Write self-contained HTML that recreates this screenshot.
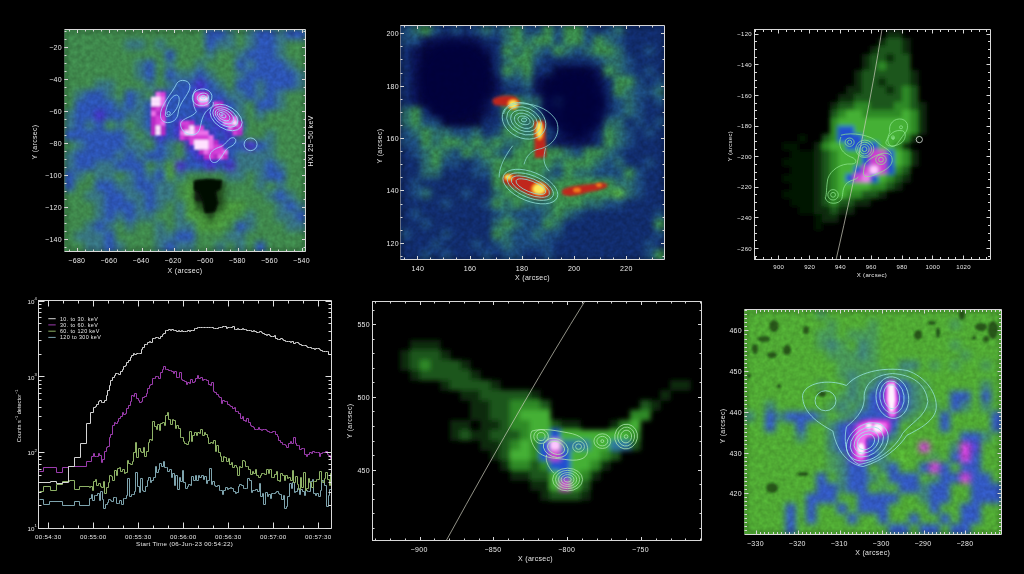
<!DOCTYPE html>
<html><head><meta charset="utf-8"><title>Solar flare observations</title>
<style>html,body{margin:0;padding:0;background:#000;width:1024px;height:574px;overflow:hidden}svg{display:block}</style>
</head><body>
<svg width="1024" height="574" viewBox="0 0 1024 574" font-family="Liberation Sans, sans-serif">
<rect width="1024" height="574" fill="#000"/>
<defs>
<filter id="b1" x="-10%" y="-10%" width="120%" height="120%" color-interpolation-filters="sRGB"><feGaussianBlur in="SourceGraphic" stdDeviation="3.0" result="bl"/><feTurbulence type="fractalNoise" baseFrequency="0.22" numOctaves="2" seed="51" result="tn"/><feColorMatrix in="tn" type="matrix" values="1 0 0 0 0  1 0 0 0 0  1 0 0 0 0  0 0 0 0 1" result="gn"/><feComposite in="bl" in2="gn" operator="arithmetic" k1="0.32" k2="0.84" k3="0" k4="0"/></filter>
<filter id="b2" x="-10%" y="-10%" width="120%" height="120%" color-interpolation-filters="sRGB"><feGaussianBlur in="SourceGraphic" stdDeviation="3.0" result="bl"/><feTurbulence type="fractalNoise" baseFrequency="0.22" numOctaves="2" seed="52" result="tn"/><feColorMatrix in="tn" type="matrix" values="1 0 0 0 0  1 0 0 0 0  1 0 0 0 0  0 0 0 0 1" result="gn"/><feComposite in="bl" in2="gn" operator="arithmetic" k1="0.44" k2="0.78" k3="0" k4="0"/></filter>
<filter id="b3" x="-10%" y="-10%" width="120%" height="120%"><feGaussianBlur stdDeviation="2.2"/></filter>
<filter id="b5" x="-10%" y="-10%" width="120%" height="120%"><feGaussianBlur stdDeviation="2.5"/></filter>
<filter id="b6" x="-10%" y="-10%" width="120%" height="120%" color-interpolation-filters="sRGB"><feGaussianBlur in="SourceGraphic" stdDeviation="3.0" result="bl"/><feTurbulence type="fractalNoise" baseFrequency="0.22" numOctaves="2" seed="56" result="tn"/><feColorMatrix in="tn" type="matrix" values="1 0 0 0 0  1 0 0 0 0  1 0 0 0 0  0 0 0 0 1" result="gn"/><feComposite in="bl" in2="gn" operator="arithmetic" k1="0.28" k2="0.86" k3="0" k4="0"/></filter>
<clipPath id="c1"><rect x="64.5" y="29.5" width="241" height="222"/></clipPath>
<clipPath id="c2"><rect x="400.5" y="25.3" width="264" height="234.4"/></clipPath>
<clipPath id="c3"><rect x="754.4" y="29.5" width="236.2" height="229.7"/></clipPath>
<clipPath id="c5"><rect x="372.4" y="301.4" width="329.4" height="238.8"/></clipPath>
<clipPath id="c6"><rect x="744.3" y="309.3" width="257.1" height="224.7"/></clipPath>
</defs>
<defs><filter id="hb" x="-20%" y="-20%" width="140%" height="140%"><feGaussianBlur stdDeviation="1.3"/></filter></defs>
<g clip-path="url(#c1)"><rect x="59.5" y="24.5" width="251" height="232" fill="#3f884c"/>
<g filter="url(#b1)">
<rect x="64.50" y="29.50" width="10.64" height="10.69" fill="#3f884c"/>
<rect x="74.54" y="29.50" width="10.64" height="10.69" fill="#3f884c"/>
<rect x="84.58" y="29.50" width="10.64" height="10.69" fill="#3f884c"/>
<rect x="94.62" y="29.50" width="10.64" height="10.69" fill="#3f884c"/>
<rect x="104.67" y="29.50" width="10.64" height="10.69" fill="#3f884c"/>
<rect x="114.71" y="29.50" width="10.64" height="10.69" fill="#3f884c"/>
<rect x="124.75" y="29.50" width="10.64" height="10.69" fill="#3f884c"/>
<rect x="134.79" y="29.50" width="10.64" height="10.69" fill="#3f884c"/>
<rect x="144.83" y="29.50" width="10.64" height="10.69" fill="#3f884c"/>
<rect x="154.88" y="29.50" width="10.64" height="10.69" fill="#3f884c"/>
<rect x="164.92" y="29.50" width="10.64" height="10.69" fill="#3f884c"/>
<rect x="174.96" y="29.50" width="10.64" height="10.69" fill="#3f884c"/>
<rect x="185.00" y="29.50" width="10.64" height="10.69" fill="#3f884c"/>
<rect x="195.04" y="29.50" width="10.64" height="10.69" fill="#3f884c"/>
<rect x="205.08" y="29.50" width="10.64" height="10.69" fill="#2c54b4"/>
<rect x="215.12" y="29.50" width="10.64" height="10.69" fill="#2c54b4"/>
<rect x="225.17" y="29.50" width="10.64" height="10.69" fill="#377482"/>
<rect x="235.21" y="29.50" width="10.64" height="10.69" fill="#3f884c"/>
<rect x="245.25" y="29.50" width="10.64" height="10.69" fill="#377482"/>
<rect x="255.29" y="29.50" width="10.64" height="10.69" fill="#2c54b4"/>
<rect x="265.33" y="29.50" width="10.64" height="10.69" fill="#2c54b4"/>
<rect x="275.38" y="29.50" width="10.64" height="10.69" fill="#377482"/>
<rect x="285.42" y="29.50" width="10.64" height="10.69" fill="#2c54b4"/>
<rect x="295.46" y="29.50" width="10.64" height="10.69" fill="#2c54b4"/>
<rect x="64.50" y="39.59" width="10.64" height="10.69" fill="#3f884c"/>
<rect x="74.54" y="39.59" width="10.64" height="10.69" fill="#3f884c"/>
<rect x="84.58" y="39.59" width="10.64" height="10.69" fill="#3f884c"/>
<rect x="94.62" y="39.59" width="10.64" height="10.69" fill="#3f884c"/>
<rect x="104.67" y="39.59" width="10.64" height="10.69" fill="#3f884c"/>
<rect x="114.71" y="39.59" width="10.64" height="10.69" fill="#3f884c"/>
<rect x="124.75" y="39.59" width="10.64" height="10.69" fill="#377482"/>
<rect x="134.79" y="39.59" width="10.64" height="10.69" fill="#377482"/>
<rect x="144.83" y="39.59" width="10.64" height="10.69" fill="#3f884c"/>
<rect x="154.88" y="39.59" width="10.64" height="10.69" fill="#377482"/>
<rect x="164.92" y="39.59" width="10.64" height="10.69" fill="#3f884c"/>
<rect x="174.96" y="39.59" width="10.64" height="10.69" fill="#3f884c"/>
<rect x="185.00" y="39.59" width="10.64" height="10.69" fill="#3f884c"/>
<rect x="195.04" y="39.59" width="10.64" height="10.69" fill="#3f884c"/>
<rect x="205.08" y="39.59" width="10.64" height="10.69" fill="#2c54b4"/>
<rect x="215.12" y="39.59" width="10.64" height="10.69" fill="#377482"/>
<rect x="225.17" y="39.59" width="10.64" height="10.69" fill="#377482"/>
<rect x="235.21" y="39.59" width="10.64" height="10.69" fill="#3f884c"/>
<rect x="245.25" y="39.59" width="10.64" height="10.69" fill="#377482"/>
<rect x="255.29" y="39.59" width="10.64" height="10.69" fill="#2c54b4"/>
<rect x="265.33" y="39.59" width="10.64" height="10.69" fill="#2c54b4"/>
<rect x="275.38" y="39.59" width="10.64" height="10.69" fill="#377482"/>
<rect x="285.42" y="39.59" width="10.64" height="10.69" fill="#3f884c"/>
<rect x="295.46" y="39.59" width="10.64" height="10.69" fill="#3f884c"/>
<rect x="64.50" y="49.68" width="10.64" height="10.69" fill="#3f884c"/>
<rect x="74.54" y="49.68" width="10.64" height="10.69" fill="#3f884c"/>
<rect x="84.58" y="49.68" width="10.64" height="10.69" fill="#3f884c"/>
<rect x="94.62" y="49.68" width="10.64" height="10.69" fill="#3f884c"/>
<rect x="104.67" y="49.68" width="10.64" height="10.69" fill="#3f884c"/>
<rect x="114.71" y="49.68" width="10.64" height="10.69" fill="#3f884c"/>
<rect x="124.75" y="49.68" width="10.64" height="10.69" fill="#3f884c"/>
<rect x="134.79" y="49.68" width="10.64" height="10.69" fill="#3f884c"/>
<rect x="144.83" y="49.68" width="10.64" height="10.69" fill="#3f884c"/>
<rect x="154.88" y="49.68" width="10.64" height="10.69" fill="#3f884c"/>
<rect x="164.92" y="49.68" width="10.64" height="10.69" fill="#2c54b4"/>
<rect x="174.96" y="49.68" width="10.64" height="10.69" fill="#3f884c"/>
<rect x="185.00" y="49.68" width="10.64" height="10.69" fill="#3f884c"/>
<rect x="195.04" y="49.68" width="10.64" height="10.69" fill="#3f884c"/>
<rect x="205.08" y="49.68" width="10.64" height="10.69" fill="#377482"/>
<rect x="215.12" y="49.68" width="10.64" height="10.69" fill="#3f884c"/>
<rect x="225.17" y="49.68" width="10.64" height="10.69" fill="#3f884c"/>
<rect x="235.21" y="49.68" width="10.64" height="10.69" fill="#377482"/>
<rect x="245.25" y="49.68" width="10.64" height="10.69" fill="#2c54b4"/>
<rect x="255.29" y="49.68" width="10.64" height="10.69" fill="#2c54b4"/>
<rect x="265.33" y="49.68" width="10.64" height="10.69" fill="#2c54b4"/>
<rect x="275.38" y="49.68" width="10.64" height="10.69" fill="#377482"/>
<rect x="285.42" y="49.68" width="10.64" height="10.69" fill="#3f884c"/>
<rect x="295.46" y="49.68" width="10.64" height="10.69" fill="#3f884c"/>
<rect x="64.50" y="59.77" width="10.64" height="10.69" fill="#3f884c"/>
<rect x="74.54" y="59.77" width="10.64" height="10.69" fill="#3f884c"/>
<rect x="84.58" y="59.77" width="10.64" height="10.69" fill="#3f884c"/>
<rect x="94.62" y="59.77" width="10.64" height="10.69" fill="#3f884c"/>
<rect x="104.67" y="59.77" width="10.64" height="10.69" fill="#3f884c"/>
<rect x="114.71" y="59.77" width="10.64" height="10.69" fill="#3f884c"/>
<rect x="124.75" y="59.77" width="10.64" height="10.69" fill="#3f884c"/>
<rect x="134.79" y="59.77" width="10.64" height="10.69" fill="#377482"/>
<rect x="144.83" y="59.77" width="10.64" height="10.69" fill="#2c54b4"/>
<rect x="154.88" y="59.77" width="10.64" height="10.69" fill="#3f884c"/>
<rect x="164.92" y="59.77" width="10.64" height="10.69" fill="#377482"/>
<rect x="174.96" y="59.77" width="10.64" height="10.69" fill="#3f884c"/>
<rect x="185.00" y="59.77" width="10.64" height="10.69" fill="#3f884c"/>
<rect x="195.04" y="59.77" width="10.64" height="10.69" fill="#377482"/>
<rect x="205.08" y="59.77" width="10.64" height="10.69" fill="#3f884c"/>
<rect x="215.12" y="59.77" width="10.64" height="10.69" fill="#3f884c"/>
<rect x="225.17" y="59.77" width="10.64" height="10.69" fill="#3f884c"/>
<rect x="235.21" y="59.77" width="10.64" height="10.69" fill="#2c54b4"/>
<rect x="245.25" y="59.77" width="10.64" height="10.69" fill="#377482"/>
<rect x="255.29" y="59.77" width="10.64" height="10.69" fill="#2c54b4"/>
<rect x="265.33" y="59.77" width="10.64" height="10.69" fill="#2c54b4"/>
<rect x="275.38" y="59.77" width="10.64" height="10.69" fill="#2c54b4"/>
<rect x="285.42" y="59.77" width="10.64" height="10.69" fill="#377482"/>
<rect x="295.46" y="59.77" width="10.64" height="10.69" fill="#3f884c"/>
<rect x="64.50" y="69.86" width="10.64" height="10.69" fill="#3f884c"/>
<rect x="74.54" y="69.86" width="10.64" height="10.69" fill="#3f884c"/>
<rect x="84.58" y="69.86" width="10.64" height="10.69" fill="#3f884c"/>
<rect x="94.62" y="69.86" width="10.64" height="10.69" fill="#3f884c"/>
<rect x="104.67" y="69.86" width="10.64" height="10.69" fill="#3f884c"/>
<rect x="114.71" y="69.86" width="10.64" height="10.69" fill="#3f884c"/>
<rect x="124.75" y="69.86" width="10.64" height="10.69" fill="#3f884c"/>
<rect x="134.79" y="69.86" width="10.64" height="10.69" fill="#377482"/>
<rect x="144.83" y="69.86" width="10.64" height="10.69" fill="#2c54b4"/>
<rect x="154.88" y="69.86" width="10.64" height="10.69" fill="#3f884c"/>
<rect x="164.92" y="69.86" width="10.64" height="10.69" fill="#2c54b4"/>
<rect x="174.96" y="69.86" width="10.64" height="10.69" fill="#377482"/>
<rect x="185.00" y="69.86" width="10.64" height="10.69" fill="#377482"/>
<rect x="195.04" y="69.86" width="10.64" height="10.69" fill="#2c54b4"/>
<rect x="205.08" y="69.86" width="10.64" height="10.69" fill="#377482"/>
<rect x="215.12" y="69.86" width="10.64" height="10.69" fill="#3f884c"/>
<rect x="225.17" y="69.86" width="10.64" height="10.69" fill="#3f884c"/>
<rect x="235.21" y="69.86" width="10.64" height="10.69" fill="#377482"/>
<rect x="245.25" y="69.86" width="10.64" height="10.69" fill="#2c54b4"/>
<rect x="255.29" y="69.86" width="10.64" height="10.69" fill="#2c54b4"/>
<rect x="265.33" y="69.86" width="10.64" height="10.69" fill="#2c54b4"/>
<rect x="275.38" y="69.86" width="10.64" height="10.69" fill="#2c54b4"/>
<rect x="285.42" y="69.86" width="10.64" height="10.69" fill="#2c54b4"/>
<rect x="295.46" y="69.86" width="10.64" height="10.69" fill="#377482"/>
<rect x="64.50" y="79.95" width="10.64" height="10.69" fill="#3f884c"/>
<rect x="74.54" y="79.95" width="10.64" height="10.69" fill="#3f884c"/>
<rect x="84.58" y="79.95" width="10.64" height="10.69" fill="#3f884c"/>
<rect x="94.62" y="79.95" width="10.64" height="10.69" fill="#377482"/>
<rect x="104.67" y="79.95" width="10.64" height="10.69" fill="#377482"/>
<rect x="114.71" y="79.95" width="10.64" height="10.69" fill="#3f884c"/>
<rect x="124.75" y="79.95" width="10.64" height="10.69" fill="#3f884c"/>
<rect x="134.79" y="79.95" width="10.64" height="10.69" fill="#3f884c"/>
<rect x="144.83" y="79.95" width="10.64" height="10.69" fill="#377482"/>
<rect x="154.88" y="79.95" width="10.64" height="10.69" fill="#3f884c"/>
<rect x="164.92" y="79.95" width="10.64" height="10.69" fill="#377482"/>
<rect x="174.96" y="79.95" width="10.64" height="10.69" fill="#2c54b4"/>
<rect x="185.00" y="79.95" width="10.64" height="10.69" fill="#2c54b4"/>
<rect x="195.04" y="79.95" width="10.64" height="10.69" fill="#4630c8"/>
<rect x="205.08" y="79.95" width="10.64" height="10.69" fill="#2c54b4"/>
<rect x="215.12" y="79.95" width="10.64" height="10.69" fill="#377482"/>
<rect x="225.17" y="79.95" width="10.64" height="10.69" fill="#3f884c"/>
<rect x="235.21" y="79.95" width="10.64" height="10.69" fill="#2c54b4"/>
<rect x="245.25" y="79.95" width="10.64" height="10.69" fill="#2c54b4"/>
<rect x="255.29" y="79.95" width="10.64" height="10.69" fill="#377482"/>
<rect x="265.33" y="79.95" width="10.64" height="10.69" fill="#2c54b4"/>
<rect x="275.38" y="79.95" width="10.64" height="10.69" fill="#2c54b4"/>
<rect x="285.42" y="79.95" width="10.64" height="10.69" fill="#2c54b4"/>
<rect x="295.46" y="79.95" width="10.64" height="10.69" fill="#377482"/>
<rect x="64.50" y="90.05" width="10.64" height="10.69" fill="#3f884c"/>
<rect x="74.54" y="90.05" width="10.64" height="10.69" fill="#377482"/>
<rect x="84.58" y="90.05" width="10.64" height="10.69" fill="#2c54b4"/>
<rect x="94.62" y="90.05" width="10.64" height="10.69" fill="#2c54b4"/>
<rect x="104.67" y="90.05" width="10.64" height="10.69" fill="#377482"/>
<rect x="114.71" y="90.05" width="10.64" height="10.69" fill="#3f884c"/>
<rect x="124.75" y="90.05" width="10.64" height="10.69" fill="#2c54b4"/>
<rect x="134.79" y="90.05" width="10.64" height="10.69" fill="#377482"/>
<rect x="144.83" y="90.05" width="10.64" height="10.69" fill="#3f884c"/>
<rect x="154.88" y="90.05" width="10.64" height="10.69" fill="#4630c8"/>
<rect x="164.92" y="90.05" width="10.64" height="10.69" fill="#2c54b4"/>
<rect x="174.96" y="90.05" width="10.64" height="10.69" fill="#2c54b4"/>
<rect x="185.00" y="90.05" width="10.64" height="10.69" fill="#2c54b4"/>
<rect x="195.04" y="90.05" width="10.64" height="10.69" fill="#4630c8"/>
<rect x="205.08" y="90.05" width="10.64" height="10.69" fill="#2c54b4"/>
<rect x="215.12" y="90.05" width="10.64" height="10.69" fill="#2c54b4"/>
<rect x="225.17" y="90.05" width="10.64" height="10.69" fill="#377482"/>
<rect x="235.21" y="90.05" width="10.64" height="10.69" fill="#377482"/>
<rect x="245.25" y="90.05" width="10.64" height="10.69" fill="#2c54b4"/>
<rect x="255.29" y="90.05" width="10.64" height="10.69" fill="#377482"/>
<rect x="265.33" y="90.05" width="10.64" height="10.69" fill="#2c54b4"/>
<rect x="275.38" y="90.05" width="10.64" height="10.69" fill="#377482"/>
<rect x="285.42" y="90.05" width="10.64" height="10.69" fill="#3f884c"/>
<rect x="295.46" y="90.05" width="10.64" height="10.69" fill="#3f884c"/>
<rect x="64.50" y="100.14" width="10.64" height="10.69" fill="#3f884c"/>
<rect x="74.54" y="100.14" width="10.64" height="10.69" fill="#2c54b4"/>
<rect x="84.58" y="100.14" width="10.64" height="10.69" fill="#2c54b4"/>
<rect x="94.62" y="100.14" width="10.64" height="10.69" fill="#2c54b4"/>
<rect x="104.67" y="100.14" width="10.64" height="10.69" fill="#2c54b4"/>
<rect x="114.71" y="100.14" width="10.64" height="10.69" fill="#377482"/>
<rect x="124.75" y="100.14" width="10.64" height="10.69" fill="#2c54b4"/>
<rect x="134.79" y="100.14" width="10.64" height="10.69" fill="#377482"/>
<rect x="144.83" y="100.14" width="10.64" height="10.69" fill="#2c54b4"/>
<rect x="154.88" y="100.14" width="10.64" height="10.69" fill="#4630c8"/>
<rect x="164.92" y="100.14" width="10.64" height="10.69" fill="#2c54b4"/>
<rect x="174.96" y="100.14" width="10.64" height="10.69" fill="#2c54b4"/>
<rect x="185.00" y="100.14" width="10.64" height="10.69" fill="#2c54b4"/>
<rect x="195.04" y="100.14" width="10.64" height="10.69" fill="#4630c8"/>
<rect x="205.08" y="100.14" width="10.64" height="10.69" fill="#2c54b4"/>
<rect x="215.12" y="100.14" width="10.64" height="10.69" fill="#4630c8"/>
<rect x="225.17" y="100.14" width="10.64" height="10.69" fill="#2c54b4"/>
<rect x="235.21" y="100.14" width="10.64" height="10.69" fill="#377482"/>
<rect x="245.25" y="100.14" width="10.64" height="10.69" fill="#3f884c"/>
<rect x="255.29" y="100.14" width="10.64" height="10.69" fill="#2c54b4"/>
<rect x="265.33" y="100.14" width="10.64" height="10.69" fill="#2c54b4"/>
<rect x="275.38" y="100.14" width="10.64" height="10.69" fill="#377482"/>
<rect x="285.42" y="100.14" width="10.64" height="10.69" fill="#3f884c"/>
<rect x="295.46" y="100.14" width="10.64" height="10.69" fill="#3f884c"/>
<rect x="64.50" y="110.23" width="10.64" height="10.69" fill="#377482"/>
<rect x="74.54" y="110.23" width="10.64" height="10.69" fill="#2c54b4"/>
<rect x="84.58" y="110.23" width="10.64" height="10.69" fill="#2c54b4"/>
<rect x="94.62" y="110.23" width="10.64" height="10.69" fill="#4630c8"/>
<rect x="104.67" y="110.23" width="10.64" height="10.69" fill="#2c54b4"/>
<rect x="114.71" y="110.23" width="10.64" height="10.69" fill="#2c54b4"/>
<rect x="124.75" y="110.23" width="10.64" height="10.69" fill="#377482"/>
<rect x="134.79" y="110.23" width="10.64" height="10.69" fill="#377482"/>
<rect x="144.83" y="110.23" width="10.64" height="10.69" fill="#2c54b4"/>
<rect x="154.88" y="110.23" width="10.64" height="10.69" fill="#4630c8"/>
<rect x="164.92" y="110.23" width="10.64" height="10.69" fill="#2c54b4"/>
<rect x="174.96" y="110.23" width="10.64" height="10.69" fill="#2c54b4"/>
<rect x="185.00" y="110.23" width="10.64" height="10.69" fill="#2c54b4"/>
<rect x="195.04" y="110.23" width="10.64" height="10.69" fill="#2c54b4"/>
<rect x="205.08" y="110.23" width="10.64" height="10.69" fill="#4630c8"/>
<rect x="215.12" y="110.23" width="10.64" height="10.69" fill="#4630c8"/>
<rect x="225.17" y="110.23" width="10.64" height="10.69" fill="#2c54b4"/>
<rect x="235.21" y="110.23" width="10.64" height="10.69" fill="#377482"/>
<rect x="245.25" y="110.23" width="10.64" height="10.69" fill="#3f884c"/>
<rect x="255.29" y="110.23" width="10.64" height="10.69" fill="#377482"/>
<rect x="265.33" y="110.23" width="10.64" height="10.69" fill="#3f884c"/>
<rect x="275.38" y="110.23" width="10.64" height="10.69" fill="#3f884c"/>
<rect x="285.42" y="110.23" width="10.64" height="10.69" fill="#3f884c"/>
<rect x="295.46" y="110.23" width="10.64" height="10.69" fill="#3f884c"/>
<rect x="64.50" y="120.32" width="10.64" height="10.69" fill="#377482"/>
<rect x="74.54" y="120.32" width="10.64" height="10.69" fill="#2c54b4"/>
<rect x="84.58" y="120.32" width="10.64" height="10.69" fill="#377482"/>
<rect x="94.62" y="120.32" width="10.64" height="10.69" fill="#2c54b4"/>
<rect x="104.67" y="120.32" width="10.64" height="10.69" fill="#3f884c"/>
<rect x="114.71" y="120.32" width="10.64" height="10.69" fill="#377482"/>
<rect x="124.75" y="120.32" width="10.64" height="10.69" fill="#3f884c"/>
<rect x="134.79" y="120.32" width="10.64" height="10.69" fill="#377482"/>
<rect x="144.83" y="120.32" width="10.64" height="10.69" fill="#2c54b4"/>
<rect x="154.88" y="120.32" width="10.64" height="10.69" fill="#4630c8"/>
<rect x="164.92" y="120.32" width="10.64" height="10.69" fill="#2c54b4"/>
<rect x="174.96" y="120.32" width="10.64" height="10.69" fill="#4630c8"/>
<rect x="185.00" y="120.32" width="10.64" height="10.69" fill="#4630c8"/>
<rect x="195.04" y="120.32" width="10.64" height="10.69" fill="#2c54b4"/>
<rect x="205.08" y="120.32" width="10.64" height="10.69" fill="#2c54b4"/>
<rect x="215.12" y="120.32" width="10.64" height="10.69" fill="#4630c8"/>
<rect x="225.17" y="120.32" width="10.64" height="10.69" fill="#4630c8"/>
<rect x="235.21" y="120.32" width="10.64" height="10.69" fill="#2c54b4"/>
<rect x="245.25" y="120.32" width="10.64" height="10.69" fill="#3f884c"/>
<rect x="255.29" y="120.32" width="10.64" height="10.69" fill="#3f884c"/>
<rect x="265.33" y="120.32" width="10.64" height="10.69" fill="#3f884c"/>
<rect x="275.38" y="120.32" width="10.64" height="10.69" fill="#3f884c"/>
<rect x="285.42" y="120.32" width="10.64" height="10.69" fill="#3f884c"/>
<rect x="295.46" y="120.32" width="10.64" height="10.69" fill="#3f884c"/>
<rect x="64.50" y="130.41" width="10.64" height="10.69" fill="#2c54b4"/>
<rect x="74.54" y="130.41" width="10.64" height="10.69" fill="#2c54b4"/>
<rect x="84.58" y="130.41" width="10.64" height="10.69" fill="#2c54b4"/>
<rect x="94.62" y="130.41" width="10.64" height="10.69" fill="#2c54b4"/>
<rect x="104.67" y="130.41" width="10.64" height="10.69" fill="#2c54b4"/>
<rect x="114.71" y="130.41" width="10.64" height="10.69" fill="#2c54b4"/>
<rect x="124.75" y="130.41" width="10.64" height="10.69" fill="#377482"/>
<rect x="134.79" y="130.41" width="10.64" height="10.69" fill="#3f884c"/>
<rect x="144.83" y="130.41" width="10.64" height="10.69" fill="#377482"/>
<rect x="154.88" y="130.41" width="10.64" height="10.69" fill="#4630c8"/>
<rect x="164.92" y="130.41" width="10.64" height="10.69" fill="#2c54b4"/>
<rect x="174.96" y="130.41" width="10.64" height="10.69" fill="#4630c8"/>
<rect x="185.00" y="130.41" width="10.64" height="10.69" fill="#4630c8"/>
<rect x="195.04" y="130.41" width="10.64" height="10.69" fill="#4630c8"/>
<rect x="205.08" y="130.41" width="10.64" height="10.69" fill="#4630c8"/>
<rect x="215.12" y="130.41" width="10.64" height="10.69" fill="#2c54b4"/>
<rect x="225.17" y="130.41" width="10.64" height="10.69" fill="#4630c8"/>
<rect x="235.21" y="130.41" width="10.64" height="10.69" fill="#377482"/>
<rect x="245.25" y="130.41" width="10.64" height="10.69" fill="#3f884c"/>
<rect x="255.29" y="130.41" width="10.64" height="10.69" fill="#3f884c"/>
<rect x="265.33" y="130.41" width="10.64" height="10.69" fill="#377482"/>
<rect x="275.38" y="130.41" width="10.64" height="10.69" fill="#3f884c"/>
<rect x="285.42" y="130.41" width="10.64" height="10.69" fill="#3f884c"/>
<rect x="295.46" y="130.41" width="10.64" height="10.69" fill="#3f884c"/>
<rect x="64.50" y="140.50" width="10.64" height="10.69" fill="#3f884c"/>
<rect x="74.54" y="140.50" width="10.64" height="10.69" fill="#377482"/>
<rect x="84.58" y="140.50" width="10.64" height="10.69" fill="#2c54b4"/>
<rect x="94.62" y="140.50" width="10.64" height="10.69" fill="#2c54b4"/>
<rect x="104.67" y="140.50" width="10.64" height="10.69" fill="#2c54b4"/>
<rect x="114.71" y="140.50" width="10.64" height="10.69" fill="#2c54b4"/>
<rect x="124.75" y="140.50" width="10.64" height="10.69" fill="#377482"/>
<rect x="134.79" y="140.50" width="10.64" height="10.69" fill="#377482"/>
<rect x="144.83" y="140.50" width="10.64" height="10.69" fill="#3f884c"/>
<rect x="154.88" y="140.50" width="10.64" height="10.69" fill="#2c54b4"/>
<rect x="164.92" y="140.50" width="10.64" height="10.69" fill="#377482"/>
<rect x="174.96" y="140.50" width="10.64" height="10.69" fill="#3f884c"/>
<rect x="185.00" y="140.50" width="10.64" height="10.69" fill="#4630c8"/>
<rect x="195.04" y="140.50" width="10.64" height="10.69" fill="#4630c8"/>
<rect x="205.08" y="140.50" width="10.64" height="10.69" fill="#4630c8"/>
<rect x="215.12" y="140.50" width="10.64" height="10.69" fill="#4630c8"/>
<rect x="225.17" y="140.50" width="10.64" height="10.69" fill="#2c54b4"/>
<rect x="235.21" y="140.50" width="10.64" height="10.69" fill="#2c54b4"/>
<rect x="245.25" y="140.50" width="10.64" height="10.69" fill="#4630c8"/>
<rect x="255.29" y="140.50" width="10.64" height="10.69" fill="#2c54b4"/>
<rect x="265.33" y="140.50" width="10.64" height="10.69" fill="#377482"/>
<rect x="275.38" y="140.50" width="10.64" height="10.69" fill="#3f884c"/>
<rect x="285.42" y="140.50" width="10.64" height="10.69" fill="#3f884c"/>
<rect x="295.46" y="140.50" width="10.64" height="10.69" fill="#3f884c"/>
<rect x="64.50" y="150.59" width="10.64" height="10.69" fill="#377482"/>
<rect x="74.54" y="150.59" width="10.64" height="10.69" fill="#2c54b4"/>
<rect x="84.58" y="150.59" width="10.64" height="10.69" fill="#2c54b4"/>
<rect x="94.62" y="150.59" width="10.64" height="10.69" fill="#2c54b4"/>
<rect x="104.67" y="150.59" width="10.64" height="10.69" fill="#2c54b4"/>
<rect x="114.71" y="150.59" width="10.64" height="10.69" fill="#377482"/>
<rect x="124.75" y="150.59" width="10.64" height="10.69" fill="#2c54b4"/>
<rect x="134.79" y="150.59" width="10.64" height="10.69" fill="#377482"/>
<rect x="144.83" y="150.59" width="10.64" height="10.69" fill="#2c54b4"/>
<rect x="154.88" y="150.59" width="10.64" height="10.69" fill="#2c54b4"/>
<rect x="164.92" y="150.59" width="10.64" height="10.69" fill="#377482"/>
<rect x="174.96" y="150.59" width="10.64" height="10.69" fill="#3f884c"/>
<rect x="185.00" y="150.59" width="10.64" height="10.69" fill="#2c54b4"/>
<rect x="195.04" y="150.59" width="10.64" height="10.69" fill="#4630c8"/>
<rect x="205.08" y="150.59" width="10.64" height="10.69" fill="#4630c8"/>
<rect x="215.12" y="150.59" width="10.64" height="10.69" fill="#4630c8"/>
<rect x="225.17" y="150.59" width="10.64" height="10.69" fill="#2c54b4"/>
<rect x="235.21" y="150.59" width="10.64" height="10.69" fill="#377482"/>
<rect x="245.25" y="150.59" width="10.64" height="10.69" fill="#377482"/>
<rect x="255.29" y="150.59" width="10.64" height="10.69" fill="#377482"/>
<rect x="265.33" y="150.59" width="10.64" height="10.69" fill="#377482"/>
<rect x="275.38" y="150.59" width="10.64" height="10.69" fill="#3f884c"/>
<rect x="285.42" y="150.59" width="10.64" height="10.69" fill="#3f884c"/>
<rect x="295.46" y="150.59" width="10.64" height="10.69" fill="#3f884c"/>
<rect x="64.50" y="160.68" width="10.64" height="10.69" fill="#377482"/>
<rect x="74.54" y="160.68" width="10.64" height="10.69" fill="#2c54b4"/>
<rect x="84.58" y="160.68" width="10.64" height="10.69" fill="#2c54b4"/>
<rect x="94.62" y="160.68" width="10.64" height="10.69" fill="#377482"/>
<rect x="104.67" y="160.68" width="10.64" height="10.69" fill="#377482"/>
<rect x="114.71" y="160.68" width="10.64" height="10.69" fill="#2c54b4"/>
<rect x="124.75" y="160.68" width="10.64" height="10.69" fill="#2c54b4"/>
<rect x="134.79" y="160.68" width="10.64" height="10.69" fill="#2c54b4"/>
<rect x="144.83" y="160.68" width="10.64" height="10.69" fill="#3f884c"/>
<rect x="154.88" y="160.68" width="10.64" height="10.69" fill="#377482"/>
<rect x="164.92" y="160.68" width="10.64" height="10.69" fill="#4a9a3e"/>
<rect x="174.96" y="160.68" width="10.64" height="10.69" fill="#4630c8"/>
<rect x="185.00" y="160.68" width="10.64" height="10.69" fill="#2c54b4"/>
<rect x="195.04" y="160.68" width="10.64" height="10.69" fill="#2c54b4"/>
<rect x="205.08" y="160.68" width="10.64" height="10.69" fill="#4630c8"/>
<rect x="215.12" y="160.68" width="10.64" height="10.69" fill="#2c54b4"/>
<rect x="225.17" y="160.68" width="10.64" height="10.69" fill="#4630c8"/>
<rect x="235.21" y="160.68" width="10.64" height="10.69" fill="#377482"/>
<rect x="245.25" y="160.68" width="10.64" height="10.69" fill="#377482"/>
<rect x="255.29" y="160.68" width="10.64" height="10.69" fill="#377482"/>
<rect x="265.33" y="160.68" width="10.64" height="10.69" fill="#2c54b4"/>
<rect x="275.38" y="160.68" width="10.64" height="10.69" fill="#377482"/>
<rect x="285.42" y="160.68" width="10.64" height="10.69" fill="#3f884c"/>
<rect x="295.46" y="160.68" width="10.64" height="10.69" fill="#3f884c"/>
<rect x="64.50" y="170.77" width="10.64" height="10.69" fill="#2c54b4"/>
<rect x="74.54" y="170.77" width="10.64" height="10.69" fill="#377482"/>
<rect x="84.58" y="170.77" width="10.64" height="10.69" fill="#3f884c"/>
<rect x="94.62" y="170.77" width="10.64" height="10.69" fill="#377482"/>
<rect x="104.67" y="170.77" width="10.64" height="10.69" fill="#377482"/>
<rect x="114.71" y="170.77" width="10.64" height="10.69" fill="#3f884c"/>
<rect x="124.75" y="170.77" width="10.64" height="10.69" fill="#377482"/>
<rect x="134.79" y="170.77" width="10.64" height="10.69" fill="#2c54b4"/>
<rect x="144.83" y="170.77" width="10.64" height="10.69" fill="#377482"/>
<rect x="154.88" y="170.77" width="10.64" height="10.69" fill="#2c54b4"/>
<rect x="164.92" y="170.77" width="10.64" height="10.69" fill="#4a9a3e"/>
<rect x="174.96" y="170.77" width="10.64" height="10.69" fill="#377482"/>
<rect x="185.00" y="170.77" width="10.64" height="10.69" fill="#3f884c"/>
<rect x="195.04" y="170.77" width="10.64" height="10.69" fill="#3f884c"/>
<rect x="205.08" y="170.77" width="10.64" height="10.69" fill="#3f884c"/>
<rect x="215.12" y="170.77" width="10.64" height="10.69" fill="#3f884c"/>
<rect x="225.17" y="170.77" width="10.64" height="10.69" fill="#377482"/>
<rect x="235.21" y="170.77" width="10.64" height="10.69" fill="#377482"/>
<rect x="245.25" y="170.77" width="10.64" height="10.69" fill="#3f884c"/>
<rect x="255.29" y="170.77" width="10.64" height="10.69" fill="#377482"/>
<rect x="265.33" y="170.77" width="10.64" height="10.69" fill="#2c54b4"/>
<rect x="275.38" y="170.77" width="10.64" height="10.69" fill="#2c54b4"/>
<rect x="285.42" y="170.77" width="10.64" height="10.69" fill="#3f884c"/>
<rect x="295.46" y="170.77" width="10.64" height="10.69" fill="#3f884c"/>
<rect x="64.50" y="180.86" width="10.64" height="10.69" fill="#2c54b4"/>
<rect x="74.54" y="180.86" width="10.64" height="10.69" fill="#3f884c"/>
<rect x="84.58" y="180.86" width="10.64" height="10.69" fill="#3f884c"/>
<rect x="94.62" y="180.86" width="10.64" height="10.69" fill="#2c54b4"/>
<rect x="104.67" y="180.86" width="10.64" height="10.69" fill="#2c54b4"/>
<rect x="114.71" y="180.86" width="10.64" height="10.69" fill="#377482"/>
<rect x="124.75" y="180.86" width="10.64" height="10.69" fill="#377482"/>
<rect x="134.79" y="180.86" width="10.64" height="10.69" fill="#2c54b4"/>
<rect x="144.83" y="180.86" width="10.64" height="10.69" fill="#2c54b4"/>
<rect x="154.88" y="180.86" width="10.64" height="10.69" fill="#377482"/>
<rect x="164.92" y="180.86" width="10.64" height="10.69" fill="#377482"/>
<rect x="174.96" y="180.86" width="10.64" height="10.69" fill="#3f884c"/>
<rect x="185.00" y="180.86" width="10.64" height="10.69" fill="#4a9a3e"/>
<rect x="195.04" y="180.86" width="10.64" height="10.69" fill="#0a140a"/>
<rect x="205.08" y="180.86" width="10.64" height="10.69" fill="#0a140a"/>
<rect x="215.12" y="180.86" width="10.64" height="10.69" fill="#23501f"/>
<rect x="225.17" y="180.86" width="10.64" height="10.69" fill="#3f884c"/>
<rect x="235.21" y="180.86" width="10.64" height="10.69" fill="#3f884c"/>
<rect x="245.25" y="180.86" width="10.64" height="10.69" fill="#3f884c"/>
<rect x="255.29" y="180.86" width="10.64" height="10.69" fill="#377482"/>
<rect x="265.33" y="180.86" width="10.64" height="10.69" fill="#3f884c"/>
<rect x="275.38" y="180.86" width="10.64" height="10.69" fill="#377482"/>
<rect x="285.42" y="180.86" width="10.64" height="10.69" fill="#3f884c"/>
<rect x="295.46" y="180.86" width="10.64" height="10.69" fill="#3f884c"/>
<rect x="64.50" y="190.95" width="10.64" height="10.69" fill="#3f884c"/>
<rect x="74.54" y="190.95" width="10.64" height="10.69" fill="#3f884c"/>
<rect x="84.58" y="190.95" width="10.64" height="10.69" fill="#377482"/>
<rect x="94.62" y="190.95" width="10.64" height="10.69" fill="#377482"/>
<rect x="104.67" y="190.95" width="10.64" height="10.69" fill="#2c54b4"/>
<rect x="114.71" y="190.95" width="10.64" height="10.69" fill="#2c54b4"/>
<rect x="124.75" y="190.95" width="10.64" height="10.69" fill="#377482"/>
<rect x="134.79" y="190.95" width="10.64" height="10.69" fill="#377482"/>
<rect x="144.83" y="190.95" width="10.64" height="10.69" fill="#2c54b4"/>
<rect x="154.88" y="190.95" width="10.64" height="10.69" fill="#377482"/>
<rect x="164.92" y="190.95" width="10.64" height="10.69" fill="#377482"/>
<rect x="174.96" y="190.95" width="10.64" height="10.69" fill="#3f884c"/>
<rect x="185.00" y="190.95" width="10.64" height="10.69" fill="#4a9a3e"/>
<rect x="195.04" y="190.95" width="10.64" height="10.69" fill="#0a140a"/>
<rect x="205.08" y="190.95" width="10.64" height="10.69" fill="#0a140a"/>
<rect x="215.12" y="190.95" width="10.64" height="10.69" fill="#23501f"/>
<rect x="225.17" y="190.95" width="10.64" height="10.69" fill="#3f884c"/>
<rect x="235.21" y="190.95" width="10.64" height="10.69" fill="#3f884c"/>
<rect x="245.25" y="190.95" width="10.64" height="10.69" fill="#3f884c"/>
<rect x="255.29" y="190.95" width="10.64" height="10.69" fill="#3f884c"/>
<rect x="265.33" y="190.95" width="10.64" height="10.69" fill="#377482"/>
<rect x="275.38" y="190.95" width="10.64" height="10.69" fill="#2c54b4"/>
<rect x="285.42" y="190.95" width="10.64" height="10.69" fill="#377482"/>
<rect x="295.46" y="190.95" width="10.64" height="10.69" fill="#3f884c"/>
<rect x="64.50" y="201.05" width="10.64" height="10.69" fill="#3f884c"/>
<rect x="74.54" y="201.05" width="10.64" height="10.69" fill="#3f884c"/>
<rect x="84.58" y="201.05" width="10.64" height="10.69" fill="#3f884c"/>
<rect x="94.62" y="201.05" width="10.64" height="10.69" fill="#377482"/>
<rect x="104.67" y="201.05" width="10.64" height="10.69" fill="#2c54b4"/>
<rect x="114.71" y="201.05" width="10.64" height="10.69" fill="#2c54b4"/>
<rect x="124.75" y="201.05" width="10.64" height="10.69" fill="#2c54b4"/>
<rect x="134.79" y="201.05" width="10.64" height="10.69" fill="#377482"/>
<rect x="144.83" y="201.05" width="10.64" height="10.69" fill="#2c54b4"/>
<rect x="154.88" y="201.05" width="10.64" height="10.69" fill="#377482"/>
<rect x="164.92" y="201.05" width="10.64" height="10.69" fill="#3f884c"/>
<rect x="174.96" y="201.05" width="10.64" height="10.69" fill="#377482"/>
<rect x="185.00" y="201.05" width="10.64" height="10.69" fill="#4a9a3e"/>
<rect x="195.04" y="201.05" width="10.64" height="10.69" fill="#23501f"/>
<rect x="205.08" y="201.05" width="10.64" height="10.69" fill="#0a140a"/>
<rect x="215.12" y="201.05" width="10.64" height="10.69" fill="#23501f"/>
<rect x="225.17" y="201.05" width="10.64" height="10.69" fill="#4a9a3e"/>
<rect x="235.21" y="201.05" width="10.64" height="10.69" fill="#4a9a3e"/>
<rect x="245.25" y="201.05" width="10.64" height="10.69" fill="#3f884c"/>
<rect x="255.29" y="201.05" width="10.64" height="10.69" fill="#3f884c"/>
<rect x="265.33" y="201.05" width="10.64" height="10.69" fill="#3f884c"/>
<rect x="275.38" y="201.05" width="10.64" height="10.69" fill="#377482"/>
<rect x="285.42" y="201.05" width="10.64" height="10.69" fill="#2c54b4"/>
<rect x="295.46" y="201.05" width="10.64" height="10.69" fill="#377482"/>
<rect x="64.50" y="211.14" width="10.64" height="10.69" fill="#3f884c"/>
<rect x="74.54" y="211.14" width="10.64" height="10.69" fill="#3f884c"/>
<rect x="84.58" y="211.14" width="10.64" height="10.69" fill="#3f884c"/>
<rect x="94.62" y="211.14" width="10.64" height="10.69" fill="#377482"/>
<rect x="104.67" y="211.14" width="10.64" height="10.69" fill="#2c54b4"/>
<rect x="114.71" y="211.14" width="10.64" height="10.69" fill="#377482"/>
<rect x="124.75" y="211.14" width="10.64" height="10.69" fill="#2c54b4"/>
<rect x="134.79" y="211.14" width="10.64" height="10.69" fill="#377482"/>
<rect x="144.83" y="211.14" width="10.64" height="10.69" fill="#377482"/>
<rect x="154.88" y="211.14" width="10.64" height="10.69" fill="#3f884c"/>
<rect x="164.92" y="211.14" width="10.64" height="10.69" fill="#3f884c"/>
<rect x="174.96" y="211.14" width="10.64" height="10.69" fill="#377482"/>
<rect x="185.00" y="211.14" width="10.64" height="10.69" fill="#4a9a3e"/>
<rect x="195.04" y="211.14" width="10.64" height="10.69" fill="#4a9a3e"/>
<rect x="205.08" y="211.14" width="10.64" height="10.69" fill="#23501f"/>
<rect x="215.12" y="211.14" width="10.64" height="10.69" fill="#4a9a3e"/>
<rect x="225.17" y="211.14" width="10.64" height="10.69" fill="#4a9a3e"/>
<rect x="235.21" y="211.14" width="10.64" height="10.69" fill="#3f884c"/>
<rect x="245.25" y="211.14" width="10.64" height="10.69" fill="#377482"/>
<rect x="255.29" y="211.14" width="10.64" height="10.69" fill="#3f884c"/>
<rect x="265.33" y="211.14" width="10.64" height="10.69" fill="#3f884c"/>
<rect x="275.38" y="211.14" width="10.64" height="10.69" fill="#377482"/>
<rect x="285.42" y="211.14" width="10.64" height="10.69" fill="#377482"/>
<rect x="295.46" y="211.14" width="10.64" height="10.69" fill="#2c54b4"/>
<rect x="64.50" y="221.23" width="10.64" height="10.69" fill="#3f884c"/>
<rect x="74.54" y="221.23" width="10.64" height="10.69" fill="#3f884c"/>
<rect x="84.58" y="221.23" width="10.64" height="10.69" fill="#377482"/>
<rect x="94.62" y="221.23" width="10.64" height="10.69" fill="#2c54b4"/>
<rect x="104.67" y="221.23" width="10.64" height="10.69" fill="#377482"/>
<rect x="114.71" y="221.23" width="10.64" height="10.69" fill="#3f884c"/>
<rect x="124.75" y="221.23" width="10.64" height="10.69" fill="#377482"/>
<rect x="134.79" y="221.23" width="10.64" height="10.69" fill="#3f884c"/>
<rect x="144.83" y="221.23" width="10.64" height="10.69" fill="#3f884c"/>
<rect x="154.88" y="221.23" width="10.64" height="10.69" fill="#377482"/>
<rect x="164.92" y="221.23" width="10.64" height="10.69" fill="#3f884c"/>
<rect x="174.96" y="221.23" width="10.64" height="10.69" fill="#377482"/>
<rect x="185.00" y="221.23" width="10.64" height="10.69" fill="#377482"/>
<rect x="195.04" y="221.23" width="10.64" height="10.69" fill="#4a9a3e"/>
<rect x="205.08" y="221.23" width="10.64" height="10.69" fill="#4a9a3e"/>
<rect x="215.12" y="221.23" width="10.64" height="10.69" fill="#4a9a3e"/>
<rect x="225.17" y="221.23" width="10.64" height="10.69" fill="#3f884c"/>
<rect x="235.21" y="221.23" width="10.64" height="10.69" fill="#2c54b4"/>
<rect x="245.25" y="221.23" width="10.64" height="10.69" fill="#377482"/>
<rect x="255.29" y="221.23" width="10.64" height="10.69" fill="#3f884c"/>
<rect x="265.33" y="221.23" width="10.64" height="10.69" fill="#3f884c"/>
<rect x="275.38" y="221.23" width="10.64" height="10.69" fill="#3f884c"/>
<rect x="285.42" y="221.23" width="10.64" height="10.69" fill="#377482"/>
<rect x="295.46" y="221.23" width="10.64" height="10.69" fill="#377482"/>
<rect x="64.50" y="231.32" width="10.64" height="10.69" fill="#3f884c"/>
<rect x="74.54" y="231.32" width="10.64" height="10.69" fill="#377482"/>
<rect x="84.58" y="231.32" width="10.64" height="10.69" fill="#377482"/>
<rect x="94.62" y="231.32" width="10.64" height="10.69" fill="#377482"/>
<rect x="104.67" y="231.32" width="10.64" height="10.69" fill="#2c54b4"/>
<rect x="114.71" y="231.32" width="10.64" height="10.69" fill="#3f884c"/>
<rect x="124.75" y="231.32" width="10.64" height="10.69" fill="#3f884c"/>
<rect x="134.79" y="231.32" width="10.64" height="10.69" fill="#3f884c"/>
<rect x="144.83" y="231.32" width="10.64" height="10.69" fill="#3f884c"/>
<rect x="154.88" y="231.32" width="10.64" height="10.69" fill="#377482"/>
<rect x="164.92" y="231.32" width="10.64" height="10.69" fill="#377482"/>
<rect x="174.96" y="231.32" width="10.64" height="10.69" fill="#2c54b4"/>
<rect x="185.00" y="231.32" width="10.64" height="10.69" fill="#2c54b4"/>
<rect x="195.04" y="231.32" width="10.64" height="10.69" fill="#3f884c"/>
<rect x="205.08" y="231.32" width="10.64" height="10.69" fill="#3f884c"/>
<rect x="215.12" y="231.32" width="10.64" height="10.69" fill="#3f884c"/>
<rect x="225.17" y="231.32" width="10.64" height="10.69" fill="#377482"/>
<rect x="235.21" y="231.32" width="10.64" height="10.69" fill="#377482"/>
<rect x="245.25" y="231.32" width="10.64" height="10.69" fill="#3f884c"/>
<rect x="255.29" y="231.32" width="10.64" height="10.69" fill="#3f884c"/>
<rect x="265.33" y="231.32" width="10.64" height="10.69" fill="#3f884c"/>
<rect x="275.38" y="231.32" width="10.64" height="10.69" fill="#3f884c"/>
<rect x="285.42" y="231.32" width="10.64" height="10.69" fill="#3f884c"/>
<rect x="295.46" y="231.32" width="10.64" height="10.69" fill="#3f884c"/>
<rect x="64.50" y="241.41" width="10.64" height="10.69" fill="#3f884c"/>
<rect x="74.54" y="241.41" width="10.64" height="10.69" fill="#3f884c"/>
<rect x="84.58" y="241.41" width="10.64" height="10.69" fill="#377482"/>
<rect x="94.62" y="241.41" width="10.64" height="10.69" fill="#377482"/>
<rect x="104.67" y="241.41" width="10.64" height="10.69" fill="#2c54b4"/>
<rect x="114.71" y="241.41" width="10.64" height="10.69" fill="#377482"/>
<rect x="124.75" y="241.41" width="10.64" height="10.69" fill="#3f884c"/>
<rect x="134.79" y="241.41" width="10.64" height="10.69" fill="#3f884c"/>
<rect x="144.83" y="241.41" width="10.64" height="10.69" fill="#3f884c"/>
<rect x="154.88" y="241.41" width="10.64" height="10.69" fill="#377482"/>
<rect x="164.92" y="241.41" width="10.64" height="10.69" fill="#2c54b4"/>
<rect x="174.96" y="241.41" width="10.64" height="10.69" fill="#377482"/>
<rect x="185.00" y="241.41" width="10.64" height="10.69" fill="#377482"/>
<rect x="195.04" y="241.41" width="10.64" height="10.69" fill="#3f884c"/>
<rect x="205.08" y="241.41" width="10.64" height="10.69" fill="#3f884c"/>
<rect x="215.12" y="241.41" width="10.64" height="10.69" fill="#377482"/>
<rect x="225.17" y="241.41" width="10.64" height="10.69" fill="#3f884c"/>
<rect x="235.21" y="241.41" width="10.64" height="10.69" fill="#377482"/>
<rect x="245.25" y="241.41" width="10.64" height="10.69" fill="#3f884c"/>
<rect x="255.29" y="241.41" width="10.64" height="10.69" fill="#2c54b4"/>
<rect x="265.33" y="241.41" width="10.64" height="10.69" fill="#3f884c"/>
<rect x="275.38" y="241.41" width="10.64" height="10.69" fill="#3f884c"/>
<rect x="285.42" y="241.41" width="10.64" height="10.69" fill="#3f884c"/>
<rect x="295.46" y="241.41" width="10.64" height="10.69" fill="#3f884c"/>
</g>
<g filter="url(#hb)" opacity="0.85">
</g>
<g filter="url(#hb)" opacity="0.8">
<rect x="195.04" y="180.86" width="10.04" height="10.09" fill="#0a140a"/>
<rect x="205.08" y="180.86" width="10.04" height="10.09" fill="#0a140a"/>
<rect x="195.04" y="190.95" width="10.04" height="10.09" fill="#0a140a"/>
<rect x="205.08" y="190.95" width="10.04" height="10.09" fill="#0a140a"/>
<rect x="205.08" y="201.05" width="10.04" height="10.09" fill="#0a140a"/>
</g>
</g>
<g clip-path="url(#c2)"><rect x="395.5" y="20.3" width="274" height="244.4" fill="#112c6c"/>
<g filter="url(#b2)">
<rect x="400.50" y="25.30" width="10.75" height="10.79" fill="#1c4a7c"/>
<rect x="410.65" y="25.30" width="10.75" height="10.79" fill="#2a6a6c"/>
<rect x="420.81" y="25.30" width="10.75" height="10.79" fill="#3a8c4c"/>
<rect x="430.96" y="25.30" width="10.75" height="10.79" fill="#1c4a7c"/>
<rect x="441.12" y="25.30" width="10.75" height="10.79" fill="#112c6c"/>
<rect x="451.27" y="25.30" width="10.75" height="10.79" fill="#1c4a7c"/>
<rect x="461.42" y="25.30" width="10.75" height="10.79" fill="#112c6c"/>
<rect x="471.58" y="25.30" width="10.75" height="10.79" fill="#1c4a7c"/>
<rect x="481.73" y="25.30" width="10.75" height="10.79" fill="#2a6a6c"/>
<rect x="491.88" y="25.30" width="10.75" height="10.79" fill="#1c4a7c"/>
<rect x="502.04" y="25.30" width="10.75" height="10.79" fill="#2a6a6c"/>
<rect x="512.19" y="25.30" width="10.75" height="10.79" fill="#3a8c4c"/>
<rect x="522.35" y="25.30" width="10.75" height="10.79" fill="#1c4a7c"/>
<rect x="532.50" y="25.30" width="10.75" height="10.79" fill="#1c4a7c"/>
<rect x="542.65" y="25.30" width="10.75" height="10.79" fill="#3a8c4c"/>
<rect x="552.81" y="25.30" width="10.75" height="10.79" fill="#1c4a7c"/>
<rect x="562.96" y="25.30" width="10.75" height="10.79" fill="#3a8c4c"/>
<rect x="573.12" y="25.30" width="10.75" height="10.79" fill="#3a8c4c"/>
<rect x="583.27" y="25.30" width="10.75" height="10.79" fill="#1c4a7c"/>
<rect x="593.42" y="25.30" width="10.75" height="10.79" fill="#112c6c"/>
<rect x="603.58" y="25.30" width="10.75" height="10.79" fill="#1c4a7c"/>
<rect x="613.73" y="25.30" width="10.75" height="10.79" fill="#2a6a6c"/>
<rect x="623.88" y="25.30" width="10.75" height="10.79" fill="#112c6c"/>
<rect x="634.04" y="25.30" width="10.75" height="10.79" fill="#112c6c"/>
<rect x="644.19" y="25.30" width="10.75" height="10.79" fill="#112c6c"/>
<rect x="654.35" y="25.30" width="10.75" height="10.79" fill="#112c6c"/>
<rect x="400.50" y="35.49" width="10.75" height="10.79" fill="#1c4a7c"/>
<rect x="410.65" y="35.49" width="10.75" height="10.79" fill="#1c4a7c"/>
<rect x="420.81" y="35.49" width="10.75" height="10.79" fill="#0a1252"/>
<rect x="430.96" y="35.49" width="10.75" height="10.79" fill="#0a1252"/>
<rect x="441.12" y="35.49" width="10.75" height="10.79" fill="#0a1252"/>
<rect x="451.27" y="35.49" width="10.75" height="10.79" fill="#0a1252"/>
<rect x="461.42" y="35.49" width="10.75" height="10.79" fill="#0a1252"/>
<rect x="471.58" y="35.49" width="10.75" height="10.79" fill="#0a1252"/>
<rect x="481.73" y="35.49" width="10.75" height="10.79" fill="#112c6c"/>
<rect x="491.88" y="35.49" width="10.75" height="10.79" fill="#112c6c"/>
<rect x="502.04" y="35.49" width="10.75" height="10.79" fill="#2a6a6c"/>
<rect x="512.19" y="35.49" width="10.75" height="10.79" fill="#3a8c4c"/>
<rect x="522.35" y="35.49" width="10.75" height="10.79" fill="#2a6a6c"/>
<rect x="532.50" y="35.49" width="10.75" height="10.79" fill="#3a8c4c"/>
<rect x="542.65" y="35.49" width="10.75" height="10.79" fill="#3a8c4c"/>
<rect x="552.81" y="35.49" width="10.75" height="10.79" fill="#1c4a7c"/>
<rect x="562.96" y="35.49" width="10.75" height="10.79" fill="#3a8c4c"/>
<rect x="573.12" y="35.49" width="10.75" height="10.79" fill="#3a8c4c"/>
<rect x="583.27" y="35.49" width="10.75" height="10.79" fill="#1c4a7c"/>
<rect x="593.42" y="35.49" width="10.75" height="10.79" fill="#3a8c4c"/>
<rect x="603.58" y="35.49" width="10.75" height="10.79" fill="#2a6a6c"/>
<rect x="613.73" y="35.49" width="10.75" height="10.79" fill="#1c4a7c"/>
<rect x="623.88" y="35.49" width="10.75" height="10.79" fill="#112c6c"/>
<rect x="634.04" y="35.49" width="10.75" height="10.79" fill="#112c6c"/>
<rect x="644.19" y="35.49" width="10.75" height="10.79" fill="#112c6c"/>
<rect x="654.35" y="35.49" width="10.75" height="10.79" fill="#112c6c"/>
<rect x="400.50" y="45.68" width="10.75" height="10.79" fill="#112c6c"/>
<rect x="410.65" y="45.68" width="10.75" height="10.79" fill="#0a1252"/>
<rect x="420.81" y="45.68" width="10.75" height="10.79" fill="#05063c"/>
<rect x="430.96" y="45.68" width="10.75" height="10.79" fill="#05063c"/>
<rect x="441.12" y="45.68" width="10.75" height="10.79" fill="#05063c"/>
<rect x="451.27" y="45.68" width="10.75" height="10.79" fill="#05063c"/>
<rect x="461.42" y="45.68" width="10.75" height="10.79" fill="#05063c"/>
<rect x="471.58" y="45.68" width="10.75" height="10.79" fill="#05063c"/>
<rect x="481.73" y="45.68" width="10.75" height="10.79" fill="#0a1252"/>
<rect x="491.88" y="45.68" width="10.75" height="10.79" fill="#112c6c"/>
<rect x="502.04" y="45.68" width="10.75" height="10.79" fill="#3a8c4c"/>
<rect x="512.19" y="45.68" width="10.75" height="10.79" fill="#2a6a6c"/>
<rect x="522.35" y="45.68" width="10.75" height="10.79" fill="#3a8c4c"/>
<rect x="532.50" y="45.68" width="10.75" height="10.79" fill="#2a6a6c"/>
<rect x="542.65" y="45.68" width="10.75" height="10.79" fill="#1c4a7c"/>
<rect x="552.81" y="45.68" width="10.75" height="10.79" fill="#3a8c4c"/>
<rect x="562.96" y="45.68" width="10.75" height="10.79" fill="#2a6a6c"/>
<rect x="573.12" y="45.68" width="10.75" height="10.79" fill="#1c4a7c"/>
<rect x="583.27" y="45.68" width="10.75" height="10.79" fill="#2a6a6c"/>
<rect x="593.42" y="45.68" width="10.75" height="10.79" fill="#3a8c4c"/>
<rect x="603.58" y="45.68" width="10.75" height="10.79" fill="#3a8c4c"/>
<rect x="613.73" y="45.68" width="10.75" height="10.79" fill="#2a6a6c"/>
<rect x="623.88" y="45.68" width="10.75" height="10.79" fill="#112c6c"/>
<rect x="634.04" y="45.68" width="10.75" height="10.79" fill="#112c6c"/>
<rect x="644.19" y="45.68" width="10.75" height="10.79" fill="#1c4a7c"/>
<rect x="654.35" y="45.68" width="10.75" height="10.79" fill="#112c6c"/>
<rect x="400.50" y="55.87" width="10.75" height="10.79" fill="#112c6c"/>
<rect x="410.65" y="55.87" width="10.75" height="10.79" fill="#0a1252"/>
<rect x="420.81" y="55.87" width="10.75" height="10.79" fill="#05063c"/>
<rect x="430.96" y="55.87" width="10.75" height="10.79" fill="#05063c"/>
<rect x="441.12" y="55.87" width="10.75" height="10.79" fill="#05063c"/>
<rect x="451.27" y="55.87" width="10.75" height="10.79" fill="#05063c"/>
<rect x="461.42" y="55.87" width="10.75" height="10.79" fill="#05063c"/>
<rect x="471.58" y="55.87" width="10.75" height="10.79" fill="#05063c"/>
<rect x="481.73" y="55.87" width="10.75" height="10.79" fill="#05063c"/>
<rect x="491.88" y="55.87" width="10.75" height="10.79" fill="#112c6c"/>
<rect x="502.04" y="55.87" width="10.75" height="10.79" fill="#2a6a6c"/>
<rect x="512.19" y="55.87" width="10.75" height="10.79" fill="#3a8c4c"/>
<rect x="522.35" y="55.87" width="10.75" height="10.79" fill="#3a8c4c"/>
<rect x="532.50" y="55.87" width="10.75" height="10.79" fill="#1c4a7c"/>
<rect x="542.65" y="55.87" width="10.75" height="10.79" fill="#112c6c"/>
<rect x="552.81" y="55.87" width="10.75" height="10.79" fill="#112c6c"/>
<rect x="562.96" y="55.87" width="10.75" height="10.79" fill="#112c6c"/>
<rect x="573.12" y="55.87" width="10.75" height="10.79" fill="#112c6c"/>
<rect x="583.27" y="55.87" width="10.75" height="10.79" fill="#112c6c"/>
<rect x="593.42" y="55.87" width="10.75" height="10.79" fill="#1c4a7c"/>
<rect x="603.58" y="55.87" width="10.75" height="10.79" fill="#2a6a6c"/>
<rect x="613.73" y="55.87" width="10.75" height="10.79" fill="#2a6a6c"/>
<rect x="623.88" y="55.87" width="10.75" height="10.79" fill="#1c4a7c"/>
<rect x="634.04" y="55.87" width="10.75" height="10.79" fill="#112c6c"/>
<rect x="644.19" y="55.87" width="10.75" height="10.79" fill="#112c6c"/>
<rect x="654.35" y="55.87" width="10.75" height="10.79" fill="#112c6c"/>
<rect x="400.50" y="66.07" width="10.75" height="10.79" fill="#112c6c"/>
<rect x="410.65" y="66.07" width="10.75" height="10.79" fill="#0a1252"/>
<rect x="420.81" y="66.07" width="10.75" height="10.79" fill="#05063c"/>
<rect x="430.96" y="66.07" width="10.75" height="10.79" fill="#05063c"/>
<rect x="441.12" y="66.07" width="10.75" height="10.79" fill="#05063c"/>
<rect x="451.27" y="66.07" width="10.75" height="10.79" fill="#05063c"/>
<rect x="461.42" y="66.07" width="10.75" height="10.79" fill="#05063c"/>
<rect x="471.58" y="66.07" width="10.75" height="10.79" fill="#05063c"/>
<rect x="481.73" y="66.07" width="10.75" height="10.79" fill="#05063c"/>
<rect x="491.88" y="66.07" width="10.75" height="10.79" fill="#112c6c"/>
<rect x="502.04" y="66.07" width="10.75" height="10.79" fill="#3a8c4c"/>
<rect x="512.19" y="66.07" width="10.75" height="10.79" fill="#2a6a6c"/>
<rect x="522.35" y="66.07" width="10.75" height="10.79" fill="#3a8c4c"/>
<rect x="532.50" y="66.07" width="10.75" height="10.79" fill="#112c6c"/>
<rect x="542.65" y="66.07" width="10.75" height="10.79" fill="#112c6c"/>
<rect x="552.81" y="66.07" width="10.75" height="10.79" fill="#05063c"/>
<rect x="562.96" y="66.07" width="10.75" height="10.79" fill="#05063c"/>
<rect x="573.12" y="66.07" width="10.75" height="10.79" fill="#05063c"/>
<rect x="583.27" y="66.07" width="10.75" height="10.79" fill="#05063c"/>
<rect x="593.42" y="66.07" width="10.75" height="10.79" fill="#0a1252"/>
<rect x="603.58" y="66.07" width="10.75" height="10.79" fill="#3a8c4c"/>
<rect x="613.73" y="66.07" width="10.75" height="10.79" fill="#2a6a6c"/>
<rect x="623.88" y="66.07" width="10.75" height="10.79" fill="#1c4a7c"/>
<rect x="634.04" y="66.07" width="10.75" height="10.79" fill="#112c6c"/>
<rect x="644.19" y="66.07" width="10.75" height="10.79" fill="#1c4a7c"/>
<rect x="654.35" y="66.07" width="10.75" height="10.79" fill="#112c6c"/>
<rect x="400.50" y="76.26" width="10.75" height="10.79" fill="#112c6c"/>
<rect x="410.65" y="76.26" width="10.75" height="10.79" fill="#0a1252"/>
<rect x="420.81" y="76.26" width="10.75" height="10.79" fill="#05063c"/>
<rect x="430.96" y="76.26" width="10.75" height="10.79" fill="#05063c"/>
<rect x="441.12" y="76.26" width="10.75" height="10.79" fill="#05063c"/>
<rect x="451.27" y="76.26" width="10.75" height="10.79" fill="#05063c"/>
<rect x="461.42" y="76.26" width="10.75" height="10.79" fill="#05063c"/>
<rect x="471.58" y="76.26" width="10.75" height="10.79" fill="#05063c"/>
<rect x="481.73" y="76.26" width="10.75" height="10.79" fill="#05063c"/>
<rect x="491.88" y="76.26" width="10.75" height="10.79" fill="#0a1252"/>
<rect x="502.04" y="76.26" width="10.75" height="10.79" fill="#1c4a7c"/>
<rect x="512.19" y="76.26" width="10.75" height="10.79" fill="#1c4a7c"/>
<rect x="522.35" y="76.26" width="10.75" height="10.79" fill="#2a6a6c"/>
<rect x="532.50" y="76.26" width="10.75" height="10.79" fill="#0a1252"/>
<rect x="542.65" y="76.26" width="10.75" height="10.79" fill="#05063c"/>
<rect x="552.81" y="76.26" width="10.75" height="10.79" fill="#05063c"/>
<rect x="562.96" y="76.26" width="10.75" height="10.79" fill="#05063c"/>
<rect x="573.12" y="76.26" width="10.75" height="10.79" fill="#05063c"/>
<rect x="583.27" y="76.26" width="10.75" height="10.79" fill="#05063c"/>
<rect x="593.42" y="76.26" width="10.75" height="10.79" fill="#0a1252"/>
<rect x="603.58" y="76.26" width="10.75" height="10.79" fill="#112c6c"/>
<rect x="613.73" y="76.26" width="10.75" height="10.79" fill="#3a8c4c"/>
<rect x="623.88" y="76.26" width="10.75" height="10.79" fill="#3a8c4c"/>
<rect x="634.04" y="76.26" width="10.75" height="10.79" fill="#1c4a7c"/>
<rect x="644.19" y="76.26" width="10.75" height="10.79" fill="#112c6c"/>
<rect x="654.35" y="76.26" width="10.75" height="10.79" fill="#1c4a7c"/>
<rect x="400.50" y="86.45" width="10.75" height="10.79" fill="#112c6c"/>
<rect x="410.65" y="86.45" width="10.75" height="10.79" fill="#0a1252"/>
<rect x="420.81" y="86.45" width="10.75" height="10.79" fill="#05063c"/>
<rect x="430.96" y="86.45" width="10.75" height="10.79" fill="#05063c"/>
<rect x="441.12" y="86.45" width="10.75" height="10.79" fill="#05063c"/>
<rect x="451.27" y="86.45" width="10.75" height="10.79" fill="#05063c"/>
<rect x="461.42" y="86.45" width="10.75" height="10.79" fill="#05063c"/>
<rect x="471.58" y="86.45" width="10.75" height="10.79" fill="#05063c"/>
<rect x="481.73" y="86.45" width="10.75" height="10.79" fill="#05063c"/>
<rect x="491.88" y="86.45" width="10.75" height="10.79" fill="#0a1252"/>
<rect x="502.04" y="86.45" width="10.75" height="10.79" fill="#112c6c"/>
<rect x="512.19" y="86.45" width="10.75" height="10.79" fill="#112c6c"/>
<rect x="522.35" y="86.45" width="10.75" height="10.79" fill="#1c4a7c"/>
<rect x="532.50" y="86.45" width="10.75" height="10.79" fill="#0a1252"/>
<rect x="542.65" y="86.45" width="10.75" height="10.79" fill="#05063c"/>
<rect x="552.81" y="86.45" width="10.75" height="10.79" fill="#05063c"/>
<rect x="562.96" y="86.45" width="10.75" height="10.79" fill="#05063c"/>
<rect x="573.12" y="86.45" width="10.75" height="10.79" fill="#05063c"/>
<rect x="583.27" y="86.45" width="10.75" height="10.79" fill="#05063c"/>
<rect x="593.42" y="86.45" width="10.75" height="10.79" fill="#0a1252"/>
<rect x="603.58" y="86.45" width="10.75" height="10.79" fill="#112c6c"/>
<rect x="613.73" y="86.45" width="10.75" height="10.79" fill="#3a8c4c"/>
<rect x="623.88" y="86.45" width="10.75" height="10.79" fill="#2a6a6c"/>
<rect x="634.04" y="86.45" width="10.75" height="10.79" fill="#1c4a7c"/>
<rect x="644.19" y="86.45" width="10.75" height="10.79" fill="#1c4a7c"/>
<rect x="654.35" y="86.45" width="10.75" height="10.79" fill="#2a6a6c"/>
<rect x="400.50" y="96.64" width="10.75" height="10.79" fill="#112c6c"/>
<rect x="410.65" y="96.64" width="10.75" height="10.79" fill="#0a1252"/>
<rect x="420.81" y="96.64" width="10.75" height="10.79" fill="#05063c"/>
<rect x="430.96" y="96.64" width="10.75" height="10.79" fill="#05063c"/>
<rect x="441.12" y="96.64" width="10.75" height="10.79" fill="#05063c"/>
<rect x="451.27" y="96.64" width="10.75" height="10.79" fill="#05063c"/>
<rect x="461.42" y="96.64" width="10.75" height="10.79" fill="#05063c"/>
<rect x="471.58" y="96.64" width="10.75" height="10.79" fill="#05063c"/>
<rect x="481.73" y="96.64" width="10.75" height="10.79" fill="#0a1252"/>
<rect x="491.88" y="96.64" width="10.75" height="10.79" fill="#112c6c"/>
<rect x="502.04" y="96.64" width="10.75" height="10.79" fill="#3a8c4c"/>
<rect x="512.19" y="96.64" width="10.75" height="10.79" fill="#3a8c4c"/>
<rect x="522.35" y="96.64" width="10.75" height="10.79" fill="#2a6a6c"/>
<rect x="532.50" y="96.64" width="10.75" height="10.79" fill="#2a6a6c"/>
<rect x="542.65" y="96.64" width="10.75" height="10.79" fill="#0a1252"/>
<rect x="552.81" y="96.64" width="10.75" height="10.79" fill="#1c4a7c"/>
<rect x="562.96" y="96.64" width="10.75" height="10.79" fill="#05063c"/>
<rect x="573.12" y="96.64" width="10.75" height="10.79" fill="#05063c"/>
<rect x="583.27" y="96.64" width="10.75" height="10.79" fill="#05063c"/>
<rect x="593.42" y="96.64" width="10.75" height="10.79" fill="#05063c"/>
<rect x="603.58" y="96.64" width="10.75" height="10.79" fill="#112c6c"/>
<rect x="613.73" y="96.64" width="10.75" height="10.79" fill="#1c4a7c"/>
<rect x="623.88" y="96.64" width="10.75" height="10.79" fill="#2a6a6c"/>
<rect x="634.04" y="96.64" width="10.75" height="10.79" fill="#1c4a7c"/>
<rect x="644.19" y="96.64" width="10.75" height="10.79" fill="#112c6c"/>
<rect x="654.35" y="96.64" width="10.75" height="10.79" fill="#1c4a7c"/>
<rect x="400.50" y="106.83" width="10.75" height="10.79" fill="#2a6a6c"/>
<rect x="410.65" y="106.83" width="10.75" height="10.79" fill="#3a8c4c"/>
<rect x="420.81" y="106.83" width="10.75" height="10.79" fill="#112c6c"/>
<rect x="430.96" y="106.83" width="10.75" height="10.79" fill="#05063c"/>
<rect x="441.12" y="106.83" width="10.75" height="10.79" fill="#05063c"/>
<rect x="451.27" y="106.83" width="10.75" height="10.79" fill="#05063c"/>
<rect x="461.42" y="106.83" width="10.75" height="10.79" fill="#05063c"/>
<rect x="471.58" y="106.83" width="10.75" height="10.79" fill="#05063c"/>
<rect x="481.73" y="106.83" width="10.75" height="10.79" fill="#0a1252"/>
<rect x="491.88" y="106.83" width="10.75" height="10.79" fill="#112c6c"/>
<rect x="502.04" y="106.83" width="10.75" height="10.79" fill="#3a8c4c"/>
<rect x="512.19" y="106.83" width="10.75" height="10.79" fill="#3a8c4c"/>
<rect x="522.35" y="106.83" width="10.75" height="10.79" fill="#3a8c4c"/>
<rect x="532.50" y="106.83" width="10.75" height="10.79" fill="#1c4a7c"/>
<rect x="542.65" y="106.83" width="10.75" height="10.79" fill="#0a1252"/>
<rect x="552.81" y="106.83" width="10.75" height="10.79" fill="#0a1252"/>
<rect x="562.96" y="106.83" width="10.75" height="10.79" fill="#05063c"/>
<rect x="573.12" y="106.83" width="10.75" height="10.79" fill="#05063c"/>
<rect x="583.27" y="106.83" width="10.75" height="10.79" fill="#05063c"/>
<rect x="593.42" y="106.83" width="10.75" height="10.79" fill="#0a1252"/>
<rect x="603.58" y="106.83" width="10.75" height="10.79" fill="#112c6c"/>
<rect x="613.73" y="106.83" width="10.75" height="10.79" fill="#1c4a7c"/>
<rect x="623.88" y="106.83" width="10.75" height="10.79" fill="#2a6a6c"/>
<rect x="634.04" y="106.83" width="10.75" height="10.79" fill="#1c4a7c"/>
<rect x="644.19" y="106.83" width="10.75" height="10.79" fill="#112c6c"/>
<rect x="654.35" y="106.83" width="10.75" height="10.79" fill="#112c6c"/>
<rect x="400.50" y="117.02" width="10.75" height="10.79" fill="#2a6a6c"/>
<rect x="410.65" y="117.02" width="10.75" height="10.79" fill="#3a8c4c"/>
<rect x="420.81" y="117.02" width="10.75" height="10.79" fill="#1c4a7c"/>
<rect x="430.96" y="117.02" width="10.75" height="10.79" fill="#1c4a7c"/>
<rect x="441.12" y="117.02" width="10.75" height="10.79" fill="#05063c"/>
<rect x="451.27" y="117.02" width="10.75" height="10.79" fill="#05063c"/>
<rect x="461.42" y="117.02" width="10.75" height="10.79" fill="#05063c"/>
<rect x="471.58" y="117.02" width="10.75" height="10.79" fill="#05063c"/>
<rect x="481.73" y="117.02" width="10.75" height="10.79" fill="#112c6c"/>
<rect x="491.88" y="117.02" width="10.75" height="10.79" fill="#112c6c"/>
<rect x="502.04" y="117.02" width="10.75" height="10.79" fill="#2a6a6c"/>
<rect x="512.19" y="117.02" width="10.75" height="10.79" fill="#3a8c4c"/>
<rect x="522.35" y="117.02" width="10.75" height="10.79" fill="#2a6a6c"/>
<rect x="532.50" y="117.02" width="10.75" height="10.79" fill="#3a8c4c"/>
<rect x="542.65" y="117.02" width="10.75" height="10.79" fill="#112c6c"/>
<rect x="552.81" y="117.02" width="10.75" height="10.79" fill="#0a1252"/>
<rect x="562.96" y="117.02" width="10.75" height="10.79" fill="#05063c"/>
<rect x="573.12" y="117.02" width="10.75" height="10.79" fill="#05063c"/>
<rect x="583.27" y="117.02" width="10.75" height="10.79" fill="#05063c"/>
<rect x="593.42" y="117.02" width="10.75" height="10.79" fill="#0a1252"/>
<rect x="603.58" y="117.02" width="10.75" height="10.79" fill="#2a6a6c"/>
<rect x="613.73" y="117.02" width="10.75" height="10.79" fill="#2a6a6c"/>
<rect x="623.88" y="117.02" width="10.75" height="10.79" fill="#112c6c"/>
<rect x="634.04" y="117.02" width="10.75" height="10.79" fill="#1c4a7c"/>
<rect x="644.19" y="117.02" width="10.75" height="10.79" fill="#112c6c"/>
<rect x="654.35" y="117.02" width="10.75" height="10.79" fill="#1c4a7c"/>
<rect x="400.50" y="127.21" width="10.75" height="10.79" fill="#1c4a7c"/>
<rect x="410.65" y="127.21" width="10.75" height="10.79" fill="#2a6a6c"/>
<rect x="420.81" y="127.21" width="10.75" height="10.79" fill="#3a8c4c"/>
<rect x="430.96" y="127.21" width="10.75" height="10.79" fill="#2a6a6c"/>
<rect x="441.12" y="127.21" width="10.75" height="10.79" fill="#2a6a6c"/>
<rect x="451.27" y="127.21" width="10.75" height="10.79" fill="#1c4a7c"/>
<rect x="461.42" y="127.21" width="10.75" height="10.79" fill="#1c4a7c"/>
<rect x="471.58" y="127.21" width="10.75" height="10.79" fill="#2a6a6c"/>
<rect x="481.73" y="127.21" width="10.75" height="10.79" fill="#112c6c"/>
<rect x="491.88" y="127.21" width="10.75" height="10.79" fill="#1c4a7c"/>
<rect x="502.04" y="127.21" width="10.75" height="10.79" fill="#3a8c4c"/>
<rect x="512.19" y="127.21" width="10.75" height="10.79" fill="#3a8c4c"/>
<rect x="522.35" y="127.21" width="10.75" height="10.79" fill="#2a6a6c"/>
<rect x="532.50" y="127.21" width="10.75" height="10.79" fill="#3a8c4c"/>
<rect x="542.65" y="127.21" width="10.75" height="10.79" fill="#1c4a7c"/>
<rect x="552.81" y="127.21" width="10.75" height="10.79" fill="#112c6c"/>
<rect x="562.96" y="127.21" width="10.75" height="10.79" fill="#0a1252"/>
<rect x="573.12" y="127.21" width="10.75" height="10.79" fill="#05063c"/>
<rect x="583.27" y="127.21" width="10.75" height="10.79" fill="#0a1252"/>
<rect x="593.42" y="127.21" width="10.75" height="10.79" fill="#112c6c"/>
<rect x="603.58" y="127.21" width="10.75" height="10.79" fill="#3a8c4c"/>
<rect x="613.73" y="127.21" width="10.75" height="10.79" fill="#2a6a6c"/>
<rect x="623.88" y="127.21" width="10.75" height="10.79" fill="#1c4a7c"/>
<rect x="634.04" y="127.21" width="10.75" height="10.79" fill="#112c6c"/>
<rect x="644.19" y="127.21" width="10.75" height="10.79" fill="#1c4a7c"/>
<rect x="654.35" y="127.21" width="10.75" height="10.79" fill="#112c6c"/>
<rect x="400.50" y="137.40" width="10.75" height="10.79" fill="#1c4a7c"/>
<rect x="410.65" y="137.40" width="10.75" height="10.79" fill="#1c4a7c"/>
<rect x="420.81" y="137.40" width="10.75" height="10.79" fill="#3a8c4c"/>
<rect x="430.96" y="137.40" width="10.75" height="10.79" fill="#2a6a6c"/>
<rect x="441.12" y="137.40" width="10.75" height="10.79" fill="#3a8c4c"/>
<rect x="451.27" y="137.40" width="10.75" height="10.79" fill="#3a8c4c"/>
<rect x="461.42" y="137.40" width="10.75" height="10.79" fill="#2a6a6c"/>
<rect x="471.58" y="137.40" width="10.75" height="10.79" fill="#3a8c4c"/>
<rect x="481.73" y="137.40" width="10.75" height="10.79" fill="#2a6a6c"/>
<rect x="491.88" y="137.40" width="10.75" height="10.79" fill="#3a8c4c"/>
<rect x="502.04" y="137.40" width="10.75" height="10.79" fill="#2a6a6c"/>
<rect x="512.19" y="137.40" width="10.75" height="10.79" fill="#2a6a6c"/>
<rect x="522.35" y="137.40" width="10.75" height="10.79" fill="#3a8c4c"/>
<rect x="532.50" y="137.40" width="10.75" height="10.79" fill="#3a8c4c"/>
<rect x="542.65" y="137.40" width="10.75" height="10.79" fill="#112c6c"/>
<rect x="552.81" y="137.40" width="10.75" height="10.79" fill="#0a1252"/>
<rect x="562.96" y="137.40" width="10.75" height="10.79" fill="#0a1252"/>
<rect x="573.12" y="137.40" width="10.75" height="10.79" fill="#0a1252"/>
<rect x="583.27" y="137.40" width="10.75" height="10.79" fill="#0a1252"/>
<rect x="593.42" y="137.40" width="10.75" height="10.79" fill="#112c6c"/>
<rect x="603.58" y="137.40" width="10.75" height="10.79" fill="#3a8c4c"/>
<rect x="613.73" y="137.40" width="10.75" height="10.79" fill="#2a6a6c"/>
<rect x="623.88" y="137.40" width="10.75" height="10.79" fill="#1c4a7c"/>
<rect x="634.04" y="137.40" width="10.75" height="10.79" fill="#112c6c"/>
<rect x="644.19" y="137.40" width="10.75" height="10.79" fill="#112c6c"/>
<rect x="654.35" y="137.40" width="10.75" height="10.79" fill="#112c6c"/>
<rect x="400.50" y="147.60" width="10.75" height="10.79" fill="#112c6c"/>
<rect x="410.65" y="147.60" width="10.75" height="10.79" fill="#1c4a7c"/>
<rect x="420.81" y="147.60" width="10.75" height="10.79" fill="#2a6a6c"/>
<rect x="430.96" y="147.60" width="10.75" height="10.79" fill="#3a8c4c"/>
<rect x="441.12" y="147.60" width="10.75" height="10.79" fill="#2a6a6c"/>
<rect x="451.27" y="147.60" width="10.75" height="10.79" fill="#1c4a7c"/>
<rect x="461.42" y="147.60" width="10.75" height="10.79" fill="#3a8c4c"/>
<rect x="471.58" y="147.60" width="10.75" height="10.79" fill="#2a6a6c"/>
<rect x="481.73" y="147.60" width="10.75" height="10.79" fill="#3a8c4c"/>
<rect x="491.88" y="147.60" width="10.75" height="10.79" fill="#2a6a6c"/>
<rect x="502.04" y="147.60" width="10.75" height="10.79" fill="#1c4a7c"/>
<rect x="512.19" y="147.60" width="10.75" height="10.79" fill="#3a8c4c"/>
<rect x="522.35" y="147.60" width="10.75" height="10.79" fill="#3a8c4c"/>
<rect x="532.50" y="147.60" width="10.75" height="10.79" fill="#3a8c4c"/>
<rect x="542.65" y="147.60" width="10.75" height="10.79" fill="#3a8c4c"/>
<rect x="552.81" y="147.60" width="10.75" height="10.79" fill="#3a8c4c"/>
<rect x="562.96" y="147.60" width="10.75" height="10.79" fill="#2a6a6c"/>
<rect x="573.12" y="147.60" width="10.75" height="10.79" fill="#1c4a7c"/>
<rect x="583.27" y="147.60" width="10.75" height="10.79" fill="#3a8c4c"/>
<rect x="593.42" y="147.60" width="10.75" height="10.79" fill="#3a8c4c"/>
<rect x="603.58" y="147.60" width="10.75" height="10.79" fill="#2a6a6c"/>
<rect x="613.73" y="147.60" width="10.75" height="10.79" fill="#1c4a7c"/>
<rect x="623.88" y="147.60" width="10.75" height="10.79" fill="#112c6c"/>
<rect x="634.04" y="147.60" width="10.75" height="10.79" fill="#112c6c"/>
<rect x="644.19" y="147.60" width="10.75" height="10.79" fill="#112c6c"/>
<rect x="654.35" y="147.60" width="10.75" height="10.79" fill="#112c6c"/>
<rect x="400.50" y="157.79" width="10.75" height="10.79" fill="#112c6c"/>
<rect x="410.65" y="157.79" width="10.75" height="10.79" fill="#112c6c"/>
<rect x="420.81" y="157.79" width="10.75" height="10.79" fill="#2a6a6c"/>
<rect x="430.96" y="157.79" width="10.75" height="10.79" fill="#3a8c4c"/>
<rect x="441.12" y="157.79" width="10.75" height="10.79" fill="#1c4a7c"/>
<rect x="451.27" y="157.79" width="10.75" height="10.79" fill="#1c4a7c"/>
<rect x="461.42" y="157.79" width="10.75" height="10.79" fill="#112c6c"/>
<rect x="471.58" y="157.79" width="10.75" height="10.79" fill="#1c4a7c"/>
<rect x="481.73" y="157.79" width="10.75" height="10.79" fill="#2a6a6c"/>
<rect x="491.88" y="157.79" width="10.75" height="10.79" fill="#3a8c4c"/>
<rect x="502.04" y="157.79" width="10.75" height="10.79" fill="#3a8c4c"/>
<rect x="512.19" y="157.79" width="10.75" height="10.79" fill="#3a8c4c"/>
<rect x="522.35" y="157.79" width="10.75" height="10.79" fill="#3a8c4c"/>
<rect x="532.50" y="157.79" width="10.75" height="10.79" fill="#3a8c4c"/>
<rect x="542.65" y="157.79" width="10.75" height="10.79" fill="#3a8c4c"/>
<rect x="552.81" y="157.79" width="10.75" height="10.79" fill="#2a6a6c"/>
<rect x="562.96" y="157.79" width="10.75" height="10.79" fill="#3a8c4c"/>
<rect x="573.12" y="157.79" width="10.75" height="10.79" fill="#3a8c4c"/>
<rect x="583.27" y="157.79" width="10.75" height="10.79" fill="#3a8c4c"/>
<rect x="593.42" y="157.79" width="10.75" height="10.79" fill="#2a6a6c"/>
<rect x="603.58" y="157.79" width="10.75" height="10.79" fill="#1c4a7c"/>
<rect x="613.73" y="157.79" width="10.75" height="10.79" fill="#2a6a6c"/>
<rect x="623.88" y="157.79" width="10.75" height="10.79" fill="#112c6c"/>
<rect x="634.04" y="157.79" width="10.75" height="10.79" fill="#112c6c"/>
<rect x="644.19" y="157.79" width="10.75" height="10.79" fill="#1c4a7c"/>
<rect x="654.35" y="157.79" width="10.75" height="10.79" fill="#112c6c"/>
<rect x="400.50" y="167.98" width="10.75" height="10.79" fill="#112c6c"/>
<rect x="410.65" y="167.98" width="10.75" height="10.79" fill="#112c6c"/>
<rect x="420.81" y="167.98" width="10.75" height="10.79" fill="#2a6a6c"/>
<rect x="430.96" y="167.98" width="10.75" height="10.79" fill="#2a6a6c"/>
<rect x="441.12" y="167.98" width="10.75" height="10.79" fill="#112c6c"/>
<rect x="451.27" y="167.98" width="10.75" height="10.79" fill="#112c6c"/>
<rect x="461.42" y="167.98" width="10.75" height="10.79" fill="#112c6c"/>
<rect x="471.58" y="167.98" width="10.75" height="10.79" fill="#1c4a7c"/>
<rect x="481.73" y="167.98" width="10.75" height="10.79" fill="#1c4a7c"/>
<rect x="491.88" y="167.98" width="10.75" height="10.79" fill="#3a8c4c"/>
<rect x="502.04" y="167.98" width="10.75" height="10.79" fill="#3a8c4c"/>
<rect x="512.19" y="167.98" width="10.75" height="10.79" fill="#3a8c4c"/>
<rect x="522.35" y="167.98" width="10.75" height="10.79" fill="#3a8c4c"/>
<rect x="532.50" y="167.98" width="10.75" height="10.79" fill="#3a8c4c"/>
<rect x="542.65" y="167.98" width="10.75" height="10.79" fill="#2a6a6c"/>
<rect x="552.81" y="167.98" width="10.75" height="10.79" fill="#1c4a7c"/>
<rect x="562.96" y="167.98" width="10.75" height="10.79" fill="#3a8c4c"/>
<rect x="573.12" y="167.98" width="10.75" height="10.79" fill="#2a6a6c"/>
<rect x="583.27" y="167.98" width="10.75" height="10.79" fill="#2a6a6c"/>
<rect x="593.42" y="167.98" width="10.75" height="10.79" fill="#1c4a7c"/>
<rect x="603.58" y="167.98" width="10.75" height="10.79" fill="#1c4a7c"/>
<rect x="613.73" y="167.98" width="10.75" height="10.79" fill="#1c4a7c"/>
<rect x="623.88" y="167.98" width="10.75" height="10.79" fill="#3a8c4c"/>
<rect x="634.04" y="167.98" width="10.75" height="10.79" fill="#1c4a7c"/>
<rect x="644.19" y="167.98" width="10.75" height="10.79" fill="#112c6c"/>
<rect x="654.35" y="167.98" width="10.75" height="10.79" fill="#112c6c"/>
<rect x="400.50" y="178.17" width="10.75" height="10.79" fill="#112c6c"/>
<rect x="410.65" y="178.17" width="10.75" height="10.79" fill="#1c4a7c"/>
<rect x="420.81" y="178.17" width="10.75" height="10.79" fill="#112c6c"/>
<rect x="430.96" y="178.17" width="10.75" height="10.79" fill="#112c6c"/>
<rect x="441.12" y="178.17" width="10.75" height="10.79" fill="#112c6c"/>
<rect x="451.27" y="178.17" width="10.75" height="10.79" fill="#112c6c"/>
<rect x="461.42" y="178.17" width="10.75" height="10.79" fill="#112c6c"/>
<rect x="471.58" y="178.17" width="10.75" height="10.79" fill="#112c6c"/>
<rect x="481.73" y="178.17" width="10.75" height="10.79" fill="#112c6c"/>
<rect x="491.88" y="178.17" width="10.75" height="10.79" fill="#3a8c4c"/>
<rect x="502.04" y="178.17" width="10.75" height="10.79" fill="#3a8c4c"/>
<rect x="512.19" y="178.17" width="10.75" height="10.79" fill="#3a8c4c"/>
<rect x="522.35" y="178.17" width="10.75" height="10.79" fill="#3a8c4c"/>
<rect x="532.50" y="178.17" width="10.75" height="10.79" fill="#3a8c4c"/>
<rect x="542.65" y="178.17" width="10.75" height="10.79" fill="#2a6a6c"/>
<rect x="552.81" y="178.17" width="10.75" height="10.79" fill="#3a8c4c"/>
<rect x="562.96" y="178.17" width="10.75" height="10.79" fill="#3a8c4c"/>
<rect x="573.12" y="178.17" width="10.75" height="10.79" fill="#3a8c4c"/>
<rect x="583.27" y="178.17" width="10.75" height="10.79" fill="#3a8c4c"/>
<rect x="593.42" y="178.17" width="10.75" height="10.79" fill="#3a8c4c"/>
<rect x="603.58" y="178.17" width="10.75" height="10.79" fill="#3a8c4c"/>
<rect x="613.73" y="178.17" width="10.75" height="10.79" fill="#2a6a6c"/>
<rect x="623.88" y="178.17" width="10.75" height="10.79" fill="#2a6a6c"/>
<rect x="634.04" y="178.17" width="10.75" height="10.79" fill="#1c4a7c"/>
<rect x="644.19" y="178.17" width="10.75" height="10.79" fill="#112c6c"/>
<rect x="654.35" y="178.17" width="10.75" height="10.79" fill="#112c6c"/>
<rect x="400.50" y="188.36" width="10.75" height="10.79" fill="#112c6c"/>
<rect x="410.65" y="188.36" width="10.75" height="10.79" fill="#1c4a7c"/>
<rect x="420.81" y="188.36" width="10.75" height="10.79" fill="#2a6a6c"/>
<rect x="430.96" y="188.36" width="10.75" height="10.79" fill="#112c6c"/>
<rect x="441.12" y="188.36" width="10.75" height="10.79" fill="#112c6c"/>
<rect x="451.27" y="188.36" width="10.75" height="10.79" fill="#112c6c"/>
<rect x="461.42" y="188.36" width="10.75" height="10.79" fill="#1c4a7c"/>
<rect x="471.58" y="188.36" width="10.75" height="10.79" fill="#112c6c"/>
<rect x="481.73" y="188.36" width="10.75" height="10.79" fill="#112c6c"/>
<rect x="491.88" y="188.36" width="10.75" height="10.79" fill="#2a6a6c"/>
<rect x="502.04" y="188.36" width="10.75" height="10.79" fill="#3a8c4c"/>
<rect x="512.19" y="188.36" width="10.75" height="10.79" fill="#3a8c4c"/>
<rect x="522.35" y="188.36" width="10.75" height="10.79" fill="#3a8c4c"/>
<rect x="532.50" y="188.36" width="10.75" height="10.79" fill="#3a8c4c"/>
<rect x="542.65" y="188.36" width="10.75" height="10.79" fill="#3a8c4c"/>
<rect x="552.81" y="188.36" width="10.75" height="10.79" fill="#3a8c4c"/>
<rect x="562.96" y="188.36" width="10.75" height="10.79" fill="#3a8c4c"/>
<rect x="573.12" y="188.36" width="10.75" height="10.79" fill="#3a8c4c"/>
<rect x="583.27" y="188.36" width="10.75" height="10.79" fill="#3a8c4c"/>
<rect x="593.42" y="188.36" width="10.75" height="10.79" fill="#3a8c4c"/>
<rect x="603.58" y="188.36" width="10.75" height="10.79" fill="#3a8c4c"/>
<rect x="613.73" y="188.36" width="10.75" height="10.79" fill="#55b040"/>
<rect x="623.88" y="188.36" width="10.75" height="10.79" fill="#2a6a6c"/>
<rect x="634.04" y="188.36" width="10.75" height="10.79" fill="#1c4a7c"/>
<rect x="644.19" y="188.36" width="10.75" height="10.79" fill="#112c6c"/>
<rect x="654.35" y="188.36" width="10.75" height="10.79" fill="#112c6c"/>
<rect x="400.50" y="198.55" width="10.75" height="10.79" fill="#112c6c"/>
<rect x="410.65" y="198.55" width="10.75" height="10.79" fill="#112c6c"/>
<rect x="420.81" y="198.55" width="10.75" height="10.79" fill="#112c6c"/>
<rect x="430.96" y="198.55" width="10.75" height="10.79" fill="#112c6c"/>
<rect x="441.12" y="198.55" width="10.75" height="10.79" fill="#1c4a7c"/>
<rect x="451.27" y="198.55" width="10.75" height="10.79" fill="#112c6c"/>
<rect x="461.42" y="198.55" width="10.75" height="10.79" fill="#112c6c"/>
<rect x="471.58" y="198.55" width="10.75" height="10.79" fill="#112c6c"/>
<rect x="481.73" y="198.55" width="10.75" height="10.79" fill="#1c4a7c"/>
<rect x="491.88" y="198.55" width="10.75" height="10.79" fill="#3a8c4c"/>
<rect x="502.04" y="198.55" width="10.75" height="10.79" fill="#2a6a6c"/>
<rect x="512.19" y="198.55" width="10.75" height="10.79" fill="#3a8c4c"/>
<rect x="522.35" y="198.55" width="10.75" height="10.79" fill="#2a6a6c"/>
<rect x="532.50" y="198.55" width="10.75" height="10.79" fill="#2a6a6c"/>
<rect x="542.65" y="198.55" width="10.75" height="10.79" fill="#2a6a6c"/>
<rect x="552.81" y="198.55" width="10.75" height="10.79" fill="#3a8c4c"/>
<rect x="562.96" y="198.55" width="10.75" height="10.79" fill="#3a8c4c"/>
<rect x="573.12" y="198.55" width="10.75" height="10.79" fill="#3a8c4c"/>
<rect x="583.27" y="198.55" width="10.75" height="10.79" fill="#2a6a6c"/>
<rect x="593.42" y="198.55" width="10.75" height="10.79" fill="#2a6a6c"/>
<rect x="603.58" y="198.55" width="10.75" height="10.79" fill="#1c4a7c"/>
<rect x="613.73" y="198.55" width="10.75" height="10.79" fill="#1c4a7c"/>
<rect x="623.88" y="198.55" width="10.75" height="10.79" fill="#112c6c"/>
<rect x="634.04" y="198.55" width="10.75" height="10.79" fill="#112c6c"/>
<rect x="644.19" y="198.55" width="10.75" height="10.79" fill="#112c6c"/>
<rect x="654.35" y="198.55" width="10.75" height="10.79" fill="#112c6c"/>
<rect x="400.50" y="208.74" width="10.75" height="10.79" fill="#112c6c"/>
<rect x="410.65" y="208.74" width="10.75" height="10.79" fill="#1c4a7c"/>
<rect x="420.81" y="208.74" width="10.75" height="10.79" fill="#112c6c"/>
<rect x="430.96" y="208.74" width="10.75" height="10.79" fill="#112c6c"/>
<rect x="441.12" y="208.74" width="10.75" height="10.79" fill="#112c6c"/>
<rect x="451.27" y="208.74" width="10.75" height="10.79" fill="#112c6c"/>
<rect x="461.42" y="208.74" width="10.75" height="10.79" fill="#112c6c"/>
<rect x="471.58" y="208.74" width="10.75" height="10.79" fill="#112c6c"/>
<rect x="481.73" y="208.74" width="10.75" height="10.79" fill="#112c6c"/>
<rect x="491.88" y="208.74" width="10.75" height="10.79" fill="#1c4a7c"/>
<rect x="502.04" y="208.74" width="10.75" height="10.79" fill="#2a6a6c"/>
<rect x="512.19" y="208.74" width="10.75" height="10.79" fill="#1c4a7c"/>
<rect x="522.35" y="208.74" width="10.75" height="10.79" fill="#1c4a7c"/>
<rect x="532.50" y="208.74" width="10.75" height="10.79" fill="#1c4a7c"/>
<rect x="542.65" y="208.74" width="10.75" height="10.79" fill="#2a6a6c"/>
<rect x="552.81" y="208.74" width="10.75" height="10.79" fill="#3a8c4c"/>
<rect x="562.96" y="208.74" width="10.75" height="10.79" fill="#2a6a6c"/>
<rect x="573.12" y="208.74" width="10.75" height="10.79" fill="#1c4a7c"/>
<rect x="583.27" y="208.74" width="10.75" height="10.79" fill="#112c6c"/>
<rect x="593.42" y="208.74" width="10.75" height="10.79" fill="#112c6c"/>
<rect x="603.58" y="208.74" width="10.75" height="10.79" fill="#112c6c"/>
<rect x="613.73" y="208.74" width="10.75" height="10.79" fill="#112c6c"/>
<rect x="623.88" y="208.74" width="10.75" height="10.79" fill="#112c6c"/>
<rect x="634.04" y="208.74" width="10.75" height="10.79" fill="#112c6c"/>
<rect x="644.19" y="208.74" width="10.75" height="10.79" fill="#112c6c"/>
<rect x="654.35" y="208.74" width="10.75" height="10.79" fill="#1c4a7c"/>
<rect x="400.50" y="218.93" width="10.75" height="10.79" fill="#112c6c"/>
<rect x="410.65" y="218.93" width="10.75" height="10.79" fill="#112c6c"/>
<rect x="420.81" y="218.93" width="10.75" height="10.79" fill="#1c4a7c"/>
<rect x="430.96" y="218.93" width="10.75" height="10.79" fill="#112c6c"/>
<rect x="441.12" y="218.93" width="10.75" height="10.79" fill="#112c6c"/>
<rect x="451.27" y="218.93" width="10.75" height="10.79" fill="#112c6c"/>
<rect x="461.42" y="218.93" width="10.75" height="10.79" fill="#112c6c"/>
<rect x="471.58" y="218.93" width="10.75" height="10.79" fill="#112c6c"/>
<rect x="481.73" y="218.93" width="10.75" height="10.79" fill="#112c6c"/>
<rect x="491.88" y="218.93" width="10.75" height="10.79" fill="#2a6a6c"/>
<rect x="502.04" y="218.93" width="10.75" height="10.79" fill="#3a8c4c"/>
<rect x="512.19" y="218.93" width="10.75" height="10.79" fill="#2a6a6c"/>
<rect x="522.35" y="218.93" width="10.75" height="10.79" fill="#1c4a7c"/>
<rect x="532.50" y="218.93" width="10.75" height="10.79" fill="#1c4a7c"/>
<rect x="542.65" y="218.93" width="10.75" height="10.79" fill="#3a8c4c"/>
<rect x="552.81" y="218.93" width="10.75" height="10.79" fill="#2a6a6c"/>
<rect x="562.96" y="218.93" width="10.75" height="10.79" fill="#112c6c"/>
<rect x="573.12" y="218.93" width="10.75" height="10.79" fill="#112c6c"/>
<rect x="583.27" y="218.93" width="10.75" height="10.79" fill="#112c6c"/>
<rect x="593.42" y="218.93" width="10.75" height="10.79" fill="#112c6c"/>
<rect x="603.58" y="218.93" width="10.75" height="10.79" fill="#112c6c"/>
<rect x="613.73" y="218.93" width="10.75" height="10.79" fill="#112c6c"/>
<rect x="623.88" y="218.93" width="10.75" height="10.79" fill="#112c6c"/>
<rect x="634.04" y="218.93" width="10.75" height="10.79" fill="#112c6c"/>
<rect x="644.19" y="218.93" width="10.75" height="10.79" fill="#112c6c"/>
<rect x="654.35" y="218.93" width="10.75" height="10.79" fill="#3a8c4c"/>
<rect x="400.50" y="229.13" width="10.75" height="10.79" fill="#1c4a7c"/>
<rect x="410.65" y="229.13" width="10.75" height="10.79" fill="#112c6c"/>
<rect x="420.81" y="229.13" width="10.75" height="10.79" fill="#112c6c"/>
<rect x="430.96" y="229.13" width="10.75" height="10.79" fill="#112c6c"/>
<rect x="441.12" y="229.13" width="10.75" height="10.79" fill="#1c4a7c"/>
<rect x="451.27" y="229.13" width="10.75" height="10.79" fill="#112c6c"/>
<rect x="461.42" y="229.13" width="10.75" height="10.79" fill="#112c6c"/>
<rect x="471.58" y="229.13" width="10.75" height="10.79" fill="#112c6c"/>
<rect x="481.73" y="229.13" width="10.75" height="10.79" fill="#112c6c"/>
<rect x="491.88" y="229.13" width="10.75" height="10.79" fill="#3a8c4c"/>
<rect x="502.04" y="229.13" width="10.75" height="10.79" fill="#2a6a6c"/>
<rect x="512.19" y="229.13" width="10.75" height="10.79" fill="#1c4a7c"/>
<rect x="522.35" y="229.13" width="10.75" height="10.79" fill="#1c4a7c"/>
<rect x="532.50" y="229.13" width="10.75" height="10.79" fill="#2a6a6c"/>
<rect x="542.65" y="229.13" width="10.75" height="10.79" fill="#1c4a7c"/>
<rect x="552.81" y="229.13" width="10.75" height="10.79" fill="#1c4a7c"/>
<rect x="562.96" y="229.13" width="10.75" height="10.79" fill="#112c6c"/>
<rect x="573.12" y="229.13" width="10.75" height="10.79" fill="#112c6c"/>
<rect x="583.27" y="229.13" width="10.75" height="10.79" fill="#112c6c"/>
<rect x="593.42" y="229.13" width="10.75" height="10.79" fill="#112c6c"/>
<rect x="603.58" y="229.13" width="10.75" height="10.79" fill="#112c6c"/>
<rect x="613.73" y="229.13" width="10.75" height="10.79" fill="#112c6c"/>
<rect x="623.88" y="229.13" width="10.75" height="10.79" fill="#112c6c"/>
<rect x="634.04" y="229.13" width="10.75" height="10.79" fill="#112c6c"/>
<rect x="644.19" y="229.13" width="10.75" height="10.79" fill="#112c6c"/>
<rect x="654.35" y="229.13" width="10.75" height="10.79" fill="#1c4a7c"/>
<rect x="400.50" y="239.32" width="10.75" height="10.79" fill="#112c6c"/>
<rect x="410.65" y="239.32" width="10.75" height="10.79" fill="#112c6c"/>
<rect x="420.81" y="239.32" width="10.75" height="10.79" fill="#112c6c"/>
<rect x="430.96" y="239.32" width="10.75" height="10.79" fill="#1c4a7c"/>
<rect x="441.12" y="239.32" width="10.75" height="10.79" fill="#112c6c"/>
<rect x="451.27" y="239.32" width="10.75" height="10.79" fill="#112c6c"/>
<rect x="461.42" y="239.32" width="10.75" height="10.79" fill="#112c6c"/>
<rect x="471.58" y="239.32" width="10.75" height="10.79" fill="#1c4a7c"/>
<rect x="481.73" y="239.32" width="10.75" height="10.79" fill="#112c6c"/>
<rect x="491.88" y="239.32" width="10.75" height="10.79" fill="#1c4a7c"/>
<rect x="502.04" y="239.32" width="10.75" height="10.79" fill="#2a6a6c"/>
<rect x="512.19" y="239.32" width="10.75" height="10.79" fill="#1c4a7c"/>
<rect x="522.35" y="239.32" width="10.75" height="10.79" fill="#1c4a7c"/>
<rect x="532.50" y="239.32" width="10.75" height="10.79" fill="#1c4a7c"/>
<rect x="542.65" y="239.32" width="10.75" height="10.79" fill="#1c4a7c"/>
<rect x="552.81" y="239.32" width="10.75" height="10.79" fill="#112c6c"/>
<rect x="562.96" y="239.32" width="10.75" height="10.79" fill="#112c6c"/>
<rect x="573.12" y="239.32" width="10.75" height="10.79" fill="#112c6c"/>
<rect x="583.27" y="239.32" width="10.75" height="10.79" fill="#112c6c"/>
<rect x="593.42" y="239.32" width="10.75" height="10.79" fill="#112c6c"/>
<rect x="603.58" y="239.32" width="10.75" height="10.79" fill="#112c6c"/>
<rect x="613.73" y="239.32" width="10.75" height="10.79" fill="#112c6c"/>
<rect x="623.88" y="239.32" width="10.75" height="10.79" fill="#112c6c"/>
<rect x="634.04" y="239.32" width="10.75" height="10.79" fill="#112c6c"/>
<rect x="644.19" y="239.32" width="10.75" height="10.79" fill="#1c4a7c"/>
<rect x="654.35" y="239.32" width="10.75" height="10.79" fill="#112c6c"/>
<rect x="400.50" y="249.51" width="10.75" height="10.79" fill="#112c6c"/>
<rect x="410.65" y="249.51" width="10.75" height="10.79" fill="#112c6c"/>
<rect x="420.81" y="249.51" width="10.75" height="10.79" fill="#1c4a7c"/>
<rect x="430.96" y="249.51" width="10.75" height="10.79" fill="#112c6c"/>
<rect x="441.12" y="249.51" width="10.75" height="10.79" fill="#1c4a7c"/>
<rect x="451.27" y="249.51" width="10.75" height="10.79" fill="#112c6c"/>
<rect x="461.42" y="249.51" width="10.75" height="10.79" fill="#112c6c"/>
<rect x="471.58" y="249.51" width="10.75" height="10.79" fill="#112c6c"/>
<rect x="481.73" y="249.51" width="10.75" height="10.79" fill="#1c4a7c"/>
<rect x="491.88" y="249.51" width="10.75" height="10.79" fill="#112c6c"/>
<rect x="502.04" y="249.51" width="10.75" height="10.79" fill="#1c4a7c"/>
<rect x="512.19" y="249.51" width="10.75" height="10.79" fill="#1c4a7c"/>
<rect x="522.35" y="249.51" width="10.75" height="10.79" fill="#112c6c"/>
<rect x="532.50" y="249.51" width="10.75" height="10.79" fill="#112c6c"/>
<rect x="542.65" y="249.51" width="10.75" height="10.79" fill="#1c4a7c"/>
<rect x="552.81" y="249.51" width="10.75" height="10.79" fill="#112c6c"/>
<rect x="562.96" y="249.51" width="10.75" height="10.79" fill="#112c6c"/>
<rect x="573.12" y="249.51" width="10.75" height="10.79" fill="#112c6c"/>
<rect x="583.27" y="249.51" width="10.75" height="10.79" fill="#112c6c"/>
<rect x="593.42" y="249.51" width="10.75" height="10.79" fill="#112c6c"/>
<rect x="603.58" y="249.51" width="10.75" height="10.79" fill="#112c6c"/>
<rect x="613.73" y="249.51" width="10.75" height="10.79" fill="#112c6c"/>
<rect x="623.88" y="249.51" width="10.75" height="10.79" fill="#112c6c"/>
<rect x="634.04" y="249.51" width="10.75" height="10.79" fill="#112c6c"/>
<rect x="644.19" y="249.51" width="10.75" height="10.79" fill="#1c4a7c"/>
<rect x="654.35" y="249.51" width="10.75" height="10.79" fill="#3a8c4c"/>
</g>
<g filter="url(#hb)" opacity="0.85">
</g>
</g>
<g clip-path="url(#c6)"><rect x="739.3" y="304.3" width="267.1" height="234.7" fill="#50aa34"/>
<g filter="url(#b6)">
<rect x="744.30" y="309.30" width="10.88" height="10.81" fill="#50aa34"/>
<rect x="754.58" y="309.30" width="10.88" height="10.81" fill="#50aa34"/>
<rect x="764.87" y="309.30" width="10.88" height="10.81" fill="#50aa34"/>
<rect x="775.15" y="309.30" width="10.88" height="10.81" fill="#50aa34"/>
<rect x="785.44" y="309.30" width="10.88" height="10.81" fill="#50aa34"/>
<rect x="795.72" y="309.30" width="10.88" height="10.81" fill="#50aa34"/>
<rect x="806.00" y="309.30" width="10.88" height="10.81" fill="#50aa34"/>
<rect x="816.29" y="309.30" width="10.88" height="10.81" fill="#489858"/>
<rect x="826.57" y="309.30" width="10.88" height="10.81" fill="#50aa34"/>
<rect x="836.86" y="309.30" width="10.88" height="10.81" fill="#50aa34"/>
<rect x="847.14" y="309.30" width="10.88" height="10.81" fill="#50aa34"/>
<rect x="857.42" y="309.30" width="10.88" height="10.81" fill="#50aa34"/>
<rect x="867.71" y="309.30" width="10.88" height="10.81" fill="#50aa34"/>
<rect x="877.99" y="309.30" width="10.88" height="10.81" fill="#50aa34"/>
<rect x="888.28" y="309.30" width="10.88" height="10.81" fill="#50aa34"/>
<rect x="898.56" y="309.30" width="10.88" height="10.81" fill="#50aa34"/>
<rect x="908.84" y="309.30" width="10.88" height="10.81" fill="#50aa34"/>
<rect x="919.13" y="309.30" width="10.88" height="10.81" fill="#50aa34"/>
<rect x="929.41" y="309.30" width="10.88" height="10.81" fill="#50aa34"/>
<rect x="939.70" y="309.30" width="10.88" height="10.81" fill="#50aa34"/>
<rect x="949.98" y="309.30" width="10.88" height="10.81" fill="#50aa34"/>
<rect x="960.26" y="309.30" width="10.88" height="10.81" fill="#50aa34"/>
<rect x="970.55" y="309.30" width="10.88" height="10.81" fill="#50aa34"/>
<rect x="980.83" y="309.30" width="10.88" height="10.81" fill="#50aa34"/>
<rect x="991.12" y="309.30" width="10.88" height="10.81" fill="#50aa34"/>
<rect x="744.30" y="319.51" width="10.88" height="10.81" fill="#50aa34"/>
<rect x="754.58" y="319.51" width="10.88" height="10.81" fill="#50aa34"/>
<rect x="764.87" y="319.51" width="10.88" height="10.81" fill="#50aa34"/>
<rect x="775.15" y="319.51" width="10.88" height="10.81" fill="#50aa34"/>
<rect x="785.44" y="319.51" width="10.88" height="10.81" fill="#50aa34"/>
<rect x="795.72" y="319.51" width="10.88" height="10.81" fill="#50aa34"/>
<rect x="806.00" y="319.51" width="10.88" height="10.81" fill="#50aa34"/>
<rect x="816.29" y="319.51" width="10.88" height="10.81" fill="#50aa34"/>
<rect x="826.57" y="319.51" width="10.88" height="10.81" fill="#489858"/>
<rect x="836.86" y="319.51" width="10.88" height="10.81" fill="#50aa34"/>
<rect x="847.14" y="319.51" width="10.88" height="10.81" fill="#50aa34"/>
<rect x="857.42" y="319.51" width="10.88" height="10.81" fill="#50aa34"/>
<rect x="867.71" y="319.51" width="10.88" height="10.81" fill="#489858"/>
<rect x="877.99" y="319.51" width="10.88" height="10.81" fill="#50aa34"/>
<rect x="888.28" y="319.51" width="10.88" height="10.81" fill="#50aa34"/>
<rect x="898.56" y="319.51" width="10.88" height="10.81" fill="#50aa34"/>
<rect x="908.84" y="319.51" width="10.88" height="10.81" fill="#50aa34"/>
<rect x="919.13" y="319.51" width="10.88" height="10.81" fill="#50aa34"/>
<rect x="929.41" y="319.51" width="10.88" height="10.81" fill="#50aa34"/>
<rect x="939.70" y="319.51" width="10.88" height="10.81" fill="#50aa34"/>
<rect x="949.98" y="319.51" width="10.88" height="10.81" fill="#489858"/>
<rect x="960.26" y="319.51" width="10.88" height="10.81" fill="#50aa34"/>
<rect x="970.55" y="319.51" width="10.88" height="10.81" fill="#50aa34"/>
<rect x="980.83" y="319.51" width="10.88" height="10.81" fill="#50aa34"/>
<rect x="991.12" y="319.51" width="10.88" height="10.81" fill="#50aa34"/>
<rect x="744.30" y="329.73" width="10.88" height="10.81" fill="#50aa34"/>
<rect x="754.58" y="329.73" width="10.88" height="10.81" fill="#50aa34"/>
<rect x="764.87" y="329.73" width="10.88" height="10.81" fill="#50aa34"/>
<rect x="775.15" y="329.73" width="10.88" height="10.81" fill="#50aa34"/>
<rect x="785.44" y="329.73" width="10.88" height="10.81" fill="#50aa34"/>
<rect x="795.72" y="329.73" width="10.88" height="10.81" fill="#50aa34"/>
<rect x="806.00" y="329.73" width="10.88" height="10.81" fill="#50aa34"/>
<rect x="816.29" y="329.73" width="10.88" height="10.81" fill="#489858"/>
<rect x="826.57" y="329.73" width="10.88" height="10.81" fill="#489858"/>
<rect x="836.86" y="329.73" width="10.88" height="10.81" fill="#50aa34"/>
<rect x="847.14" y="329.73" width="10.88" height="10.81" fill="#489858"/>
<rect x="857.42" y="329.73" width="10.88" height="10.81" fill="#489858"/>
<rect x="867.71" y="329.73" width="10.88" height="10.81" fill="#489858"/>
<rect x="877.99" y="329.73" width="10.88" height="10.81" fill="#50aa34"/>
<rect x="888.28" y="329.73" width="10.88" height="10.81" fill="#50aa34"/>
<rect x="898.56" y="329.73" width="10.88" height="10.81" fill="#50aa34"/>
<rect x="908.84" y="329.73" width="10.88" height="10.81" fill="#50aa34"/>
<rect x="919.13" y="329.73" width="10.88" height="10.81" fill="#50aa34"/>
<rect x="929.41" y="329.73" width="10.88" height="10.81" fill="#50aa34"/>
<rect x="939.70" y="329.73" width="10.88" height="10.81" fill="#50aa34"/>
<rect x="949.98" y="329.73" width="10.88" height="10.81" fill="#50aa34"/>
<rect x="960.26" y="329.73" width="10.88" height="10.81" fill="#50aa34"/>
<rect x="970.55" y="329.73" width="10.88" height="10.81" fill="#50aa34"/>
<rect x="980.83" y="329.73" width="10.88" height="10.81" fill="#50aa34"/>
<rect x="991.12" y="329.73" width="10.88" height="10.81" fill="#50aa34"/>
<rect x="744.30" y="339.94" width="10.88" height="10.81" fill="#50aa34"/>
<rect x="754.58" y="339.94" width="10.88" height="10.81" fill="#50aa34"/>
<rect x="764.87" y="339.94" width="10.88" height="10.81" fill="#50aa34"/>
<rect x="775.15" y="339.94" width="10.88" height="10.81" fill="#50aa34"/>
<rect x="785.44" y="339.94" width="10.88" height="10.81" fill="#50aa34"/>
<rect x="795.72" y="339.94" width="10.88" height="10.81" fill="#50aa34"/>
<rect x="806.00" y="339.94" width="10.88" height="10.81" fill="#50aa34"/>
<rect x="816.29" y="339.94" width="10.88" height="10.81" fill="#489858"/>
<rect x="826.57" y="339.94" width="10.88" height="10.81" fill="#3f8478"/>
<rect x="836.86" y="339.94" width="10.88" height="10.81" fill="#489858"/>
<rect x="847.14" y="339.94" width="10.88" height="10.81" fill="#50aa34"/>
<rect x="857.42" y="339.94" width="10.88" height="10.81" fill="#3f8478"/>
<rect x="867.71" y="339.94" width="10.88" height="10.81" fill="#489858"/>
<rect x="877.99" y="339.94" width="10.88" height="10.81" fill="#50aa34"/>
<rect x="888.28" y="339.94" width="10.88" height="10.81" fill="#50aa34"/>
<rect x="898.56" y="339.94" width="10.88" height="10.81" fill="#50aa34"/>
<rect x="908.84" y="339.94" width="10.88" height="10.81" fill="#50aa34"/>
<rect x="919.13" y="339.94" width="10.88" height="10.81" fill="#50aa34"/>
<rect x="929.41" y="339.94" width="10.88" height="10.81" fill="#50aa34"/>
<rect x="939.70" y="339.94" width="10.88" height="10.81" fill="#50aa34"/>
<rect x="949.98" y="339.94" width="10.88" height="10.81" fill="#489858"/>
<rect x="960.26" y="339.94" width="10.88" height="10.81" fill="#50aa34"/>
<rect x="970.55" y="339.94" width="10.88" height="10.81" fill="#50aa34"/>
<rect x="980.83" y="339.94" width="10.88" height="10.81" fill="#50aa34"/>
<rect x="991.12" y="339.94" width="10.88" height="10.81" fill="#50aa34"/>
<rect x="744.30" y="350.15" width="10.88" height="10.81" fill="#50aa34"/>
<rect x="754.58" y="350.15" width="10.88" height="10.81" fill="#50aa34"/>
<rect x="764.87" y="350.15" width="10.88" height="10.81" fill="#50aa34"/>
<rect x="775.15" y="350.15" width="10.88" height="10.81" fill="#50aa34"/>
<rect x="785.44" y="350.15" width="10.88" height="10.81" fill="#50aa34"/>
<rect x="795.72" y="350.15" width="10.88" height="10.81" fill="#50aa34"/>
<rect x="806.00" y="350.15" width="10.88" height="10.81" fill="#50aa34"/>
<rect x="816.29" y="350.15" width="10.88" height="10.81" fill="#50aa34"/>
<rect x="826.57" y="350.15" width="10.88" height="10.81" fill="#489858"/>
<rect x="836.86" y="350.15" width="10.88" height="10.81" fill="#489858"/>
<rect x="847.14" y="350.15" width="10.88" height="10.81" fill="#489858"/>
<rect x="857.42" y="350.15" width="10.88" height="10.81" fill="#3f8478"/>
<rect x="867.71" y="350.15" width="10.88" height="10.81" fill="#489858"/>
<rect x="877.99" y="350.15" width="10.88" height="10.81" fill="#50aa34"/>
<rect x="888.28" y="350.15" width="10.88" height="10.81" fill="#50aa34"/>
<rect x="898.56" y="350.15" width="10.88" height="10.81" fill="#50aa34"/>
<rect x="908.84" y="350.15" width="10.88" height="10.81" fill="#50aa34"/>
<rect x="919.13" y="350.15" width="10.88" height="10.81" fill="#50aa34"/>
<rect x="929.41" y="350.15" width="10.88" height="10.81" fill="#50aa34"/>
<rect x="939.70" y="350.15" width="10.88" height="10.81" fill="#50aa34"/>
<rect x="949.98" y="350.15" width="10.88" height="10.81" fill="#50aa34"/>
<rect x="960.26" y="350.15" width="10.88" height="10.81" fill="#489858"/>
<rect x="970.55" y="350.15" width="10.88" height="10.81" fill="#50aa34"/>
<rect x="980.83" y="350.15" width="10.88" height="10.81" fill="#50aa34"/>
<rect x="991.12" y="350.15" width="10.88" height="10.81" fill="#50aa34"/>
<rect x="744.30" y="360.37" width="10.88" height="10.81" fill="#50aa34"/>
<rect x="754.58" y="360.37" width="10.88" height="10.81" fill="#50aa34"/>
<rect x="764.87" y="360.37" width="10.88" height="10.81" fill="#50aa34"/>
<rect x="775.15" y="360.37" width="10.88" height="10.81" fill="#50aa34"/>
<rect x="785.44" y="360.37" width="10.88" height="10.81" fill="#50aa34"/>
<rect x="795.72" y="360.37" width="10.88" height="10.81" fill="#50aa34"/>
<rect x="806.00" y="360.37" width="10.88" height="10.81" fill="#50aa34"/>
<rect x="816.29" y="360.37" width="10.88" height="10.81" fill="#50aa34"/>
<rect x="826.57" y="360.37" width="10.88" height="10.81" fill="#50aa34"/>
<rect x="836.86" y="360.37" width="10.88" height="10.81" fill="#489858"/>
<rect x="847.14" y="360.37" width="10.88" height="10.81" fill="#489858"/>
<rect x="857.42" y="360.37" width="10.88" height="10.81" fill="#489858"/>
<rect x="867.71" y="360.37" width="10.88" height="10.81" fill="#489858"/>
<rect x="877.99" y="360.37" width="10.88" height="10.81" fill="#50aa34"/>
<rect x="888.28" y="360.37" width="10.88" height="10.81" fill="#50aa34"/>
<rect x="898.56" y="360.37" width="10.88" height="10.81" fill="#3f8478"/>
<rect x="908.84" y="360.37" width="10.88" height="10.81" fill="#3f8478"/>
<rect x="919.13" y="360.37" width="10.88" height="10.81" fill="#50aa34"/>
<rect x="929.41" y="360.37" width="10.88" height="10.81" fill="#489858"/>
<rect x="939.70" y="360.37" width="10.88" height="10.81" fill="#50aa34"/>
<rect x="949.98" y="360.37" width="10.88" height="10.81" fill="#489858"/>
<rect x="960.26" y="360.37" width="10.88" height="10.81" fill="#50aa34"/>
<rect x="970.55" y="360.37" width="10.88" height="10.81" fill="#50aa34"/>
<rect x="980.83" y="360.37" width="10.88" height="10.81" fill="#489858"/>
<rect x="991.12" y="360.37" width="10.88" height="10.81" fill="#50aa34"/>
<rect x="744.30" y="370.58" width="10.88" height="10.81" fill="#50aa34"/>
<rect x="754.58" y="370.58" width="10.88" height="10.81" fill="#50aa34"/>
<rect x="764.87" y="370.58" width="10.88" height="10.81" fill="#50aa34"/>
<rect x="775.15" y="370.58" width="10.88" height="10.81" fill="#50aa34"/>
<rect x="785.44" y="370.58" width="10.88" height="10.81" fill="#50aa34"/>
<rect x="795.72" y="370.58" width="10.88" height="10.81" fill="#50aa34"/>
<rect x="806.00" y="370.58" width="10.88" height="10.81" fill="#50aa34"/>
<rect x="816.29" y="370.58" width="10.88" height="10.81" fill="#50aa34"/>
<rect x="826.57" y="370.58" width="10.88" height="10.81" fill="#50aa34"/>
<rect x="836.86" y="370.58" width="10.88" height="10.81" fill="#489858"/>
<rect x="847.14" y="370.58" width="10.88" height="10.81" fill="#3f8478"/>
<rect x="857.42" y="370.58" width="10.88" height="10.81" fill="#489858"/>
<rect x="867.71" y="370.58" width="10.88" height="10.81" fill="#489858"/>
<rect x="877.99" y="370.58" width="10.88" height="10.81" fill="#3f8478"/>
<rect x="888.28" y="370.58" width="10.88" height="10.81" fill="#489858"/>
<rect x="898.56" y="370.58" width="10.88" height="10.81" fill="#489858"/>
<rect x="908.84" y="370.58" width="10.88" height="10.81" fill="#50aa34"/>
<rect x="919.13" y="370.58" width="10.88" height="10.81" fill="#50aa34"/>
<rect x="929.41" y="370.58" width="10.88" height="10.81" fill="#50aa34"/>
<rect x="939.70" y="370.58" width="10.88" height="10.81" fill="#50aa34"/>
<rect x="949.98" y="370.58" width="10.88" height="10.81" fill="#50aa34"/>
<rect x="960.26" y="370.58" width="10.88" height="10.81" fill="#50aa34"/>
<rect x="970.55" y="370.58" width="10.88" height="10.81" fill="#50aa34"/>
<rect x="980.83" y="370.58" width="10.88" height="10.81" fill="#50aa34"/>
<rect x="991.12" y="370.58" width="10.88" height="10.81" fill="#50aa34"/>
<rect x="744.30" y="380.80" width="10.88" height="10.81" fill="#50aa34"/>
<rect x="754.58" y="380.80" width="10.88" height="10.81" fill="#50aa34"/>
<rect x="764.87" y="380.80" width="10.88" height="10.81" fill="#50aa34"/>
<rect x="775.15" y="380.80" width="10.88" height="10.81" fill="#50aa34"/>
<rect x="785.44" y="380.80" width="10.88" height="10.81" fill="#50aa34"/>
<rect x="795.72" y="380.80" width="10.88" height="10.81" fill="#50aa34"/>
<rect x="806.00" y="380.80" width="10.88" height="10.81" fill="#50aa34"/>
<rect x="816.29" y="380.80" width="10.88" height="10.81" fill="#489858"/>
<rect x="826.57" y="380.80" width="10.88" height="10.81" fill="#50aa34"/>
<rect x="836.86" y="380.80" width="10.88" height="10.81" fill="#50aa34"/>
<rect x="847.14" y="380.80" width="10.88" height="10.81" fill="#3f8478"/>
<rect x="857.42" y="380.80" width="10.88" height="10.81" fill="#489858"/>
<rect x="867.71" y="380.80" width="10.88" height="10.81" fill="#3f8478"/>
<rect x="877.99" y="380.80" width="10.88" height="10.81" fill="#3258c0"/>
<rect x="888.28" y="380.80" width="10.88" height="10.81" fill="#4a40cc"/>
<rect x="898.56" y="380.80" width="10.88" height="10.81" fill="#3258c0"/>
<rect x="908.84" y="380.80" width="10.88" height="10.81" fill="#3f8478"/>
<rect x="919.13" y="380.80" width="10.88" height="10.81" fill="#489858"/>
<rect x="929.41" y="380.80" width="10.88" height="10.81" fill="#50aa34"/>
<rect x="939.70" y="380.80" width="10.88" height="10.81" fill="#50aa34"/>
<rect x="949.98" y="380.80" width="10.88" height="10.81" fill="#50aa34"/>
<rect x="960.26" y="380.80" width="10.88" height="10.81" fill="#50aa34"/>
<rect x="970.55" y="380.80" width="10.88" height="10.81" fill="#50aa34"/>
<rect x="980.83" y="380.80" width="10.88" height="10.81" fill="#3f8478"/>
<rect x="991.12" y="380.80" width="10.88" height="10.81" fill="#50aa34"/>
<rect x="744.30" y="391.01" width="10.88" height="10.81" fill="#50aa34"/>
<rect x="754.58" y="391.01" width="10.88" height="10.81" fill="#50aa34"/>
<rect x="764.87" y="391.01" width="10.88" height="10.81" fill="#50aa34"/>
<rect x="775.15" y="391.01" width="10.88" height="10.81" fill="#50aa34"/>
<rect x="785.44" y="391.01" width="10.88" height="10.81" fill="#50aa34"/>
<rect x="795.72" y="391.01" width="10.88" height="10.81" fill="#50aa34"/>
<rect x="806.00" y="391.01" width="10.88" height="10.81" fill="#50aa34"/>
<rect x="816.29" y="391.01" width="10.88" height="10.81" fill="#50aa34"/>
<rect x="826.57" y="391.01" width="10.88" height="10.81" fill="#50aa34"/>
<rect x="836.86" y="391.01" width="10.88" height="10.81" fill="#489858"/>
<rect x="847.14" y="391.01" width="10.88" height="10.81" fill="#3f8478"/>
<rect x="857.42" y="391.01" width="10.88" height="10.81" fill="#489858"/>
<rect x="867.71" y="391.01" width="10.88" height="10.81" fill="#3258c0"/>
<rect x="877.99" y="391.01" width="10.88" height="10.81" fill="#4a40cc"/>
<rect x="888.28" y="391.01" width="10.88" height="10.81" fill="#4a40cc"/>
<rect x="898.56" y="391.01" width="10.88" height="10.81" fill="#3258c0"/>
<rect x="908.84" y="391.01" width="10.88" height="10.81" fill="#3f8478"/>
<rect x="919.13" y="391.01" width="10.88" height="10.81" fill="#489858"/>
<rect x="929.41" y="391.01" width="10.88" height="10.81" fill="#50aa34"/>
<rect x="939.70" y="391.01" width="10.88" height="10.81" fill="#50aa34"/>
<rect x="949.98" y="391.01" width="10.88" height="10.81" fill="#3258c0"/>
<rect x="960.26" y="391.01" width="10.88" height="10.81" fill="#3258c0"/>
<rect x="970.55" y="391.01" width="10.88" height="10.81" fill="#50aa34"/>
<rect x="980.83" y="391.01" width="10.88" height="10.81" fill="#3258c0"/>
<rect x="991.12" y="391.01" width="10.88" height="10.81" fill="#50aa34"/>
<rect x="744.30" y="401.22" width="10.88" height="10.81" fill="#50aa34"/>
<rect x="754.58" y="401.22" width="10.88" height="10.81" fill="#50aa34"/>
<rect x="764.87" y="401.22" width="10.88" height="10.81" fill="#3f8478"/>
<rect x="775.15" y="401.22" width="10.88" height="10.81" fill="#50aa34"/>
<rect x="785.44" y="401.22" width="10.88" height="10.81" fill="#50aa34"/>
<rect x="795.72" y="401.22" width="10.88" height="10.81" fill="#50aa34"/>
<rect x="806.00" y="401.22" width="10.88" height="10.81" fill="#50aa34"/>
<rect x="816.29" y="401.22" width="10.88" height="10.81" fill="#50aa34"/>
<rect x="826.57" y="401.22" width="10.88" height="10.81" fill="#489858"/>
<rect x="836.86" y="401.22" width="10.88" height="10.81" fill="#3f8478"/>
<rect x="847.14" y="401.22" width="10.88" height="10.81" fill="#489858"/>
<rect x="857.42" y="401.22" width="10.88" height="10.81" fill="#3f8478"/>
<rect x="867.71" y="401.22" width="10.88" height="10.81" fill="#3258c0"/>
<rect x="877.99" y="401.22" width="10.88" height="10.81" fill="#4a40cc"/>
<rect x="888.28" y="401.22" width="10.88" height="10.81" fill="#4a40cc"/>
<rect x="898.56" y="401.22" width="10.88" height="10.81" fill="#3258c0"/>
<rect x="908.84" y="401.22" width="10.88" height="10.81" fill="#3f8478"/>
<rect x="919.13" y="401.22" width="10.88" height="10.81" fill="#489858"/>
<rect x="929.41" y="401.22" width="10.88" height="10.81" fill="#489858"/>
<rect x="939.70" y="401.22" width="10.88" height="10.81" fill="#50aa34"/>
<rect x="949.98" y="401.22" width="10.88" height="10.81" fill="#3258c0"/>
<rect x="960.26" y="401.22" width="10.88" height="10.81" fill="#3f8478"/>
<rect x="970.55" y="401.22" width="10.88" height="10.81" fill="#50aa34"/>
<rect x="980.83" y="401.22" width="10.88" height="10.81" fill="#3f8478"/>
<rect x="991.12" y="401.22" width="10.88" height="10.81" fill="#50aa34"/>
<rect x="744.30" y="411.44" width="10.88" height="10.81" fill="#3f8478"/>
<rect x="754.58" y="411.44" width="10.88" height="10.81" fill="#50aa34"/>
<rect x="764.87" y="411.44" width="10.88" height="10.81" fill="#3258c0"/>
<rect x="775.15" y="411.44" width="10.88" height="10.81" fill="#3f8478"/>
<rect x="785.44" y="411.44" width="10.88" height="10.81" fill="#3258c0"/>
<rect x="795.72" y="411.44" width="10.88" height="10.81" fill="#3258c0"/>
<rect x="806.00" y="411.44" width="10.88" height="10.81" fill="#3258c0"/>
<rect x="816.29" y="411.44" width="10.88" height="10.81" fill="#3f8478"/>
<rect x="826.57" y="411.44" width="10.88" height="10.81" fill="#50aa34"/>
<rect x="836.86" y="411.44" width="10.88" height="10.81" fill="#489858"/>
<rect x="847.14" y="411.44" width="10.88" height="10.81" fill="#3f8478"/>
<rect x="857.42" y="411.44" width="10.88" height="10.81" fill="#3258c0"/>
<rect x="867.71" y="411.44" width="10.88" height="10.81" fill="#3258c0"/>
<rect x="877.99" y="411.44" width="10.88" height="10.81" fill="#3258c0"/>
<rect x="888.28" y="411.44" width="10.88" height="10.81" fill="#4a40cc"/>
<rect x="898.56" y="411.44" width="10.88" height="10.81" fill="#3f8478"/>
<rect x="908.84" y="411.44" width="10.88" height="10.81" fill="#489858"/>
<rect x="919.13" y="411.44" width="10.88" height="10.81" fill="#50aa34"/>
<rect x="929.41" y="411.44" width="10.88" height="10.81" fill="#50aa34"/>
<rect x="939.70" y="411.44" width="10.88" height="10.81" fill="#3258c0"/>
<rect x="949.98" y="411.44" width="10.88" height="10.81" fill="#50aa34"/>
<rect x="960.26" y="411.44" width="10.88" height="10.81" fill="#50aa34"/>
<rect x="970.55" y="411.44" width="10.88" height="10.81" fill="#50aa34"/>
<rect x="980.83" y="411.44" width="10.88" height="10.81" fill="#50aa34"/>
<rect x="991.12" y="411.44" width="10.88" height="10.81" fill="#3258c0"/>
<rect x="744.30" y="421.65" width="10.88" height="10.81" fill="#50aa34"/>
<rect x="754.58" y="421.65" width="10.88" height="10.81" fill="#50aa34"/>
<rect x="764.87" y="421.65" width="10.88" height="10.81" fill="#3258c0"/>
<rect x="775.15" y="421.65" width="10.88" height="10.81" fill="#50aa34"/>
<rect x="785.44" y="421.65" width="10.88" height="10.81" fill="#50aa34"/>
<rect x="795.72" y="421.65" width="10.88" height="10.81" fill="#3258c0"/>
<rect x="806.00" y="421.65" width="10.88" height="10.81" fill="#50aa34"/>
<rect x="816.29" y="421.65" width="10.88" height="10.81" fill="#50aa34"/>
<rect x="826.57" y="421.65" width="10.88" height="10.81" fill="#3f8478"/>
<rect x="836.86" y="421.65" width="10.88" height="10.81" fill="#3258c0"/>
<rect x="847.14" y="421.65" width="10.88" height="10.81" fill="#4a40cc"/>
<rect x="857.42" y="421.65" width="10.88" height="10.81" fill="#4a40cc"/>
<rect x="867.71" y="421.65" width="10.88" height="10.81" fill="#4a40cc"/>
<rect x="877.99" y="421.65" width="10.88" height="10.81" fill="#4a40cc"/>
<rect x="888.28" y="421.65" width="10.88" height="10.81" fill="#3258c0"/>
<rect x="898.56" y="421.65" width="10.88" height="10.81" fill="#50aa34"/>
<rect x="908.84" y="421.65" width="10.88" height="10.81" fill="#50aa34"/>
<rect x="919.13" y="421.65" width="10.88" height="10.81" fill="#50aa34"/>
<rect x="929.41" y="421.65" width="10.88" height="10.81" fill="#50aa34"/>
<rect x="939.70" y="421.65" width="10.88" height="10.81" fill="#3258c0"/>
<rect x="949.98" y="421.65" width="10.88" height="10.81" fill="#50aa34"/>
<rect x="960.26" y="421.65" width="10.88" height="10.81" fill="#50aa34"/>
<rect x="970.55" y="421.65" width="10.88" height="10.81" fill="#50aa34"/>
<rect x="980.83" y="421.65" width="10.88" height="10.81" fill="#50aa34"/>
<rect x="991.12" y="421.65" width="10.88" height="10.81" fill="#3258c0"/>
<rect x="744.30" y="431.86" width="10.88" height="10.81" fill="#50aa34"/>
<rect x="754.58" y="431.86" width="10.88" height="10.81" fill="#50aa34"/>
<rect x="764.87" y="431.86" width="10.88" height="10.81" fill="#50aa34"/>
<rect x="775.15" y="431.86" width="10.88" height="10.81" fill="#50aa34"/>
<rect x="785.44" y="431.86" width="10.88" height="10.81" fill="#50aa34"/>
<rect x="795.72" y="431.86" width="10.88" height="10.81" fill="#3f8478"/>
<rect x="806.00" y="431.86" width="10.88" height="10.81" fill="#50aa34"/>
<rect x="816.29" y="431.86" width="10.88" height="10.81" fill="#50aa34"/>
<rect x="826.57" y="431.86" width="10.88" height="10.81" fill="#3f8478"/>
<rect x="836.86" y="431.86" width="10.88" height="10.81" fill="#3258c0"/>
<rect x="847.14" y="431.86" width="10.88" height="10.81" fill="#4a40cc"/>
<rect x="857.42" y="431.86" width="10.88" height="10.81" fill="#4a40cc"/>
<rect x="867.71" y="431.86" width="10.88" height="10.81" fill="#3258c0"/>
<rect x="877.99" y="431.86" width="10.88" height="10.81" fill="#3258c0"/>
<rect x="888.28" y="431.86" width="10.88" height="10.81" fill="#3f8478"/>
<rect x="898.56" y="431.86" width="10.88" height="10.81" fill="#50aa34"/>
<rect x="908.84" y="431.86" width="10.88" height="10.81" fill="#50aa34"/>
<rect x="919.13" y="431.86" width="10.88" height="10.81" fill="#50aa34"/>
<rect x="929.41" y="431.86" width="10.88" height="10.81" fill="#50aa34"/>
<rect x="939.70" y="431.86" width="10.88" height="10.81" fill="#50aa34"/>
<rect x="949.98" y="431.86" width="10.88" height="10.81" fill="#50aa34"/>
<rect x="960.26" y="431.86" width="10.88" height="10.81" fill="#3258c0"/>
<rect x="970.55" y="431.86" width="10.88" height="10.81" fill="#3258c0"/>
<rect x="980.83" y="431.86" width="10.88" height="10.81" fill="#3f8478"/>
<rect x="991.12" y="431.86" width="10.88" height="10.81" fill="#50aa34"/>
<rect x="744.30" y="442.08" width="10.88" height="10.81" fill="#50aa34"/>
<rect x="754.58" y="442.08" width="10.88" height="10.81" fill="#50aa34"/>
<rect x="764.87" y="442.08" width="10.88" height="10.81" fill="#50aa34"/>
<rect x="775.15" y="442.08" width="10.88" height="10.81" fill="#50aa34"/>
<rect x="785.44" y="442.08" width="10.88" height="10.81" fill="#50aa34"/>
<rect x="795.72" y="442.08" width="10.88" height="10.81" fill="#50aa34"/>
<rect x="806.00" y="442.08" width="10.88" height="10.81" fill="#50aa34"/>
<rect x="816.29" y="442.08" width="10.88" height="10.81" fill="#50aa34"/>
<rect x="826.57" y="442.08" width="10.88" height="10.81" fill="#3f8478"/>
<rect x="836.86" y="442.08" width="10.88" height="10.81" fill="#3258c0"/>
<rect x="847.14" y="442.08" width="10.88" height="10.81" fill="#4a40cc"/>
<rect x="857.42" y="442.08" width="10.88" height="10.81" fill="#4a40cc"/>
<rect x="867.71" y="442.08" width="10.88" height="10.81" fill="#3258c0"/>
<rect x="877.99" y="442.08" width="10.88" height="10.81" fill="#3f8478"/>
<rect x="888.28" y="442.08" width="10.88" height="10.81" fill="#50aa34"/>
<rect x="898.56" y="442.08" width="10.88" height="10.81" fill="#50aa34"/>
<rect x="908.84" y="442.08" width="10.88" height="10.81" fill="#50aa34"/>
<rect x="919.13" y="442.08" width="10.88" height="10.81" fill="#d040d4"/>
<rect x="929.41" y="442.08" width="10.88" height="10.81" fill="#50aa34"/>
<rect x="939.70" y="442.08" width="10.88" height="10.81" fill="#50aa34"/>
<rect x="949.98" y="442.08" width="10.88" height="10.81" fill="#3f8478"/>
<rect x="960.26" y="442.08" width="10.88" height="10.81" fill="#d040d4"/>
<rect x="970.55" y="442.08" width="10.88" height="10.81" fill="#4a40cc"/>
<rect x="980.83" y="442.08" width="10.88" height="10.81" fill="#50aa34"/>
<rect x="991.12" y="442.08" width="10.88" height="10.81" fill="#50aa34"/>
<rect x="744.30" y="452.29" width="10.88" height="10.81" fill="#50aa34"/>
<rect x="754.58" y="452.29" width="10.88" height="10.81" fill="#50aa34"/>
<rect x="764.87" y="452.29" width="10.88" height="10.81" fill="#50aa34"/>
<rect x="775.15" y="452.29" width="10.88" height="10.81" fill="#50aa34"/>
<rect x="785.44" y="452.29" width="10.88" height="10.81" fill="#50aa34"/>
<rect x="795.72" y="452.29" width="10.88" height="10.81" fill="#50aa34"/>
<rect x="806.00" y="452.29" width="10.88" height="10.81" fill="#50aa34"/>
<rect x="816.29" y="452.29" width="10.88" height="10.81" fill="#50aa34"/>
<rect x="826.57" y="452.29" width="10.88" height="10.81" fill="#489858"/>
<rect x="836.86" y="452.29" width="10.88" height="10.81" fill="#3f8478"/>
<rect x="847.14" y="452.29" width="10.88" height="10.81" fill="#4a40cc"/>
<rect x="857.42" y="452.29" width="10.88" height="10.81" fill="#4a40cc"/>
<rect x="867.71" y="452.29" width="10.88" height="10.81" fill="#3258c0"/>
<rect x="877.99" y="452.29" width="10.88" height="10.81" fill="#3f8478"/>
<rect x="888.28" y="452.29" width="10.88" height="10.81" fill="#50aa34"/>
<rect x="898.56" y="452.29" width="10.88" height="10.81" fill="#5cbc36"/>
<rect x="908.84" y="452.29" width="10.88" height="10.81" fill="#50aa34"/>
<rect x="919.13" y="452.29" width="10.88" height="10.81" fill="#50aa34"/>
<rect x="929.41" y="452.29" width="10.88" height="10.81" fill="#489858"/>
<rect x="939.70" y="452.29" width="10.88" height="10.81" fill="#50aa34"/>
<rect x="949.98" y="452.29" width="10.88" height="10.81" fill="#3258c0"/>
<rect x="960.26" y="452.29" width="10.88" height="10.81" fill="#d040d4"/>
<rect x="970.55" y="452.29" width="10.88" height="10.81" fill="#3258c0"/>
<rect x="980.83" y="452.29" width="10.88" height="10.81" fill="#50aa34"/>
<rect x="991.12" y="452.29" width="10.88" height="10.81" fill="#50aa34"/>
<rect x="744.30" y="462.50" width="10.88" height="10.81" fill="#50aa34"/>
<rect x="754.58" y="462.50" width="10.88" height="10.81" fill="#50aa34"/>
<rect x="764.87" y="462.50" width="10.88" height="10.81" fill="#50aa34"/>
<rect x="775.15" y="462.50" width="10.88" height="10.81" fill="#50aa34"/>
<rect x="785.44" y="462.50" width="10.88" height="10.81" fill="#50aa34"/>
<rect x="795.72" y="462.50" width="10.88" height="10.81" fill="#50aa34"/>
<rect x="806.00" y="462.50" width="10.88" height="10.81" fill="#50aa34"/>
<rect x="816.29" y="462.50" width="10.88" height="10.81" fill="#50aa34"/>
<rect x="826.57" y="462.50" width="10.88" height="10.81" fill="#489858"/>
<rect x="836.86" y="462.50" width="10.88" height="10.81" fill="#3f8478"/>
<rect x="847.14" y="462.50" width="10.88" height="10.81" fill="#3258c0"/>
<rect x="857.42" y="462.50" width="10.88" height="10.81" fill="#3258c0"/>
<rect x="867.71" y="462.50" width="10.88" height="10.81" fill="#50aa34"/>
<rect x="877.99" y="462.50" width="10.88" height="10.81" fill="#3f8478"/>
<rect x="888.28" y="462.50" width="10.88" height="10.81" fill="#3258c0"/>
<rect x="898.56" y="462.50" width="10.88" height="10.81" fill="#50aa34"/>
<rect x="908.84" y="462.50" width="10.88" height="10.81" fill="#50aa34"/>
<rect x="919.13" y="462.50" width="10.88" height="10.81" fill="#3258c0"/>
<rect x="929.41" y="462.50" width="10.88" height="10.81" fill="#d040d4"/>
<rect x="939.70" y="462.50" width="10.88" height="10.81" fill="#3258c0"/>
<rect x="949.98" y="462.50" width="10.88" height="10.81" fill="#50aa34"/>
<rect x="960.26" y="462.50" width="10.88" height="10.81" fill="#3258c0"/>
<rect x="970.55" y="462.50" width="10.88" height="10.81" fill="#3258c0"/>
<rect x="980.83" y="462.50" width="10.88" height="10.81" fill="#50aa34"/>
<rect x="991.12" y="462.50" width="10.88" height="10.81" fill="#50aa34"/>
<rect x="744.30" y="472.72" width="10.88" height="10.81" fill="#50aa34"/>
<rect x="754.58" y="472.72" width="10.88" height="10.81" fill="#50aa34"/>
<rect x="764.87" y="472.72" width="10.88" height="10.81" fill="#50aa34"/>
<rect x="775.15" y="472.72" width="10.88" height="10.81" fill="#50aa34"/>
<rect x="785.44" y="472.72" width="10.88" height="10.81" fill="#50aa34"/>
<rect x="795.72" y="472.72" width="10.88" height="10.81" fill="#50aa34"/>
<rect x="806.00" y="472.72" width="10.88" height="10.81" fill="#50aa34"/>
<rect x="816.29" y="472.72" width="10.88" height="10.81" fill="#3258c0"/>
<rect x="826.57" y="472.72" width="10.88" height="10.81" fill="#50aa34"/>
<rect x="836.86" y="472.72" width="10.88" height="10.81" fill="#3f8478"/>
<rect x="847.14" y="472.72" width="10.88" height="10.81" fill="#3258c0"/>
<rect x="857.42" y="472.72" width="10.88" height="10.81" fill="#3258c0"/>
<rect x="867.71" y="472.72" width="10.88" height="10.81" fill="#3f8478"/>
<rect x="877.99" y="472.72" width="10.88" height="10.81" fill="#50aa34"/>
<rect x="888.28" y="472.72" width="10.88" height="10.81" fill="#3258c0"/>
<rect x="898.56" y="472.72" width="10.88" height="10.81" fill="#3258c0"/>
<rect x="908.84" y="472.72" width="10.88" height="10.81" fill="#3258c0"/>
<rect x="919.13" y="472.72" width="10.88" height="10.81" fill="#50aa34"/>
<rect x="929.41" y="472.72" width="10.88" height="10.81" fill="#489858"/>
<rect x="939.70" y="472.72" width="10.88" height="10.81" fill="#3258c0"/>
<rect x="949.98" y="472.72" width="10.88" height="10.81" fill="#3258c0"/>
<rect x="960.26" y="472.72" width="10.88" height="10.81" fill="#d040d4"/>
<rect x="970.55" y="472.72" width="10.88" height="10.81" fill="#3258c0"/>
<rect x="980.83" y="472.72" width="10.88" height="10.81" fill="#3258c0"/>
<rect x="991.12" y="472.72" width="10.88" height="10.81" fill="#50aa34"/>
<rect x="744.30" y="482.93" width="10.88" height="10.81" fill="#50aa34"/>
<rect x="754.58" y="482.93" width="10.88" height="10.81" fill="#50aa34"/>
<rect x="764.87" y="482.93" width="10.88" height="10.81" fill="#50aa34"/>
<rect x="775.15" y="482.93" width="10.88" height="10.81" fill="#50aa34"/>
<rect x="785.44" y="482.93" width="10.88" height="10.81" fill="#50aa34"/>
<rect x="795.72" y="482.93" width="10.88" height="10.81" fill="#50aa34"/>
<rect x="806.00" y="482.93" width="10.88" height="10.81" fill="#50aa34"/>
<rect x="816.29" y="482.93" width="10.88" height="10.81" fill="#3258c0"/>
<rect x="826.57" y="482.93" width="10.88" height="10.81" fill="#3258c0"/>
<rect x="836.86" y="482.93" width="10.88" height="10.81" fill="#3f8478"/>
<rect x="847.14" y="482.93" width="10.88" height="10.81" fill="#3258c0"/>
<rect x="857.42" y="482.93" width="10.88" height="10.81" fill="#3258c0"/>
<rect x="867.71" y="482.93" width="10.88" height="10.81" fill="#50aa34"/>
<rect x="877.99" y="482.93" width="10.88" height="10.81" fill="#489858"/>
<rect x="888.28" y="482.93" width="10.88" height="10.81" fill="#50aa34"/>
<rect x="898.56" y="482.93" width="10.88" height="10.81" fill="#3258c0"/>
<rect x="908.84" y="482.93" width="10.88" height="10.81" fill="#3258c0"/>
<rect x="919.13" y="482.93" width="10.88" height="10.81" fill="#3f8478"/>
<rect x="929.41" y="482.93" width="10.88" height="10.81" fill="#3258c0"/>
<rect x="939.70" y="482.93" width="10.88" height="10.81" fill="#3258c0"/>
<rect x="949.98" y="482.93" width="10.88" height="10.81" fill="#50aa34"/>
<rect x="960.26" y="482.93" width="10.88" height="10.81" fill="#50aa34"/>
<rect x="970.55" y="482.93" width="10.88" height="10.81" fill="#3258c0"/>
<rect x="980.83" y="482.93" width="10.88" height="10.81" fill="#3258c0"/>
<rect x="991.12" y="482.93" width="10.88" height="10.81" fill="#3258c0"/>
<rect x="744.30" y="493.15" width="10.88" height="10.81" fill="#50aa34"/>
<rect x="754.58" y="493.15" width="10.88" height="10.81" fill="#50aa34"/>
<rect x="764.87" y="493.15" width="10.88" height="10.81" fill="#50aa34"/>
<rect x="775.15" y="493.15" width="10.88" height="10.81" fill="#50aa34"/>
<rect x="785.44" y="493.15" width="10.88" height="10.81" fill="#50aa34"/>
<rect x="795.72" y="493.15" width="10.88" height="10.81" fill="#50aa34"/>
<rect x="806.00" y="493.15" width="10.88" height="10.81" fill="#3258c0"/>
<rect x="816.29" y="493.15" width="10.88" height="10.81" fill="#3258c0"/>
<rect x="826.57" y="493.15" width="10.88" height="10.81" fill="#3258c0"/>
<rect x="836.86" y="493.15" width="10.88" height="10.81" fill="#50aa34"/>
<rect x="847.14" y="493.15" width="10.88" height="10.81" fill="#50aa34"/>
<rect x="857.42" y="493.15" width="10.88" height="10.81" fill="#3258c0"/>
<rect x="867.71" y="493.15" width="10.88" height="10.81" fill="#3258c0"/>
<rect x="877.99" y="493.15" width="10.88" height="10.81" fill="#3258c0"/>
<rect x="888.28" y="493.15" width="10.88" height="10.81" fill="#3258c0"/>
<rect x="898.56" y="493.15" width="10.88" height="10.81" fill="#50aa34"/>
<rect x="908.84" y="493.15" width="10.88" height="10.81" fill="#50aa34"/>
<rect x="919.13" y="493.15" width="10.88" height="10.81" fill="#3f8478"/>
<rect x="929.41" y="493.15" width="10.88" height="10.81" fill="#3258c0"/>
<rect x="939.70" y="493.15" width="10.88" height="10.81" fill="#3258c0"/>
<rect x="949.98" y="493.15" width="10.88" height="10.81" fill="#50aa34"/>
<rect x="960.26" y="493.15" width="10.88" height="10.81" fill="#50aa34"/>
<rect x="970.55" y="493.15" width="10.88" height="10.81" fill="#3258c0"/>
<rect x="980.83" y="493.15" width="10.88" height="10.81" fill="#3258c0"/>
<rect x="991.12" y="493.15" width="10.88" height="10.81" fill="#3258c0"/>
<rect x="744.30" y="503.36" width="10.88" height="10.81" fill="#50aa34"/>
<rect x="754.58" y="503.36" width="10.88" height="10.81" fill="#50aa34"/>
<rect x="764.87" y="503.36" width="10.88" height="10.81" fill="#50aa34"/>
<rect x="775.15" y="503.36" width="10.88" height="10.81" fill="#50aa34"/>
<rect x="785.44" y="503.36" width="10.88" height="10.81" fill="#3258c0"/>
<rect x="795.72" y="503.36" width="10.88" height="10.81" fill="#50aa34"/>
<rect x="806.00" y="503.36" width="10.88" height="10.81" fill="#3258c0"/>
<rect x="816.29" y="503.36" width="10.88" height="10.81" fill="#50aa34"/>
<rect x="826.57" y="503.36" width="10.88" height="10.81" fill="#50aa34"/>
<rect x="836.86" y="503.36" width="10.88" height="10.81" fill="#3258c0"/>
<rect x="847.14" y="503.36" width="10.88" height="10.81" fill="#50aa34"/>
<rect x="857.42" y="503.36" width="10.88" height="10.81" fill="#3258c0"/>
<rect x="867.71" y="503.36" width="10.88" height="10.81" fill="#3258c0"/>
<rect x="877.99" y="503.36" width="10.88" height="10.81" fill="#3258c0"/>
<rect x="888.28" y="503.36" width="10.88" height="10.81" fill="#50aa34"/>
<rect x="898.56" y="503.36" width="10.88" height="10.81" fill="#50aa34"/>
<rect x="908.84" y="503.36" width="10.88" height="10.81" fill="#50aa34"/>
<rect x="919.13" y="503.36" width="10.88" height="10.81" fill="#50aa34"/>
<rect x="929.41" y="503.36" width="10.88" height="10.81" fill="#3258c0"/>
<rect x="939.70" y="503.36" width="10.88" height="10.81" fill="#50aa34"/>
<rect x="949.98" y="503.36" width="10.88" height="10.81" fill="#50aa34"/>
<rect x="960.26" y="503.36" width="10.88" height="10.81" fill="#3258c0"/>
<rect x="970.55" y="503.36" width="10.88" height="10.81" fill="#3258c0"/>
<rect x="980.83" y="503.36" width="10.88" height="10.81" fill="#50aa34"/>
<rect x="991.12" y="503.36" width="10.88" height="10.81" fill="#50aa34"/>
<rect x="744.30" y="513.57" width="10.88" height="10.81" fill="#50aa34"/>
<rect x="754.58" y="513.57" width="10.88" height="10.81" fill="#50aa34"/>
<rect x="764.87" y="513.57" width="10.88" height="10.81" fill="#50aa34"/>
<rect x="775.15" y="513.57" width="10.88" height="10.81" fill="#50aa34"/>
<rect x="785.44" y="513.57" width="10.88" height="10.81" fill="#3258c0"/>
<rect x="795.72" y="513.57" width="10.88" height="10.81" fill="#50aa34"/>
<rect x="806.00" y="513.57" width="10.88" height="10.81" fill="#3258c0"/>
<rect x="816.29" y="513.57" width="10.88" height="10.81" fill="#50aa34"/>
<rect x="826.57" y="513.57" width="10.88" height="10.81" fill="#50aa34"/>
<rect x="836.86" y="513.57" width="10.88" height="10.81" fill="#50aa34"/>
<rect x="847.14" y="513.57" width="10.88" height="10.81" fill="#3258c0"/>
<rect x="857.42" y="513.57" width="10.88" height="10.81" fill="#50aa34"/>
<rect x="867.71" y="513.57" width="10.88" height="10.81" fill="#50aa34"/>
<rect x="877.99" y="513.57" width="10.88" height="10.81" fill="#3258c0"/>
<rect x="888.28" y="513.57" width="10.88" height="10.81" fill="#50aa34"/>
<rect x="898.56" y="513.57" width="10.88" height="10.81" fill="#50aa34"/>
<rect x="908.84" y="513.57" width="10.88" height="10.81" fill="#3258c0"/>
<rect x="919.13" y="513.57" width="10.88" height="10.81" fill="#50aa34"/>
<rect x="929.41" y="513.57" width="10.88" height="10.81" fill="#50aa34"/>
<rect x="939.70" y="513.57" width="10.88" height="10.81" fill="#3258c0"/>
<rect x="949.98" y="513.57" width="10.88" height="10.81" fill="#50aa34"/>
<rect x="960.26" y="513.57" width="10.88" height="10.81" fill="#3258c0"/>
<rect x="970.55" y="513.57" width="10.88" height="10.81" fill="#3258c0"/>
<rect x="980.83" y="513.57" width="10.88" height="10.81" fill="#50aa34"/>
<rect x="991.12" y="513.57" width="10.88" height="10.81" fill="#50aa34"/>
<rect x="744.30" y="523.79" width="10.88" height="10.81" fill="#50aa34"/>
<rect x="754.58" y="523.79" width="10.88" height="10.81" fill="#50aa34"/>
<rect x="764.87" y="523.79" width="10.88" height="10.81" fill="#50aa34"/>
<rect x="775.15" y="523.79" width="10.88" height="10.81" fill="#50aa34"/>
<rect x="785.44" y="523.79" width="10.88" height="10.81" fill="#3258c0"/>
<rect x="795.72" y="523.79" width="10.88" height="10.81" fill="#50aa34"/>
<rect x="806.00" y="523.79" width="10.88" height="10.81" fill="#50aa34"/>
<rect x="816.29" y="523.79" width="10.88" height="10.81" fill="#50aa34"/>
<rect x="826.57" y="523.79" width="10.88" height="10.81" fill="#50aa34"/>
<rect x="836.86" y="523.79" width="10.88" height="10.81" fill="#50aa34"/>
<rect x="847.14" y="523.79" width="10.88" height="10.81" fill="#50aa34"/>
<rect x="857.42" y="523.79" width="10.88" height="10.81" fill="#50aa34"/>
<rect x="867.71" y="523.79" width="10.88" height="10.81" fill="#50aa34"/>
<rect x="877.99" y="523.79" width="10.88" height="10.81" fill="#50aa34"/>
<rect x="888.28" y="523.79" width="10.88" height="10.81" fill="#3258c0"/>
<rect x="898.56" y="523.79" width="10.88" height="10.81" fill="#3258c0"/>
<rect x="908.84" y="523.79" width="10.88" height="10.81" fill="#50aa34"/>
<rect x="919.13" y="523.79" width="10.88" height="10.81" fill="#3258c0"/>
<rect x="929.41" y="523.79" width="10.88" height="10.81" fill="#3258c0"/>
<rect x="939.70" y="523.79" width="10.88" height="10.81" fill="#50aa34"/>
<rect x="949.98" y="523.79" width="10.88" height="10.81" fill="#3258c0"/>
<rect x="960.26" y="523.79" width="10.88" height="10.81" fill="#3258c0"/>
<rect x="970.55" y="523.79" width="10.88" height="10.81" fill="#50aa34"/>
<rect x="980.83" y="523.79" width="10.88" height="10.81" fill="#50aa34"/>
<rect x="991.12" y="523.79" width="10.88" height="10.81" fill="#50aa34"/>
</g>
<g filter="url(#hb)" opacity="0.85">
</g>
</g>
<g clip-path="url(#c3)"><g filter="url(#b3)">
<rect x="886.00" y="30.00" width="8.60" height="8.60" fill="#0c2a0c"/>
<rect x="894.00" y="30.00" width="8.60" height="8.60" fill="#0c2a0c"/>
<rect x="878.00" y="38.00" width="8.60" height="8.60" fill="#0c2a0c"/>
<rect x="886.00" y="38.00" width="8.60" height="8.60" fill="#1c561a"/>
<rect x="894.00" y="38.00" width="8.60" height="8.60" fill="#1c561a"/>
<rect x="902.00" y="38.00" width="8.60" height="8.60" fill="#0c2a0c"/>
<rect x="870.00" y="46.00" width="8.60" height="8.60" fill="#0c2a0c"/>
<rect x="878.00" y="46.00" width="8.60" height="8.60" fill="#1c561a"/>
<rect x="886.00" y="46.00" width="8.60" height="8.60" fill="#1c561a"/>
<rect x="894.00" y="46.00" width="8.60" height="8.60" fill="#1c561a"/>
<rect x="902.00" y="46.00" width="8.60" height="8.60" fill="#0c2a0c"/>
<rect x="862.00" y="54.00" width="8.60" height="8.60" fill="#0c2a0c"/>
<rect x="870.00" y="54.00" width="8.60" height="8.60" fill="#1c561a"/>
<rect x="878.00" y="54.00" width="8.60" height="8.60" fill="#1c561a"/>
<rect x="886.00" y="54.00" width="8.60" height="8.60" fill="#0c2a0c"/>
<rect x="894.00" y="54.00" width="8.60" height="8.60" fill="#1c561a"/>
<rect x="902.00" y="54.00" width="8.60" height="8.60" fill="#1c561a"/>
<rect x="862.00" y="62.00" width="8.60" height="8.60" fill="#0c2a0c"/>
<rect x="870.00" y="62.00" width="8.60" height="8.60" fill="#1c561a"/>
<rect x="878.00" y="62.00" width="8.60" height="8.60" fill="#2e8a28"/>
<rect x="886.00" y="62.00" width="8.60" height="8.60" fill="#1c561a"/>
<rect x="894.00" y="62.00" width="8.60" height="8.60" fill="#1c561a"/>
<rect x="902.00" y="62.00" width="8.60" height="8.60" fill="#1c561a"/>
<rect x="854.00" y="70.00" width="8.60" height="8.60" fill="#0c2a0c"/>
<rect x="862.00" y="70.00" width="8.60" height="8.60" fill="#1c561a"/>
<rect x="870.00" y="70.00" width="8.60" height="8.60" fill="#1c561a"/>
<rect x="878.00" y="70.00" width="8.60" height="8.60" fill="#1c561a"/>
<rect x="886.00" y="70.00" width="8.60" height="8.60" fill="#1c561a"/>
<rect x="894.00" y="70.00" width="8.60" height="8.60" fill="#1c561a"/>
<rect x="902.00" y="70.00" width="8.60" height="8.60" fill="#1c561a"/>
<rect x="910.00" y="70.00" width="8.60" height="8.60" fill="#0c2a0c"/>
<rect x="854.00" y="78.00" width="8.60" height="8.60" fill="#0c2a0c"/>
<rect x="862.00" y="78.00" width="8.60" height="8.60" fill="#1c561a"/>
<rect x="870.00" y="78.00" width="8.60" height="8.60" fill="#1c561a"/>
<rect x="878.00" y="78.00" width="8.60" height="8.60" fill="#0c2a0c"/>
<rect x="886.00" y="78.00" width="8.60" height="8.60" fill="#1c561a"/>
<rect x="894.00" y="78.00" width="8.60" height="8.60" fill="#1c561a"/>
<rect x="902.00" y="78.00" width="8.60" height="8.60" fill="#1c561a"/>
<rect x="910.00" y="78.00" width="8.60" height="8.60" fill="#0c2a0c"/>
<rect x="846.00" y="86.00" width="8.60" height="8.60" fill="#0c2a0c"/>
<rect x="854.00" y="86.00" width="8.60" height="8.60" fill="#0c2a0c"/>
<rect x="862.00" y="86.00" width="8.60" height="8.60" fill="#1c561a"/>
<rect x="870.00" y="86.00" width="8.60" height="8.60" fill="#1c561a"/>
<rect x="878.00" y="86.00" width="8.60" height="8.60" fill="#1c561a"/>
<rect x="886.00" y="86.00" width="8.60" height="8.60" fill="#0c2a0c"/>
<rect x="894.00" y="86.00" width="8.60" height="8.60" fill="#1c561a"/>
<rect x="902.00" y="86.00" width="8.60" height="8.60" fill="#2e8a28"/>
<rect x="910.00" y="86.00" width="8.60" height="8.60" fill="#1c561a"/>
<rect x="838.00" y="94.00" width="8.60" height="8.60" fill="#0c2a0c"/>
<rect x="846.00" y="94.00" width="8.60" height="8.60" fill="#0c2a0c"/>
<rect x="854.00" y="94.00" width="8.60" height="8.60" fill="#1c561a"/>
<rect x="862.00" y="94.00" width="8.60" height="8.60" fill="#1c561a"/>
<rect x="870.00" y="94.00" width="8.60" height="8.60" fill="#1c561a"/>
<rect x="878.00" y="94.00" width="8.60" height="8.60" fill="#1c561a"/>
<rect x="886.00" y="94.00" width="8.60" height="8.60" fill="#1c561a"/>
<rect x="894.00" y="94.00" width="8.60" height="8.60" fill="#1c561a"/>
<rect x="902.00" y="94.00" width="8.60" height="8.60" fill="#2e8a28"/>
<rect x="910.00" y="94.00" width="8.60" height="8.60" fill="#1c561a"/>
<rect x="830.00" y="102.00" width="8.60" height="8.60" fill="#0c2a0c"/>
<rect x="838.00" y="102.00" width="8.60" height="8.60" fill="#1c561a"/>
<rect x="846.00" y="102.00" width="8.60" height="8.60" fill="#1c561a"/>
<rect x="854.00" y="102.00" width="8.60" height="8.60" fill="#2e8a28"/>
<rect x="862.00" y="102.00" width="8.60" height="8.60" fill="#2e8a28"/>
<rect x="870.00" y="102.00" width="8.60" height="8.60" fill="#1c561a"/>
<rect x="878.00" y="102.00" width="8.60" height="8.60" fill="#1c561a"/>
<rect x="886.00" y="102.00" width="8.60" height="8.60" fill="#1c561a"/>
<rect x="894.00" y="102.00" width="8.60" height="8.60" fill="#2e8a28"/>
<rect x="902.00" y="102.00" width="8.60" height="8.60" fill="#2e8a28"/>
<rect x="910.00" y="102.00" width="8.60" height="8.60" fill="#1c561a"/>
<rect x="918.00" y="102.00" width="8.60" height="8.60" fill="#0c2a0c"/>
<rect x="830.00" y="110.00" width="8.60" height="8.60" fill="#1c561a"/>
<rect x="838.00" y="110.00" width="8.60" height="8.60" fill="#2e8a28"/>
<rect x="846.00" y="110.00" width="8.60" height="8.60" fill="#44b034"/>
<rect x="854.00" y="110.00" width="8.60" height="8.60" fill="#44b034"/>
<rect x="862.00" y="110.00" width="8.60" height="8.60" fill="#2e8a28"/>
<rect x="870.00" y="110.00" width="8.60" height="8.60" fill="#2e8a28"/>
<rect x="878.00" y="110.00" width="8.60" height="8.60" fill="#2e8a28"/>
<rect x="886.00" y="110.00" width="8.60" height="8.60" fill="#2e8a28"/>
<rect x="894.00" y="110.00" width="8.60" height="8.60" fill="#2e8a28"/>
<rect x="902.00" y="110.00" width="8.60" height="8.60" fill="#44b034"/>
<rect x="910.00" y="110.00" width="8.60" height="8.60" fill="#2e8a28"/>
<rect x="918.00" y="110.00" width="8.60" height="8.60" fill="#0c2a0c"/>
<rect x="830.00" y="118.00" width="8.60" height="8.60" fill="#2e8a28"/>
<rect x="838.00" y="118.00" width="8.60" height="8.60" fill="#44b034"/>
<rect x="846.00" y="118.00" width="8.60" height="8.60" fill="#44b034"/>
<rect x="854.00" y="118.00" width="8.60" height="8.60" fill="#44b034"/>
<rect x="862.00" y="118.00" width="8.60" height="8.60" fill="#44b034"/>
<rect x="870.00" y="118.00" width="8.60" height="8.60" fill="#44b034"/>
<rect x="878.00" y="118.00" width="8.60" height="8.60" fill="#44b034"/>
<rect x="886.00" y="118.00" width="8.60" height="8.60" fill="#44b034"/>
<rect x="894.00" y="118.00" width="8.60" height="8.60" fill="#44b034"/>
<rect x="902.00" y="118.00" width="8.60" height="8.60" fill="#44b034"/>
<rect x="910.00" y="118.00" width="8.60" height="8.60" fill="#2e8a28"/>
<rect x="918.00" y="118.00" width="8.60" height="8.60" fill="#0c2a0c"/>
<rect x="830.00" y="126.00" width="8.60" height="8.60" fill="#2e8a28"/>
<rect x="838.00" y="126.00" width="8.60" height="8.60" fill="#2050d0"/>
<rect x="846.00" y="126.00" width="8.60" height="8.60" fill="#2050d0"/>
<rect x="854.00" y="126.00" width="8.60" height="8.60" fill="#44b034"/>
<rect x="862.00" y="126.00" width="8.60" height="8.60" fill="#44b034"/>
<rect x="870.00" y="126.00" width="8.60" height="8.60" fill="#44b034"/>
<rect x="878.00" y="126.00" width="8.60" height="8.60" fill="#44b034"/>
<rect x="886.00" y="126.00" width="8.60" height="8.60" fill="#44b034"/>
<rect x="894.00" y="126.00" width="8.60" height="8.60" fill="#44b034"/>
<rect x="902.00" y="126.00" width="8.60" height="8.60" fill="#44b034"/>
<rect x="910.00" y="126.00" width="8.60" height="8.60" fill="#2e8a28"/>
<rect x="918.00" y="126.00" width="8.60" height="8.60" fill="#0c2a0c"/>
<rect x="798.00" y="134.00" width="8.60" height="8.60" fill="#061306"/>
<rect x="822.00" y="134.00" width="8.60" height="8.60" fill="#1c561a"/>
<rect x="830.00" y="134.00" width="8.60" height="8.60" fill="#2e8a28"/>
<rect x="838.00" y="134.00" width="8.60" height="8.60" fill="#2050d0"/>
<rect x="846.00" y="134.00" width="8.60" height="8.60" fill="#2050d0"/>
<rect x="854.00" y="134.00" width="8.60" height="8.60" fill="#2050d0"/>
<rect x="862.00" y="134.00" width="8.60" height="8.60" fill="#44b034"/>
<rect x="870.00" y="134.00" width="8.60" height="8.60" fill="#44b034"/>
<rect x="878.00" y="134.00" width="8.60" height="8.60" fill="#44b034"/>
<rect x="886.00" y="134.00" width="8.60" height="8.60" fill="#44b034"/>
<rect x="894.00" y="134.00" width="8.60" height="8.60" fill="#44b034"/>
<rect x="902.00" y="134.00" width="8.60" height="8.60" fill="#2e8a28"/>
<rect x="910.00" y="134.00" width="8.60" height="8.60" fill="#0c2a0c"/>
<rect x="782.00" y="142.00" width="8.60" height="8.60" fill="#061306"/>
<rect x="790.00" y="142.00" width="8.60" height="8.60" fill="#061306"/>
<rect x="814.00" y="142.00" width="8.60" height="8.60" fill="#0c2a0c"/>
<rect x="822.00" y="142.00" width="8.60" height="8.60" fill="#2e8a28"/>
<rect x="830.00" y="142.00" width="8.60" height="8.60" fill="#44b034"/>
<rect x="838.00" y="142.00" width="8.60" height="8.60" fill="#44b034"/>
<rect x="846.00" y="142.00" width="8.60" height="8.60" fill="#2050d0"/>
<rect x="854.00" y="142.00" width="8.60" height="8.60" fill="#2050d0"/>
<rect x="862.00" y="142.00" width="8.60" height="8.60" fill="#2050d0"/>
<rect x="870.00" y="142.00" width="8.60" height="8.60" fill="#2050d0"/>
<rect x="878.00" y="142.00" width="8.60" height="8.60" fill="#44b034"/>
<rect x="886.00" y="142.00" width="8.60" height="8.60" fill="#44b034"/>
<rect x="894.00" y="142.00" width="8.60" height="8.60" fill="#2e8a28"/>
<rect x="902.00" y="142.00" width="8.60" height="8.60" fill="#0c2a0c"/>
<rect x="790.00" y="150.00" width="8.60" height="8.60" fill="#061306"/>
<rect x="798.00" y="150.00" width="8.60" height="8.60" fill="#061306"/>
<rect x="806.00" y="150.00" width="8.60" height="8.60" fill="#061306"/>
<rect x="814.00" y="150.00" width="8.60" height="8.60" fill="#0c2a0c"/>
<rect x="822.00" y="150.00" width="8.60" height="8.60" fill="#1c561a"/>
<rect x="830.00" y="150.00" width="8.60" height="8.60" fill="#2e8a28"/>
<rect x="838.00" y="150.00" width="8.60" height="8.60" fill="#44b034"/>
<rect x="846.00" y="150.00" width="8.60" height="8.60" fill="#44b034"/>
<rect x="854.00" y="150.00" width="8.60" height="8.60" fill="#44b034"/>
<rect x="862.00" y="150.00" width="8.60" height="8.60" fill="#2050d0"/>
<rect x="870.00" y="150.00" width="8.60" height="8.60" fill="#d040d0"/>
<rect x="878.00" y="150.00" width="8.60" height="8.60" fill="#d040d0"/>
<rect x="886.00" y="150.00" width="8.60" height="8.60" fill="#2050d0"/>
<rect x="894.00" y="150.00" width="8.60" height="8.60" fill="#44b034"/>
<rect x="902.00" y="150.00" width="8.60" height="8.60" fill="#2e8a28"/>
<rect x="910.00" y="150.00" width="8.60" height="8.60" fill="#0c2a0c"/>
<rect x="782.00" y="158.00" width="8.60" height="8.60" fill="#061306"/>
<rect x="790.00" y="158.00" width="8.60" height="8.60" fill="#061306"/>
<rect x="798.00" y="158.00" width="8.60" height="8.60" fill="#061306"/>
<rect x="806.00" y="158.00" width="8.60" height="8.60" fill="#061306"/>
<rect x="814.00" y="158.00" width="8.60" height="8.60" fill="#0c2a0c"/>
<rect x="822.00" y="158.00" width="8.60" height="8.60" fill="#1c561a"/>
<rect x="830.00" y="158.00" width="8.60" height="8.60" fill="#2e8a28"/>
<rect x="838.00" y="158.00" width="8.60" height="8.60" fill="#44b034"/>
<rect x="846.00" y="158.00" width="8.60" height="8.60" fill="#44b034"/>
<rect x="854.00" y="158.00" width="8.60" height="8.60" fill="#44b034"/>
<rect x="862.00" y="158.00" width="8.60" height="8.60" fill="#2050d0"/>
<rect x="870.00" y="158.00" width="8.60" height="8.60" fill="#d040d0"/>
<rect x="878.00" y="158.00" width="8.60" height="8.60" fill="#d040d0"/>
<rect x="886.00" y="158.00" width="8.60" height="8.60" fill="#2050d0"/>
<rect x="894.00" y="158.00" width="8.60" height="8.60" fill="#44b034"/>
<rect x="902.00" y="158.00" width="8.60" height="8.60" fill="#2e8a28"/>
<rect x="910.00" y="158.00" width="8.60" height="8.60" fill="#0c2a0c"/>
<rect x="790.00" y="166.00" width="8.60" height="8.60" fill="#061306"/>
<rect x="798.00" y="166.00" width="8.60" height="8.60" fill="#061306"/>
<rect x="806.00" y="166.00" width="8.60" height="8.60" fill="#061306"/>
<rect x="814.00" y="166.00" width="8.60" height="8.60" fill="#0c2a0c"/>
<rect x="822.00" y="166.00" width="8.60" height="8.60" fill="#1c561a"/>
<rect x="830.00" y="166.00" width="8.60" height="8.60" fill="#2e8a28"/>
<rect x="838.00" y="166.00" width="8.60" height="8.60" fill="#44b034"/>
<rect x="846.00" y="166.00" width="8.60" height="8.60" fill="#44b034"/>
<rect x="854.00" y="166.00" width="8.60" height="8.60" fill="#2050d0"/>
<rect x="862.00" y="166.00" width="8.60" height="8.60" fill="#d040d0"/>
<rect x="870.00" y="166.00" width="8.60" height="8.60" fill="#ffc8ff"/>
<rect x="878.00" y="166.00" width="8.60" height="8.60" fill="#d040d0"/>
<rect x="886.00" y="166.00" width="8.60" height="8.60" fill="#2050d0"/>
<rect x="894.00" y="166.00" width="8.60" height="8.60" fill="#2e8a28"/>
<rect x="902.00" y="166.00" width="8.60" height="8.60" fill="#1c561a"/>
<rect x="782.00" y="174.00" width="8.60" height="8.60" fill="#061306"/>
<rect x="790.00" y="174.00" width="8.60" height="8.60" fill="#061306"/>
<rect x="798.00" y="174.00" width="8.60" height="8.60" fill="#061306"/>
<rect x="806.00" y="174.00" width="8.60" height="8.60" fill="#061306"/>
<rect x="814.00" y="174.00" width="8.60" height="8.60" fill="#0c2a0c"/>
<rect x="822.00" y="174.00" width="8.60" height="8.60" fill="#1c561a"/>
<rect x="830.00" y="174.00" width="8.60" height="8.60" fill="#2e8a28"/>
<rect x="838.00" y="174.00" width="8.60" height="8.60" fill="#44b034"/>
<rect x="846.00" y="174.00" width="8.60" height="8.60" fill="#2050d0"/>
<rect x="854.00" y="174.00" width="8.60" height="8.60" fill="#d040d0"/>
<rect x="862.00" y="174.00" width="8.60" height="8.60" fill="#e880e8"/>
<rect x="870.00" y="174.00" width="8.60" height="8.60" fill="#2050d0"/>
<rect x="878.00" y="174.00" width="8.60" height="8.60" fill="#44b034"/>
<rect x="886.00" y="174.00" width="8.60" height="8.60" fill="#2e8a28"/>
<rect x="894.00" y="174.00" width="8.60" height="8.60" fill="#1c561a"/>
<rect x="902.00" y="174.00" width="8.60" height="8.60" fill="#0c2a0c"/>
<rect x="790.00" y="182.00" width="8.60" height="8.60" fill="#061306"/>
<rect x="798.00" y="182.00" width="8.60" height="8.60" fill="#061306"/>
<rect x="806.00" y="182.00" width="8.60" height="8.60" fill="#061306"/>
<rect x="814.00" y="182.00" width="8.60" height="8.60" fill="#0c2a0c"/>
<rect x="822.00" y="182.00" width="8.60" height="8.60" fill="#1c561a"/>
<rect x="830.00" y="182.00" width="8.60" height="8.60" fill="#2e8a28"/>
<rect x="838.00" y="182.00" width="8.60" height="8.60" fill="#44b034"/>
<rect x="846.00" y="182.00" width="8.60" height="8.60" fill="#44b034"/>
<rect x="854.00" y="182.00" width="8.60" height="8.60" fill="#44b034"/>
<rect x="862.00" y="182.00" width="8.60" height="8.60" fill="#44b034"/>
<rect x="870.00" y="182.00" width="8.60" height="8.60" fill="#2e8a28"/>
<rect x="878.00" y="182.00" width="8.60" height="8.60" fill="#2e8a28"/>
<rect x="886.00" y="182.00" width="8.60" height="8.60" fill="#1c561a"/>
<rect x="894.00" y="182.00" width="8.60" height="8.60" fill="#0c2a0c"/>
<rect x="782.00" y="190.00" width="8.60" height="8.60" fill="#061306"/>
<rect x="790.00" y="190.00" width="8.60" height="8.60" fill="#061306"/>
<rect x="798.00" y="190.00" width="8.60" height="8.60" fill="#061306"/>
<rect x="806.00" y="190.00" width="8.60" height="8.60" fill="#061306"/>
<rect x="814.00" y="190.00" width="8.60" height="8.60" fill="#0c2a0c"/>
<rect x="822.00" y="190.00" width="8.60" height="8.60" fill="#1c561a"/>
<rect x="830.00" y="190.00" width="8.60" height="8.60" fill="#2e8a28"/>
<rect x="838.00" y="190.00" width="8.60" height="8.60" fill="#44b034"/>
<rect x="846.00" y="190.00" width="8.60" height="8.60" fill="#2e8a28"/>
<rect x="854.00" y="190.00" width="8.60" height="8.60" fill="#2e8a28"/>
<rect x="862.00" y="190.00" width="8.60" height="8.60" fill="#1c561a"/>
<rect x="870.00" y="190.00" width="8.60" height="8.60" fill="#1c561a"/>
<rect x="878.00" y="190.00" width="8.60" height="8.60" fill="#0c2a0c"/>
<rect x="790.00" y="198.00" width="8.60" height="8.60" fill="#061306"/>
<rect x="798.00" y="198.00" width="8.60" height="8.60" fill="#061306"/>
<rect x="806.00" y="198.00" width="8.60" height="8.60" fill="#061306"/>
<rect x="814.00" y="198.00" width="8.60" height="8.60" fill="#0c2a0c"/>
<rect x="822.00" y="198.00" width="8.60" height="8.60" fill="#1c561a"/>
<rect x="830.00" y="198.00" width="8.60" height="8.60" fill="#2e8a28"/>
<rect x="838.00" y="198.00" width="8.60" height="8.60" fill="#1c561a"/>
<rect x="846.00" y="198.00" width="8.60" height="8.60" fill="#1c561a"/>
<rect x="854.00" y="198.00" width="8.60" height="8.60" fill="#0c2a0c"/>
<rect x="862.00" y="198.00" width="8.60" height="8.60" fill="#0c2a0c"/>
<rect x="798.00" y="206.00" width="8.60" height="8.60" fill="#061306"/>
<rect x="806.00" y="206.00" width="8.60" height="8.60" fill="#061306"/>
<rect x="814.00" y="206.00" width="8.60" height="8.60" fill="#0c2a0c"/>
<rect x="822.00" y="206.00" width="8.60" height="8.60" fill="#0c2a0c"/>
<rect x="830.00" y="206.00" width="8.60" height="8.60" fill="#1c561a"/>
<rect x="838.00" y="206.00" width="8.60" height="8.60" fill="#0c2a0c"/>
<rect x="846.00" y="206.00" width="8.60" height="8.60" fill="#0c2a0c"/>
<rect x="814.00" y="214.00" width="8.60" height="8.60" fill="#061306"/>
<rect x="822.00" y="214.00" width="8.60" height="8.60" fill="#0c2a0c"/>
<rect x="830.00" y="214.00" width="8.60" height="8.60" fill="#0c2a0c"/>
<rect x="814.00" y="222.00" width="8.60" height="8.60" fill="#061306"/>
</g>
<g filter="url(#hb)" opacity="0.85">
<rect x="871.60" y="167.60" width="4.80" height="4.80" fill="#ffc8ff"/>
<rect x="863.60" y="175.60" width="4.80" height="4.80" fill="#e880e8"/>
</g></g>
<g clip-path="url(#c5)"><g filter="url(#b5)">
<rect x="410.00" y="340.00" width="10.60" height="10.60" fill="#0c2a0c"/>
<rect x="420.00" y="340.00" width="10.60" height="10.60" fill="#0c2a0c"/>
<rect x="430.00" y="340.00" width="10.60" height="10.60" fill="#0c2a0c"/>
<rect x="400.00" y="350.00" width="10.60" height="10.60" fill="#0c2a0c"/>
<rect x="410.00" y="350.00" width="10.60" height="10.60" fill="#1c561a"/>
<rect x="420.00" y="350.00" width="10.60" height="10.60" fill="#1c561a"/>
<rect x="430.00" y="350.00" width="10.60" height="10.60" fill="#1c561a"/>
<rect x="440.00" y="350.00" width="10.60" height="10.60" fill="#0c2a0c"/>
<rect x="400.00" y="360.00" width="10.60" height="10.60" fill="#0c2a0c"/>
<rect x="410.00" y="360.00" width="10.60" height="10.60" fill="#1c561a"/>
<rect x="420.00" y="360.00" width="10.60" height="10.60" fill="#2e8a28"/>
<rect x="430.00" y="360.00" width="10.60" height="10.60" fill="#1c561a"/>
<rect x="440.00" y="360.00" width="10.60" height="10.60" fill="#1c561a"/>
<rect x="450.00" y="360.00" width="10.60" height="10.60" fill="#1c561a"/>
<rect x="460.00" y="360.00" width="10.60" height="10.60" fill="#0c2a0c"/>
<rect x="410.00" y="370.00" width="10.60" height="10.60" fill="#0c2a0c"/>
<rect x="420.00" y="370.00" width="10.60" height="10.60" fill="#1c561a"/>
<rect x="430.00" y="370.00" width="10.60" height="10.60" fill="#1c561a"/>
<rect x="440.00" y="370.00" width="10.60" height="10.60" fill="#1c561a"/>
<rect x="450.00" y="370.00" width="10.60" height="10.60" fill="#1c561a"/>
<rect x="460.00" y="370.00" width="10.60" height="10.60" fill="#1c561a"/>
<rect x="470.00" y="370.00" width="10.60" height="10.60" fill="#0c2a0c"/>
<rect x="440.00" y="380.00" width="10.60" height="10.60" fill="#0c2a0c"/>
<rect x="450.00" y="380.00" width="10.60" height="10.60" fill="#1c561a"/>
<rect x="460.00" y="380.00" width="10.60" height="10.60" fill="#1c561a"/>
<rect x="470.00" y="380.00" width="10.60" height="10.60" fill="#1c561a"/>
<rect x="480.00" y="380.00" width="10.60" height="10.60" fill="#1c561a"/>
<rect x="490.00" y="380.00" width="10.60" height="10.60" fill="#0c2a0c"/>
<rect x="670.00" y="380.00" width="10.60" height="10.60" fill="#0c2a0c"/>
<rect x="680.00" y="380.00" width="10.60" height="10.60" fill="#0c2a0c"/>
<rect x="460.00" y="390.00" width="10.60" height="10.60" fill="#0c2a0c"/>
<rect x="470.00" y="390.00" width="10.60" height="10.60" fill="#0c2a0c"/>
<rect x="480.00" y="390.00" width="10.60" height="10.60" fill="#1c561a"/>
<rect x="490.00" y="390.00" width="10.60" height="10.60" fill="#1c561a"/>
<rect x="500.00" y="390.00" width="10.60" height="10.60" fill="#1c561a"/>
<rect x="510.00" y="390.00" width="10.60" height="10.60" fill="#1c561a"/>
<rect x="520.00" y="390.00" width="10.60" height="10.60" fill="#1c561a"/>
<rect x="530.00" y="390.00" width="10.60" height="10.60" fill="#0c2a0c"/>
<rect x="660.00" y="390.00" width="10.60" height="10.60" fill="#0c2a0c"/>
<rect x="470.00" y="400.00" width="10.60" height="10.60" fill="#0c2a0c"/>
<rect x="480.00" y="400.00" width="10.60" height="10.60" fill="#0c2a0c"/>
<rect x="490.00" y="400.00" width="10.60" height="10.60" fill="#1c561a"/>
<rect x="500.00" y="400.00" width="10.60" height="10.60" fill="#1c561a"/>
<rect x="510.00" y="400.00" width="10.60" height="10.60" fill="#2e8a28"/>
<rect x="520.00" y="400.00" width="10.60" height="10.60" fill="#2e8a28"/>
<rect x="530.00" y="400.00" width="10.60" height="10.60" fill="#2e8a28"/>
<rect x="540.00" y="400.00" width="10.60" height="10.60" fill="#1c561a"/>
<rect x="640.00" y="400.00" width="10.60" height="10.60" fill="#1c561a"/>
<rect x="650.00" y="400.00" width="10.60" height="10.60" fill="#0c2a0c"/>
<rect x="470.00" y="410.00" width="10.60" height="10.60" fill="#0c2a0c"/>
<rect x="480.00" y="410.00" width="10.60" height="10.60" fill="#0c2a0c"/>
<rect x="490.00" y="410.00" width="10.60" height="10.60" fill="#1c561a"/>
<rect x="500.00" y="410.00" width="10.60" height="10.60" fill="#1c561a"/>
<rect x="510.00" y="410.00" width="10.60" height="10.60" fill="#2e8a28"/>
<rect x="520.00" y="410.00" width="10.60" height="10.60" fill="#44b034"/>
<rect x="530.00" y="410.00" width="10.60" height="10.60" fill="#44b034"/>
<rect x="540.00" y="410.00" width="10.60" height="10.60" fill="#44b034"/>
<rect x="630.00" y="410.00" width="10.60" height="10.60" fill="#2e8a28"/>
<rect x="640.00" y="410.00" width="10.60" height="10.60" fill="#2e8a28"/>
<rect x="450.00" y="420.00" width="10.60" height="10.60" fill="#0c2a0c"/>
<rect x="460.00" y="420.00" width="10.60" height="10.60" fill="#0c2a0c"/>
<rect x="480.00" y="420.00" width="10.60" height="10.60" fill="#0c2a0c"/>
<rect x="490.00" y="420.00" width="10.60" height="10.60" fill="#0c2a0c"/>
<rect x="500.00" y="420.00" width="10.60" height="10.60" fill="#1c561a"/>
<rect x="510.00" y="420.00" width="10.60" height="10.60" fill="#2e8a28"/>
<rect x="520.00" y="420.00" width="10.60" height="10.60" fill="#2e8a28"/>
<rect x="530.00" y="420.00" width="10.60" height="10.60" fill="#44b034"/>
<rect x="540.00" y="420.00" width="10.60" height="10.60" fill="#44b034"/>
<rect x="550.00" y="420.00" width="10.60" height="10.60" fill="#1c561a"/>
<rect x="560.00" y="420.00" width="10.60" height="10.60" fill="#0c2a0c"/>
<rect x="570.00" y="420.00" width="10.60" height="10.60" fill="#0c2a0c"/>
<rect x="610.00" y="420.00" width="10.60" height="10.60" fill="#0c2a0c"/>
<rect x="620.00" y="420.00" width="10.60" height="10.60" fill="#2e8a28"/>
<rect x="630.00" y="420.00" width="10.60" height="10.60" fill="#44b034"/>
<rect x="450.00" y="430.00" width="10.60" height="10.60" fill="#0c2a0c"/>
<rect x="460.00" y="430.00" width="10.60" height="10.60" fill="#1c561a"/>
<rect x="470.00" y="430.00" width="10.60" height="10.60" fill="#0c2a0c"/>
<rect x="480.00" y="430.00" width="10.60" height="10.60" fill="#0c2a0c"/>
<rect x="490.00" y="430.00" width="10.60" height="10.60" fill="#1c561a"/>
<rect x="500.00" y="430.00" width="10.60" height="10.60" fill="#1c561a"/>
<rect x="510.00" y="430.00" width="10.60" height="10.60" fill="#1c561a"/>
<rect x="520.00" y="430.00" width="10.60" height="10.60" fill="#2e8a28"/>
<rect x="530.00" y="430.00" width="10.60" height="10.60" fill="#44b034"/>
<rect x="540.00" y="430.00" width="10.60" height="10.60" fill="#44b034"/>
<rect x="550.00" y="430.00" width="10.60" height="10.60" fill="#2050d0"/>
<rect x="560.00" y="430.00" width="10.60" height="10.60" fill="#44b034"/>
<rect x="570.00" y="430.00" width="10.60" height="10.60" fill="#44b034"/>
<rect x="580.00" y="430.00" width="10.60" height="10.60" fill="#44b034"/>
<rect x="590.00" y="430.00" width="10.60" height="10.60" fill="#44b034"/>
<rect x="600.00" y="430.00" width="10.60" height="10.60" fill="#44b034"/>
<rect x="610.00" y="430.00" width="10.60" height="10.60" fill="#44b034"/>
<rect x="620.00" y="430.00" width="10.60" height="10.60" fill="#44b034"/>
<rect x="630.00" y="430.00" width="10.60" height="10.60" fill="#2e8a28"/>
<rect x="480.00" y="440.00" width="10.60" height="10.60" fill="#0c2a0c"/>
<rect x="490.00" y="440.00" width="10.60" height="10.60" fill="#0c2a0c"/>
<rect x="500.00" y="440.00" width="10.60" height="10.60" fill="#1c561a"/>
<rect x="510.00" y="440.00" width="10.60" height="10.60" fill="#2e8a28"/>
<rect x="520.00" y="440.00" width="10.60" height="10.60" fill="#44b034"/>
<rect x="530.00" y="440.00" width="10.60" height="10.60" fill="#2e8a28"/>
<rect x="540.00" y="440.00" width="10.60" height="10.60" fill="#2050d0"/>
<rect x="550.00" y="440.00" width="10.60" height="10.60" fill="#ffc8ff"/>
<rect x="560.00" y="440.00" width="10.60" height="10.60" fill="#2f78a0"/>
<rect x="570.00" y="440.00" width="10.60" height="10.60" fill="#2f78a0"/>
<rect x="580.00" y="440.00" width="10.60" height="10.60" fill="#2f78a0"/>
<rect x="590.00" y="440.00" width="10.60" height="10.60" fill="#44b034"/>
<rect x="600.00" y="440.00" width="10.60" height="10.60" fill="#44b034"/>
<rect x="610.00" y="440.00" width="10.60" height="10.60" fill="#2f78a0"/>
<rect x="620.00" y="440.00" width="10.60" height="10.60" fill="#2f78a0"/>
<rect x="630.00" y="440.00" width="10.60" height="10.60" fill="#1c561a"/>
<rect x="490.00" y="450.00" width="10.60" height="10.60" fill="#0c2a0c"/>
<rect x="500.00" y="450.00" width="10.60" height="10.60" fill="#1c561a"/>
<rect x="510.00" y="450.00" width="10.60" height="10.60" fill="#44b034"/>
<rect x="520.00" y="450.00" width="10.60" height="10.60" fill="#44b034"/>
<rect x="530.00" y="450.00" width="10.60" height="10.60" fill="#2e8a28"/>
<rect x="540.00" y="450.00" width="10.60" height="10.60" fill="#2050d0"/>
<rect x="550.00" y="450.00" width="10.60" height="10.60" fill="#d040d0"/>
<rect x="560.00" y="450.00" width="10.60" height="10.60" fill="#2050d0"/>
<rect x="570.00" y="450.00" width="10.60" height="10.60" fill="#44b034"/>
<rect x="580.00" y="450.00" width="10.60" height="10.60" fill="#44b034"/>
<rect x="590.00" y="450.00" width="10.60" height="10.60" fill="#44b034"/>
<rect x="600.00" y="450.00" width="10.60" height="10.60" fill="#2e8a28"/>
<rect x="610.00" y="450.00" width="10.60" height="10.60" fill="#1c561a"/>
<rect x="500.00" y="460.00" width="10.60" height="10.60" fill="#0c2a0c"/>
<rect x="510.00" y="460.00" width="10.60" height="10.60" fill="#2e8a28"/>
<rect x="520.00" y="460.00" width="10.60" height="10.60" fill="#2e8a28"/>
<rect x="530.00" y="460.00" width="10.60" height="10.60" fill="#1c561a"/>
<rect x="540.00" y="460.00" width="10.60" height="10.60" fill="#2e8a28"/>
<rect x="550.00" y="460.00" width="10.60" height="10.60" fill="#2050d0"/>
<rect x="560.00" y="460.00" width="10.60" height="10.60" fill="#2050d0"/>
<rect x="570.00" y="460.00" width="10.60" height="10.60" fill="#44b034"/>
<rect x="580.00" y="460.00" width="10.60" height="10.60" fill="#44b034"/>
<rect x="590.00" y="460.00" width="10.60" height="10.60" fill="#2e8a28"/>
<rect x="600.00" y="460.00" width="10.60" height="10.60" fill="#0c2a0c"/>
<rect x="510.00" y="470.00" width="10.60" height="10.60" fill="#0c2a0c"/>
<rect x="520.00" y="470.00" width="10.60" height="10.60" fill="#0c2a0c"/>
<rect x="530.00" y="470.00" width="10.60" height="10.60" fill="#1c561a"/>
<rect x="540.00" y="470.00" width="10.60" height="10.60" fill="#1c561a"/>
<rect x="550.00" y="470.00" width="10.60" height="10.60" fill="#44b034"/>
<rect x="560.00" y="470.00" width="10.60" height="10.60" fill="#2050d0"/>
<rect x="570.00" y="470.00" width="10.60" height="10.60" fill="#44b034"/>
<rect x="580.00" y="470.00" width="10.60" height="10.60" fill="#2e8a28"/>
<rect x="590.00" y="470.00" width="10.60" height="10.60" fill="#0c2a0c"/>
<rect x="530.00" y="480.00" width="10.60" height="10.60" fill="#0c2a0c"/>
<rect x="540.00" y="480.00" width="10.60" height="10.60" fill="#0c2a0c"/>
<rect x="550.00" y="480.00" width="10.60" height="10.60" fill="#44b034"/>
<rect x="560.00" y="480.00" width="10.60" height="10.60" fill="#d040d0"/>
<rect x="570.00" y="480.00" width="10.60" height="10.60" fill="#44b034"/>
<rect x="580.00" y="480.00" width="10.60" height="10.60" fill="#1c561a"/>
<rect x="540.00" y="490.00" width="10.60" height="10.60" fill="#0c2a0c"/>
<rect x="550.00" y="490.00" width="10.60" height="10.60" fill="#1c561a"/>
<rect x="560.00" y="490.00" width="10.60" height="10.60" fill="#1c561a"/>
<rect x="570.00" y="490.00" width="10.60" height="10.60" fill="#1c561a"/>
<rect x="580.00" y="490.00" width="10.60" height="10.60" fill="#0c2a0c"/>
</g>
<g filter="url(#hb)" opacity="0.85">
<rect x="552.00" y="442.00" width="6.00" height="6.00" fill="#ffc8ff"/>
</g></g>
<g clip-path="url(#c6)"><g filter="url(#hb)" fill="#12300e" opacity="0.7">
<ellipse cx="774" cy="326" rx="4.5" ry="6"/>
<ellipse cx="764" cy="339" rx="6" ry="3"/>
<ellipse cx="755" cy="349" rx="3" ry="5"/>
<ellipse cx="772" cy="355" rx="5" ry="3"/>
<ellipse cx="787" cy="350" rx="4" ry="5"/>
<ellipse cx="806" cy="330" rx="3" ry="4"/>
<ellipse cx="822" cy="394" rx="4" ry="3"/>
<ellipse cx="749" cy="376" rx="2" ry="2"/>
<ellipse cx="779" cy="386" rx="2" ry="2"/>
<ellipse cx="918" cy="335" rx="4" ry="5"/>
<ellipse cx="932" cy="323" rx="4" ry="2"/>
<ellipse cx="938" cy="333" rx="2" ry="5"/>
<ellipse cx="962" cy="315" rx="3" ry="5"/>
<ellipse cx="981" cy="327" rx="6" ry="4"/>
<ellipse cx="993" cy="330" rx="5" ry="9"/>
<ellipse cx="986" cy="339" rx="3" ry="3"/>
<ellipse cx="974" cy="338" rx="2" ry="2"/>
<ellipse cx="772" cy="488" rx="6" ry="5"/>
<ellipse cx="803" cy="474" rx="6" ry="2"/>
</g></g>
<defs><filter id="h18" x="-50%" y="-50%" width="200%" height="200%"><feGaussianBlur stdDeviation="2"/></filter><filter id="h10" x="-50%" y="-50%" width="200%" height="200%"><feGaussianBlur stdDeviation="0.9"/></filter></defs>
<g clip-path="url(#c6)"><g filter="url(#h18)" fill="#d838d8">
<ellipse cx="891.5" cy="399" rx="6.5" ry="19" transform="rotate(-4 891.5 399)"/>
<path d="M855,428 C858,419 872,418 889,420 C893,426 890,435 880,438 C870,438 866,437 866,440 L867,455 C866,464 858,466 854,460 C851,450 852,438 855,428 Z"/>
</g><g filter="url(#h10)" fill="#f070ee">
<path d="M887,383 L895,381 L897,400 L895,416 L890,417 L886,400 Z"/>
<path d="M858,427 C862,422 875,421 886,423 C888,428 886,433 879,435 C872,435 866,435 865,440 L865,455 C864,460 859,461 857,457 C855,448 855,435 858,427 Z"/>
</g><g filter="url(#h10)" fill="#fff2ff">
<path d="M888.5,385 L894,384 L895,400 L893.5,411 L890,412 L888,400 Z"/>
<ellipse cx="878" cy="428" rx="5" ry="4.5"/><ellipse cx="869" cy="426" rx="3" ry="3"/>
<ellipse cx="861" cy="449" rx="3.5" ry="6"/>
</g></g>
<defs><filter id="sp" x="-50%" y="-50%" width="200%" height="200%"><feGaussianBlur stdDeviation="5"/></filter></defs>
<g clip-path="url(#c2)" filter="url(#sp)" fill="#05063c" opacity="0.75">
<ellipse cx="455" cy="80" rx="36" ry="40"/><ellipse cx="574" cy="104" rx="32" ry="34"/>
</g>
<defs><filter id="h2a" x="-50%" y="-50%" width="200%" height="200%"><feGaussianBlur stdDeviation="1.6"/></filter><filter id="h2b" x="-50%" y="-50%" width="200%" height="200%"><feGaussianBlur stdDeviation="0.8"/></filter></defs>
<g clip-path="url(#c2)"><g filter="url(#h2a)" fill="#c0281a">
<path d="M492,100 C497,95 509,95 516,97 L521,104 C513,107 503,106 494,105 Z"/>
<path d="M534,121 L545,121 L546,157 L535,158 Z"/>
<path d="M503,178 C506,172 518,174 530,179 C540,182 550,184 551,191 C550,199 538,201 530,196 C520,190 508,186 503,182 Z"/>
<path d="M562,190 C570,185 586,185 599,183 C605,182 609,184 607,187 C600,191 590,191 582,194 C575,196 566,197 562,194 Z"/>
</g><g filter="url(#h2b)" fill="#ee7a1c">
<ellipse cx="513" cy="104" rx="6" ry="5.5"/><ellipse cx="539.5" cy="131" rx="4.5" ry="10"/>
<ellipse cx="509" cy="177.5" rx="5" ry="3.5"/><ellipse cx="539" cy="189" rx="8.5" ry="7"/><ellipse cx="577" cy="190" rx="4" ry="2.6"/><ellipse cx="599" cy="185" rx="3" ry="2"/>
</g><g filter="url(#h2b)" fill="#fbe85a">
<ellipse cx="513" cy="104.5" rx="4" ry="4"/><ellipse cx="539.5" cy="130" rx="3" ry="8"/>
<ellipse cx="508" cy="177" rx="3" ry="2.2"/><ellipse cx="539" cy="189" rx="6" ry="5"/>
</g></g>
<defs><filter id="px1" x="-20%" y="-20%" width="140%" height="140%"><feGaussianBlur stdDeviation="0.9"/></filter></defs>
<g clip-path="url(#c1)"><g filter="url(#px1)">
<rect x="155.7" y="91.9" width="5.1" height="5.1" fill="#ee70ea"/>
<rect x="160.5" y="91.9" width="5.1" height="5.1" fill="#d840d8"/>
<rect x="150.9" y="96.7" width="5.1" height="5.1" fill="#ffe2ff"/>
<rect x="155.7" y="96.7" width="5.1" height="5.1" fill="#ffe2ff"/>
<rect x="160.5" y="96.7" width="5.1" height="5.1" fill="#ee70ea"/>
<rect x="150.9" y="101.5" width="5.1" height="5.1" fill="#ffe2ff"/>
<rect x="155.7" y="101.5" width="5.1" height="5.1" fill="#ffe2ff"/>
<rect x="160.5" y="101.5" width="5.1" height="5.1" fill="#ee70ea"/>
<rect x="150.9" y="106.3" width="5.1" height="5.1" fill="#b82cc4"/>
<rect x="155.7" y="106.3" width="5.1" height="5.1" fill="#d840d8"/>
<rect x="160.5" y="106.3" width="5.1" height="5.1" fill="#b82cc4"/>
<rect x="150.9" y="111.1" width="5.1" height="5.1" fill="#ee70ea"/>
<rect x="155.7" y="111.1" width="5.1" height="5.1" fill="#b82cc4"/>
<rect x="160.5" y="111.1" width="5.1" height="5.1" fill="#b82cc4"/>
<rect x="150.9" y="115.9" width="5.1" height="5.1" fill="#b82cc4"/>
<rect x="155.7" y="115.9" width="5.1" height="5.1" fill="#d840d8"/>
<rect x="160.5" y="115.9" width="5.1" height="5.1" fill="#d840d8"/>
<rect x="150.9" y="120.7" width="5.1" height="5.1" fill="#b82cc4"/>
<rect x="155.7" y="120.7" width="5.1" height="5.1" fill="#d840d8"/>
<rect x="160.5" y="120.7" width="5.1" height="5.1" fill="#ee70ea"/>
<rect x="150.9" y="125.5" width="5.1" height="5.1" fill="#b82cc4"/>
<rect x="155.7" y="125.5" width="5.1" height="5.1" fill="#ffe2ff"/>
<rect x="160.5" y="125.5" width="5.1" height="5.1" fill="#b82cc4"/>
<rect x="150.9" y="130.3" width="5.1" height="5.1" fill="#b82cc4"/>
<rect x="155.7" y="130.3" width="5.1" height="5.1" fill="#ffe2ff"/>
<rect x="160.5" y="130.3" width="5.1" height="5.1" fill="#b82cc4"/>
<rect x="194.1" y="91.9" width="5.1" height="5.1" fill="#d840d8"/>
<rect x="198.9" y="91.9" width="5.1" height="5.1" fill="#d840d8"/>
<rect x="203.7" y="91.9" width="5.1" height="5.1" fill="#b82cc4"/>
<rect x="194.1" y="96.7" width="5.1" height="5.1" fill="#d840d8"/>
<rect x="198.9" y="96.7" width="5.1" height="5.1" fill="#ffe2ff"/>
<rect x="203.7" y="96.7" width="5.1" height="5.1" fill="#ffe2ff"/>
<rect x="194.1" y="101.5" width="5.1" height="5.1" fill="#b82cc4"/>
<rect x="198.9" y="101.5" width="5.1" height="5.1" fill="#ee70ea"/>
<rect x="203.7" y="101.5" width="5.1" height="5.1" fill="#ee70ea"/>
<rect x="213.3" y="101.5" width="5.1" height="5.1" fill="#d840d8"/>
<rect x="218.1" y="101.5" width="5.1" height="5.1" fill="#b82cc4"/>
<rect x="213.3" y="106.3" width="5.1" height="5.1" fill="#b82cc4"/>
<rect x="218.1" y="106.3" width="5.1" height="5.1" fill="#b82cc4"/>
<rect x="222.9" y="106.3" width="5.1" height="5.1" fill="#b82cc4"/>
<rect x="213.3" y="111.1" width="5.1" height="5.1" fill="#b82cc4"/>
<rect x="218.1" y="111.1" width="5.1" height="5.1" fill="#b82cc4"/>
<rect x="222.9" y="111.1" width="5.1" height="5.1" fill="#b82cc4"/>
<rect x="227.7" y="111.1" width="5.1" height="5.1" fill="#b82cc4"/>
<rect x="218.1" y="115.9" width="5.1" height="5.1" fill="#d840d8"/>
<rect x="222.9" y="115.9" width="5.1" height="5.1" fill="#d840d8"/>
<rect x="227.7" y="115.9" width="5.1" height="5.1" fill="#b82cc4"/>
<rect x="232.5" y="115.9" width="5.1" height="5.1" fill="#ee70ea"/>
<rect x="222.9" y="120.7" width="5.1" height="5.1" fill="#ee70ea"/>
<rect x="227.7" y="120.7" width="5.1" height="5.1" fill="#ee70ea"/>
<rect x="232.5" y="120.7" width="5.1" height="5.1" fill="#ffe2ff"/>
<rect x="237.3" y="120.7" width="5.1" height="5.1" fill="#b82cc4"/>
<rect x="227.7" y="125.5" width="5.1" height="5.1" fill="#ee70ea"/>
<rect x="232.5" y="125.5" width="5.1" height="5.1" fill="#b82cc4"/>
<rect x="237.3" y="125.5" width="5.1" height="5.1" fill="#d840d8"/>
<rect x="232.5" y="130.3" width="5.1" height="5.1" fill="#d840d8"/>
<rect x="237.3" y="130.3" width="5.1" height="5.1" fill="#b82cc4"/>
<rect x="179.7" y="120.7" width="5.1" height="5.1" fill="#d840d8"/>
<rect x="184.5" y="120.7" width="5.1" height="5.1" fill="#d840d8"/>
<rect x="189.3" y="120.7" width="5.1" height="5.1" fill="#b82cc4"/>
<rect x="179.7" y="125.5" width="5.1" height="5.1" fill="#b82cc4"/>
<rect x="184.5" y="125.5" width="5.1" height="5.1" fill="#d840d8"/>
<rect x="189.3" y="125.5" width="5.1" height="5.1" fill="#ffe2ff"/>
<rect x="194.1" y="125.5" width="5.1" height="5.1" fill="#d840d8"/>
<rect x="198.9" y="125.5" width="5.1" height="5.1" fill="#d840d8"/>
<rect x="179.7" y="130.3" width="5.1" height="5.1" fill="#ee70ea"/>
<rect x="184.5" y="130.3" width="5.1" height="5.1" fill="#ffe2ff"/>
<rect x="189.3" y="130.3" width="5.1" height="5.1" fill="#ffe2ff"/>
<rect x="194.1" y="130.3" width="5.1" height="5.1" fill="#ee70ea"/>
<rect x="198.9" y="130.3" width="5.1" height="5.1" fill="#ee70ea"/>
<rect x="203.7" y="130.3" width="5.1" height="5.1" fill="#ee70ea"/>
<rect x="179.7" y="135.1" width="5.1" height="5.1" fill="#d840d8"/>
<rect x="184.5" y="135.1" width="5.1" height="5.1" fill="#b82cc4"/>
<rect x="189.3" y="135.1" width="5.1" height="5.1" fill="#d840d8"/>
<rect x="194.1" y="135.1" width="5.1" height="5.1" fill="#d840d8"/>
<rect x="198.9" y="135.1" width="5.1" height="5.1" fill="#d840d8"/>
<rect x="203.7" y="135.1" width="5.1" height="5.1" fill="#d840d8"/>
<rect x="208.5" y="135.1" width="5.1" height="5.1" fill="#ee70ea"/>
<rect x="189.3" y="139.9" width="5.1" height="5.1" fill="#d840d8"/>
<rect x="194.1" y="139.9" width="5.1" height="5.1" fill="#ffe2ff"/>
<rect x="198.9" y="139.9" width="5.1" height="5.1" fill="#ffe2ff"/>
<rect x="203.7" y="139.9" width="5.1" height="5.1" fill="#ffe2ff"/>
<rect x="208.5" y="139.9" width="5.1" height="5.1" fill="#ee70ea"/>
<rect x="213.3" y="139.9" width="5.1" height="5.1" fill="#b82cc4"/>
<rect x="194.1" y="144.7" width="5.1" height="5.1" fill="#ffe2ff"/>
<rect x="198.9" y="144.7" width="5.1" height="5.1" fill="#ffe2ff"/>
<rect x="203.7" y="144.7" width="5.1" height="5.1" fill="#ffe2ff"/>
<rect x="208.5" y="144.7" width="5.1" height="5.1" fill="#ee70ea"/>
<rect x="213.3" y="144.7" width="5.1" height="5.1" fill="#d840d8"/>
<rect x="218.1" y="144.7" width="5.1" height="5.1" fill="#d840d8"/>
<rect x="198.9" y="149.5" width="5.1" height="5.1" fill="#b82cc4"/>
<rect x="203.7" y="149.5" width="5.1" height="5.1" fill="#ee70ea"/>
<rect x="208.5" y="149.5" width="5.1" height="5.1" fill="#d840d8"/>
<rect x="213.3" y="149.5" width="5.1" height="5.1" fill="#d840d8"/>
<rect x="218.1" y="149.5" width="5.1" height="5.1" fill="#d840d8"/>
<rect x="222.9" y="149.5" width="5.1" height="5.1" fill="#ee70ea"/>
<rect x="203.7" y="154.3" width="5.1" height="5.1" fill="#b82cc4"/>
<rect x="208.5" y="154.3" width="5.1" height="5.1" fill="#d840d8"/>
<rect x="213.3" y="154.3" width="5.1" height="5.1" fill="#b82cc4"/>
<rect x="218.1" y="154.3" width="5.1" height="5.1" fill="#ee70ea"/>
<rect x="222.9" y="154.3" width="5.1" height="5.1" fill="#b82cc4"/>
</g></g>
<g clip-path="url(#c1)"><g filter="url(#h2b)" fill="#040804">
<path d="M194,181 L208,179 L222,180 L221,189 L215,192 L218,203 L214,212 L205,213 L203,201 L199,192 L194,190 Z"/>
</g></g>
<g clip-path="url(#c3)"><path d="M882,29 Q868,120 836,260" fill="none" stroke="#d0d0c0" stroke-width="0.7"/></g>
<g clip-path="url(#c5)"><path d="M585,301 Q528,392 446,541" fill="none" stroke="#d0d0c0" stroke-width="0.7"/></g>
<g clip-path="url(#c1)"><g transform="translate(150 60) scale(0.19157)" fill="none" stroke="#9ee6ff" stroke-width="3.915">
<path d="M55,295 C48,240 118,172 140,122 C156,94 216,104 208,146 C200,186 150,222 146,282 C141,332 62,346 55,295 Z"/>
<path d="M80,282 C84,240 110,186 136,183 C160,181 158,232 130,266 C114,290 78,310 80,282 Z"/>
<ellipse cx="97" cy="278" rx="9" ry="9"/>
<ellipse cx="272" cy="195" rx="52" ry="44" transform="rotate(-10 272 195)"/>
<ellipse cx="276" cy="196" rx="30" ry="23" transform="rotate(-10 276 196)"/>
<ellipse cx="278" cy="194" rx="12" ry="9"/>
<path d="M240,150 C214,182 224,240 242,270 C222,300 172,300 160,330 C154,372 206,402 240,386 C272,370 256,322 290,272 C312,246 336,246 330,220"/>
<ellipse cx="397" cy="300" rx="92" ry="58" transform="rotate(32 397 300)"/>
<ellipse cx="393" cy="297" rx="72" ry="44" transform="rotate(32 393 297)"/>
<ellipse cx="389" cy="294" rx="54" ry="32" transform="rotate(32 389 294)"/>
<ellipse cx="384" cy="291" rx="37" ry="21" transform="rotate(32 384 291)"/>
<ellipse cx="379" cy="288" rx="20" ry="11" transform="rotate(32 379 288)"/>
<ellipse cx="376" cy="286" rx="6" ry="5"/>
<path d="M315,520 C300,480 340,462 370,452 C400,440 410,402 436,406 C462,416 442,446 412,456 C392,466 382,500 356,526 C340,542 320,536 315,520 Z"/>
<ellipse cx="525" cy="440" rx="34" ry="33"/>
</g></g>
<g clip-path="url(#c2)"><g transform="translate(490 80) scale(0.22676)" fill="none" stroke="#8edcd4" stroke-width="3.308">
<ellipse cx="150" cy="180" rx="100" ry="76" transform="rotate(25 150 180)"/>
<ellipse cx="150" cy="180" rx="80" ry="58" transform="rotate(25 150 180)"/>
<ellipse cx="150" cy="180" rx="62" ry="44" transform="rotate(25 150 180)"/>
<ellipse cx="150" cy="180" rx="45" ry="31" transform="rotate(25 150 180)"/>
<ellipse cx="150" cy="178" rx="28" ry="18" transform="rotate(20 150 178)"/>
<ellipse cx="150" cy="176" rx="12" ry="8"/>
<path d="M60,150 C70,80 250,90 295,185 C315,250 265,295 215,305 C180,312 160,335 150,372"/>
<path d="M100,290 C70,330 40,380 40,430"/>
<path d="M245,300 C235,340 232,372 262,402"/>
<ellipse cx="178" cy="470" rx="128" ry="64" transform="rotate(22 178 470)"/>
<ellipse cx="178" cy="470" rx="108" ry="49" transform="rotate(22 178 470)"/>
<ellipse cx="178" cy="470" rx="90" ry="36" transform="rotate(22 178 470)"/>
<ellipse cx="180" cy="470" rx="70" ry="24" transform="rotate(22 180 470)"/>
</g></g>
<g><g transform="translate(820 130) scale(0.17422)" fill="none" stroke="#8ee68e" stroke-width="4.305">
<ellipse cx="170" cy="70" rx="12" ry="12"/>
<ellipse cx="170" cy="70" rx="26" ry="24"/>
<ellipse cx="255" cy="110" rx="14" ry="14"/>
<ellipse cx="255" cy="110" rx="27" ry="27"/>
<ellipse cx="256" cy="110" rx="40" ry="40"/>
<ellipse cx="257" cy="108" rx="52" ry="50"/>
<ellipse cx="350" cy="170" rx="14" ry="14"/>
<ellipse cx="350" cy="170" rx="30" ry="28"/>
<path d="M260,190 C300,150 380,110 410,150 C430,200 380,230 330,250 C290,270 240,280 250,240 C252,220 255,205 260,190 Z"/>
<path d="M120,30 C180,10 300,30 330,70 C360,100 400,110 410,140"/>
<path d="M120,40 C105,80 110,130 190,160 C215,175 210,195 180,195 C120,190 60,230 45,280 C35,330 40,370 30,390 C40,430 110,430 125,395 C135,360 125,330 160,300 C185,285 210,285 220,270"/>
<ellipse cx="75" cy="372" rx="14" ry="14"/>
<ellipse cx="75" cy="372" rx="30" ry="30"/>
<path d="M380,65 C400,20 430,-5 475,5 C500,15 490,60 465,75 C445,90 415,95 395,90 C380,85 375,75 380,65 Z"/>
<ellipse cx="420" cy="48" rx="6" ry="6"/>
</g></g>
<g><g transform="translate(820 130) scale(0.17422)" fill="none" stroke="#e8f0e8" stroke-width="4.305">
<ellipse cx="570" cy="55" rx="18" ry="18"/>
</g></g>
<g><g transform="translate(700 0) scale(0.50505)" fill="none" stroke="#8ee68e" stroke-width="1.485">
<path d="M376,262 C372,245 385,233 400,236 C414,240 414,256 404,266 C396,276 388,292 380,290 C370,286 370,272 376,262 Z"/>
<ellipse cx="382" cy="272" rx="3" ry="3"/>
<ellipse cx="398" cy="252" rx="3" ry="3"/>
</g></g>
<g clip-path="url(#c5)"><g transform="translate(510 400) scale(0.18282)" fill="none" stroke="#b0e8b0" stroke-width="4.103">
<ellipse cx="170" cy="200" rx="40" ry="38"/>
<ellipse cx="170" cy="200" rx="22" ry="22"/>
<path d="M120,170 C180,150 260,170 320,180 C380,190 430,220 425,280 C420,330 360,335 300,325 C250,318 200,320 160,290 C125,260 100,200 120,170 Z"/>
<ellipse cx="250" cy="262" rx="70" ry="50" transform="rotate(20 250 262)"/>
<ellipse cx="252" cy="262" rx="48" ry="34" transform="rotate(20 252 262)"/>
<ellipse cx="375" cy="255" rx="32" ry="30"/>
<ellipse cx="375" cy="255" rx="16" ry="15"/>
<ellipse cx="315" cy="435" rx="82" ry="62"/>
<ellipse cx="315" cy="435" rx="66" ry="50"/>
<ellipse cx="315" cy="435" rx="50" ry="38"/>
<ellipse cx="315" cy="435" rx="35" ry="27"/>
<ellipse cx="315" cy="435" rx="20" ry="14"/>
<path d="M200,300 C190,340 220,380 240,400"/>
<ellipse cx="505" cy="225" rx="46" ry="40"/>
<ellipse cx="505" cy="225" rx="30" ry="26"/>
<ellipse cx="505" cy="225" rx="8" ry="8"/>
<ellipse cx="635" cy="200" rx="62" ry="68" transform="rotate(10 635 200)"/>
<ellipse cx="635" cy="200" rx="46" ry="52" transform="rotate(10 635 200)"/>
<ellipse cx="635" cy="200" rx="30" ry="35" transform="rotate(10 635 200)"/>
<ellipse cx="635" cy="200" rx="10" ry="10"/>
</g></g>
<g clip-path="url(#c6)"><g transform="translate(790 360) scale(0.20890)" fill="none" stroke="#9ce8e8" stroke-width="3.590">
<ellipse cx="170" cy="195" rx="50" ry="48"/>
<path d="M60,170 C70,110 180,88 270,122 C320,62 440,30 560,50 C650,80 705,160 700,230 C695,290 620,330 560,360 C520,420 450,480 350,510 C280,500 225,440 205,340 C130,300 60,250 60,170 Z"/>
<path d="M270,320 C255,400 270,470 330,500 C410,490 500,430 540,350 C580,300 650,270 660,200 C650,110 580,70 490,65 C410,70 360,110 355,170 C360,230 330,270 270,320 Z"/>
<ellipse cx="490" cy="180" rx="78" ry="100" transform="rotate(-8 490 180)"/>
<ellipse cx="488" cy="178" rx="58" ry="78" transform="rotate(-8 488 178)"/>
<ellipse cx="486" cy="176" rx="38" ry="58" transform="rotate(-8 486 176)"/>
<ellipse cx="370" cy="392" rx="108" ry="82" transform="rotate(-35 370 392)"/>
<ellipse cx="368" cy="392" rx="86" ry="64" transform="rotate(-35 368 392)"/>
<ellipse cx="366" cy="392" rx="64" ry="48" transform="rotate(-35 366 392)"/>
<ellipse cx="364" cy="392" rx="44" ry="34" transform="rotate(-35 364 392)"/>
</g></g>
<path d="M64.5 29.5H305.5V251.5H64.5" fill="none" stroke="#d8d8d8" stroke-width="1"/>
<path d="M64.5 29.0V252.0" fill="none" stroke="#d8d8d8" stroke-width="1" opacity="0.15"/>
<path d="M77.5 251.5v-3.5M77.5 29.5v3.5M109.5 251.5v-3.5M109.5 29.5v3.5M142.5 251.5v-3.5M142.5 29.5v3.5M174.5 251.5v-3.5M174.5 29.5v3.5M206.5 251.5v-3.5M206.5 29.5v3.5M238.5 251.5v-3.5M238.5 29.5v3.5M270.5 251.5v-3.5M270.5 29.5v3.5M302.5 251.5v-3.5M302.5 29.5v3.5M69.5 251.5v-2M69.5 29.5v2M77.5 251.5v-2M77.5 29.5v2M85.5 251.5v-2M85.5 29.5v2M93.5 251.5v-2M93.5 29.5v2M101.5 251.5v-2M101.5 29.5v2M109.5 251.5v-2M109.5 29.5v2M117.5 251.5v-2M117.5 29.5v2M125.5 251.5v-2M125.5 29.5v2M133.5 251.5v-2M133.5 29.5v2M142.5 251.5v-2M142.5 29.5v2M150.5 251.5v-2M150.5 29.5v2M158.5 251.5v-2M158.5 29.5v2M166.5 251.5v-2M166.5 29.5v2M174.5 251.5v-2M174.5 29.5v2M182.5 251.5v-2M182.5 29.5v2M190.5 251.5v-2M190.5 29.5v2M198.5 251.5v-2M198.5 29.5v2M206.5 251.5v-2M206.5 29.5v2M214.5 251.5v-2M214.5 29.5v2M222.5 251.5v-2M222.5 29.5v2M230.5 251.5v-2M230.5 29.5v2M238.5 251.5v-2M238.5 29.5v2M246.5 251.5v-2M246.5 29.5v2M254.5 251.5v-2M254.5 29.5v2M262.5 251.5v-2M262.5 29.5v2M270.5 251.5v-2M270.5 29.5v2M278.5 251.5v-2M278.5 29.5v2M286.5 251.5v-2M286.5 29.5v2M294.5 251.5v-2M294.5 29.5v2M302.5 251.5v-2M302.5 29.5v2" stroke="#d8d8d8" stroke-width="1" fill="none"/>
<path d="M64.5 239.5h3.5M305.5 239.5h-3.5M64.5 207.5h3.5M305.5 207.5h-3.5M64.5 175.5h3.5M305.5 175.5h-3.5M64.5 143.5h3.5M305.5 143.5h-3.5M64.5 111.5h3.5M305.5 111.5h-3.5M64.5 79.5h3.5M305.5 79.5h-3.5M64.5 47.5h3.5M305.5 47.5h-3.5M64.5 247.5h2M305.5 247.5h-2M64.5 239.5h2M305.5 239.5h-2M64.5 231.5h2M305.5 231.5h-2M64.5 223.5h2M305.5 223.5h-2M64.5 215.5h2M305.5 215.5h-2M64.5 207.5h2M305.5 207.5h-2M64.5 199.5h2M305.5 199.5h-2M64.5 191.5h2M305.5 191.5h-2M64.5 183.5h2M305.5 183.5h-2M64.5 175.5h2M305.5 175.5h-2M64.5 167.5h2M305.5 167.5h-2M64.5 159.5h2M305.5 159.5h-2M64.5 151.5h2M305.5 151.5h-2M64.5 143.5h2M305.5 143.5h-2M64.5 135.5h2M305.5 135.5h-2M64.5 127.5h2M305.5 127.5h-2M64.5 119.5h2M305.5 119.5h-2M64.5 111.5h2M305.5 111.5h-2M64.5 103.5h2M305.5 103.5h-2M64.5 95.5h2M305.5 95.5h-2M64.5 87.5h2M305.5 87.5h-2M64.5 79.5h2M305.5 79.5h-2M64.5 71.5h2M305.5 71.5h-2M64.5 63.5h2M305.5 63.5h-2M64.5 55.5h2M305.5 55.5h-2M64.5 47.5h2M305.5 47.5h-2M64.5 39.5h2M305.5 39.5h-2M64.5 31.5h2M305.5 31.5h-2" stroke="#d8d8d8" stroke-width="1" fill="none"/>
<text x="76.8" y="260.8" font-size="7" text-anchor="middle" dominant-baseline="central" letter-spacing="0.3" fill="#e8e8e8">−680</text>
<text x="108.9" y="260.8" font-size="7" text-anchor="middle" dominant-baseline="central" letter-spacing="0.3" fill="#e8e8e8">−660</text>
<text x="141.0" y="260.8" font-size="7" text-anchor="middle" dominant-baseline="central" letter-spacing="0.3" fill="#e8e8e8">−640</text>
<text x="173.1" y="260.8" font-size="7" text-anchor="middle" dominant-baseline="central" letter-spacing="0.3" fill="#e8e8e8">−620</text>
<text x="205.2" y="260.8" font-size="7" text-anchor="middle" dominant-baseline="central" letter-spacing="0.3" fill="#e8e8e8">−600</text>
<text x="237.3" y="260.8" font-size="7" text-anchor="middle" dominant-baseline="central" letter-spacing="0.3" fill="#e8e8e8">−580</text>
<text x="269.4" y="260.8" font-size="7" text-anchor="middle" dominant-baseline="central" letter-spacing="0.3" fill="#e8e8e8">−560</text>
<text x="301.5" y="260.8" font-size="7" text-anchor="middle" dominant-baseline="central" letter-spacing="0.3" fill="#e8e8e8">−540</text>
<text x="62.0" y="239.3" font-size="7" text-anchor="end" dominant-baseline="central" letter-spacing="0.3" fill="#e8e8e8">−140</text>
<text x="62.0" y="207.4" font-size="7" text-anchor="end" dominant-baseline="central" letter-spacing="0.3" fill="#e8e8e8">−120</text>
<text x="62.0" y="175.5" font-size="7" text-anchor="end" dominant-baseline="central" letter-spacing="0.3" fill="#e8e8e8">−100</text>
<text x="62.0" y="143.6" font-size="7" text-anchor="end" dominant-baseline="central" letter-spacing="0.3" fill="#e8e8e8">−80</text>
<text x="62.0" y="111.7" font-size="7" text-anchor="end" dominant-baseline="central" letter-spacing="0.3" fill="#e8e8e8">−60</text>
<text x="62.0" y="79.8" font-size="7" text-anchor="end" dominant-baseline="central" letter-spacing="0.3" fill="#e8e8e8">−40</text>
<text x="62.0" y="47.9" font-size="7" text-anchor="end" dominant-baseline="central" letter-spacing="0.3" fill="#e8e8e8">−20</text>
<text x="185.0" y="270.5" font-size="7" text-anchor="middle" dominant-baseline="central" letter-spacing="0.3" fill="#e8e8e8">X (arcsec)</text>
<text x="34.5" y="142.0" font-size="7" text-anchor="middle" dominant-baseline="central" letter-spacing="0.3" fill="#e8e8e8" transform="rotate(-90 34.5 142)">Y (arcsec)</text>
<text x="310.5" y="141.0" font-size="7" text-anchor="middle" dominant-baseline="central" letter-spacing="0.3" fill="#e8e8e8" transform="rotate(-90 310.5 141)">HXI 25−50 keV</text>
<path d="M400.5 25.5H664.5V259.5H400.5" fill="none" stroke="#d8d8d8" stroke-width="1"/>
<path d="M400.5 25.0V260.0" fill="none" stroke="#d8d8d8" stroke-width="1" opacity="0.45"/>
<path d="M417.5 259.5v-3.5M417.5 25.5v3.5M470.5 259.5v-3.5M470.5 25.5v3.5M522.5 259.5v-3.5M522.5 25.5v3.5M574.5 259.5v-3.5M574.5 25.5v3.5M626.5 259.5v-3.5M626.5 25.5v3.5M404.5 259.5v-2M404.5 25.5v2M417.5 259.5v-2M417.5 25.5v2M430.5 259.5v-2M430.5 25.5v2M443.5 259.5v-2M443.5 25.5v2M456.5 259.5v-2M456.5 25.5v2M470.5 259.5v-2M470.5 25.5v2M483.5 259.5v-2M483.5 25.5v2M496.5 259.5v-2M496.5 25.5v2M509.5 259.5v-2M509.5 25.5v2M522.5 259.5v-2M522.5 25.5v2M535.5 259.5v-2M535.5 25.5v2M548.5 259.5v-2M548.5 25.5v2M561.5 259.5v-2M561.5 25.5v2M574.5 259.5v-2M574.5 25.5v2M587.5 259.5v-2M587.5 25.5v2M600.5 259.5v-2M600.5 25.5v2M613.5 259.5v-2M613.5 25.5v2M626.5 259.5v-2M626.5 25.5v2M639.5 259.5v-2M639.5 25.5v2M652.5 259.5v-2M652.5 25.5v2" stroke="#d8d8d8" stroke-width="1" fill="none"/>
<path d="M400.5 243.5h3.5M664.5 243.5h-3.5M400.5 190.5h3.5M664.5 190.5h-3.5M400.5 138.5h3.5M664.5 138.5h-3.5M400.5 86.5h3.5M664.5 86.5h-3.5M400.5 33.5h3.5M664.5 33.5h-3.5M400.5 256.5h2M664.5 256.5h-2M400.5 243.5h2M664.5 243.5h-2M400.5 230.5h2M664.5 230.5h-2M400.5 217.5h2M664.5 217.5h-2M400.5 204.5h2M664.5 204.5h-2M400.5 190.5h2M664.5 190.5h-2M400.5 177.5h2M664.5 177.5h-2M400.5 164.5h2M664.5 164.5h-2M400.5 151.5h2M664.5 151.5h-2M400.5 138.5h2M664.5 138.5h-2M400.5 125.5h2M664.5 125.5h-2M400.5 112.5h2M664.5 112.5h-2M400.5 99.5h2M664.5 99.5h-2M400.5 86.5h2M664.5 86.5h-2M400.5 73.5h2M664.5 73.5h-2M400.5 59.5h2M664.5 59.5h-2M400.5 46.5h2M664.5 46.5h-2M400.5 33.5h2M664.5 33.5h-2" stroke="#d8d8d8" stroke-width="1" fill="none"/>
<text x="417.9" y="268.6" font-size="7" text-anchor="middle" dominant-baseline="central" letter-spacing="0.3" fill="#e8e8e8">140</text>
<text x="470.0" y="268.6" font-size="7" text-anchor="middle" dominant-baseline="central" letter-spacing="0.3" fill="#e8e8e8">160</text>
<text x="522.1" y="268.6" font-size="7" text-anchor="middle" dominant-baseline="central" letter-spacing="0.3" fill="#e8e8e8">180</text>
<text x="574.2" y="268.6" font-size="7" text-anchor="middle" dominant-baseline="central" letter-spacing="0.3" fill="#e8e8e8">200</text>
<text x="626.3" y="268.6" font-size="7" text-anchor="middle" dominant-baseline="central" letter-spacing="0.3" fill="#e8e8e8">220</text>
<text x="399.0" y="243.3" font-size="7" text-anchor="end" dominant-baseline="central" letter-spacing="0.3" fill="#e8e8e8">120</text>
<text x="399.0" y="190.9" font-size="7" text-anchor="end" dominant-baseline="central" letter-spacing="0.3" fill="#e8e8e8">140</text>
<text x="399.0" y="138.5" font-size="7" text-anchor="end" dominant-baseline="central" letter-spacing="0.3" fill="#e8e8e8">160</text>
<text x="399.0" y="86.1" font-size="7" text-anchor="end" dominant-baseline="central" letter-spacing="0.3" fill="#e8e8e8">180</text>
<text x="399.0" y="33.7" font-size="7" text-anchor="end" dominant-baseline="central" letter-spacing="0.3" fill="#e8e8e8">200</text>
<text x="532.5" y="277.7" font-size="7" text-anchor="middle" dominant-baseline="central" letter-spacing="0.3" fill="#e8e8e8">X (arcsec)</text>
<text x="379.5" y="146.0" font-size="7" text-anchor="middle" dominant-baseline="central" letter-spacing="0.3" fill="#e8e8e8" transform="rotate(-90 379.5 146)">Y (arcsec)</text>
<path d="M778.5 259.5v-4M778.5 29.5v4M809.5 259.5v-4M809.5 29.5v4M840.5 259.5v-4M840.5 29.5v4M871.5 259.5v-4M871.5 29.5v4M902.5 259.5v-4M902.5 29.5v4M932.5 259.5v-4M932.5 29.5v4M963.5 259.5v-4M963.5 29.5v4M755.5 259.5v-2.5M755.5 29.5v2.5M763.5 259.5v-2.5M763.5 29.5v2.5M771.5 259.5v-2.5M771.5 29.5v2.5M778.5 259.5v-2.5M778.5 29.5v2.5M786.5 259.5v-2.5M786.5 29.5v2.5M794.5 259.5v-2.5M794.5 29.5v2.5M801.5 259.5v-2.5M801.5 29.5v2.5M809.5 259.5v-2.5M809.5 29.5v2.5M817.5 259.5v-2.5M817.5 29.5v2.5M825.5 259.5v-2.5M825.5 29.5v2.5M832.5 259.5v-2.5M832.5 29.5v2.5M840.5 259.5v-2.5M840.5 29.5v2.5M848.5 259.5v-2.5M848.5 29.5v2.5M855.5 259.5v-2.5M855.5 29.5v2.5M863.5 259.5v-2.5M863.5 29.5v2.5M871.5 259.5v-2.5M871.5 29.5v2.5M878.5 259.5v-2.5M878.5 29.5v2.5M886.5 259.5v-2.5M886.5 29.5v2.5M894.5 259.5v-2.5M894.5 29.5v2.5M902.5 259.5v-2.5M902.5 29.5v2.5M909.5 259.5v-2.5M909.5 29.5v2.5M917.5 259.5v-2.5M917.5 29.5v2.5M925.5 259.5v-2.5M925.5 29.5v2.5M932.5 259.5v-2.5M932.5 29.5v2.5M940.5 259.5v-2.5M940.5 29.5v2.5M948.5 259.5v-2.5M948.5 29.5v2.5M955.5 259.5v-2.5M955.5 29.5v2.5M963.5 259.5v-2.5M963.5 29.5v2.5M971.5 259.5v-2.5M971.5 29.5v2.5M979.5 259.5v-2.5M979.5 29.5v2.5M986.5 259.5v-2.5M986.5 29.5v2.5" stroke="#d8d8d8" stroke-width="1" fill="none"/>
<path d="M754.5 248.5h4M990.5 248.5h-4M754.5 217.5h4M990.5 217.5h-4M754.5 187.5h4M990.5 187.5h-4M754.5 156.5h4M990.5 156.5h-4M754.5 126.5h4M990.5 126.5h-4M754.5 95.5h4M990.5 95.5h-4M754.5 64.5h4M990.5 64.5h-4M754.5 34.5h4M990.5 34.5h-4M754.5 256.5h2.5M990.5 256.5h-2.5M754.5 248.5h2.5M990.5 248.5h-2.5M754.5 240.5h2.5M990.5 240.5h-2.5M754.5 233.5h2.5M990.5 233.5h-2.5M754.5 225.5h2.5M990.5 225.5h-2.5M754.5 217.5h2.5M990.5 217.5h-2.5M754.5 210.5h2.5M990.5 210.5h-2.5M754.5 202.5h2.5M990.5 202.5h-2.5M754.5 194.5h2.5M990.5 194.5h-2.5M754.5 187.5h2.5M990.5 187.5h-2.5M754.5 179.5h2.5M990.5 179.5h-2.5M754.5 172.5h2.5M990.5 172.5h-2.5M754.5 164.5h2.5M990.5 164.5h-2.5M754.5 156.5h2.5M990.5 156.5h-2.5M754.5 149.5h2.5M990.5 149.5h-2.5M754.5 141.5h2.5M990.5 141.5h-2.5M754.5 133.5h2.5M990.5 133.5h-2.5M754.5 126.5h2.5M990.5 126.5h-2.5M754.5 118.5h2.5M990.5 118.5h-2.5M754.5 110.5h2.5M990.5 110.5h-2.5M754.5 103.5h2.5M990.5 103.5h-2.5M754.5 95.5h2.5M990.5 95.5h-2.5M754.5 87.5h2.5M990.5 87.5h-2.5M754.5 80.5h2.5M990.5 80.5h-2.5M754.5 72.5h2.5M990.5 72.5h-2.5M754.5 64.5h2.5M990.5 64.5h-2.5M754.5 57.5h2.5M990.5 57.5h-2.5M754.5 49.5h2.5M990.5 49.5h-2.5M754.5 41.5h2.5M990.5 41.5h-2.5M754.5 34.5h2.5M990.5 34.5h-2.5" stroke="#d8d8d8" stroke-width="1" fill="none"/>
<path d="M754.5 29.5H990.5V259.5H754.5" fill="none" stroke="#d8d8d8" stroke-width="1"/>
<path d="M754.5 29.0V260.0" fill="none" stroke="#d8d8d8" stroke-width="1" opacity="1.0"/>
<text x="778.8" y="267.0" font-size="6" text-anchor="middle" dominant-baseline="central" letter-spacing="0.3" fill="#e8e8e8">900</text>
<text x="809.6" y="267.0" font-size="6" text-anchor="middle" dominant-baseline="central" letter-spacing="0.3" fill="#e8e8e8">920</text>
<text x="840.4" y="267.0" font-size="6" text-anchor="middle" dominant-baseline="central" letter-spacing="0.3" fill="#e8e8e8">940</text>
<text x="871.2" y="267.0" font-size="6" text-anchor="middle" dominant-baseline="central" letter-spacing="0.3" fill="#e8e8e8">960</text>
<text x="902.0" y="267.0" font-size="6" text-anchor="middle" dominant-baseline="central" letter-spacing="0.3" fill="#e8e8e8">980</text>
<text x="932.8" y="267.0" font-size="6" text-anchor="middle" dominant-baseline="central" letter-spacing="0.3" fill="#e8e8e8">1000</text>
<text x="963.6" y="267.0" font-size="6" text-anchor="middle" dominant-baseline="central" letter-spacing="0.3" fill="#e8e8e8">1020</text>
<text x="752.0" y="248.5" font-size="6" text-anchor="end" dominant-baseline="central" letter-spacing="0.3" fill="#e8e8e8">−260</text>
<text x="752.0" y="217.9" font-size="6" text-anchor="end" dominant-baseline="central" letter-spacing="0.3" fill="#e8e8e8">−240</text>
<text x="752.0" y="187.3" font-size="6" text-anchor="end" dominant-baseline="central" letter-spacing="0.3" fill="#e8e8e8">−220</text>
<text x="752.0" y="156.7" font-size="6" text-anchor="end" dominant-baseline="central" letter-spacing="0.3" fill="#e8e8e8">−200</text>
<text x="752.0" y="126.1" font-size="6" text-anchor="end" dominant-baseline="central" letter-spacing="0.3" fill="#e8e8e8">−180</text>
<text x="752.0" y="95.5" font-size="6" text-anchor="end" dominant-baseline="central" letter-spacing="0.3" fill="#e8e8e8">−160</text>
<text x="752.0" y="64.9" font-size="6" text-anchor="end" dominant-baseline="central" letter-spacing="0.3" fill="#e8e8e8">−140</text>
<text x="752.0" y="34.3" font-size="6" text-anchor="end" dominant-baseline="central" letter-spacing="0.3" fill="#e8e8e8">−120</text>
<text x="872.0" y="275.0" font-size="6" text-anchor="middle" dominant-baseline="central" letter-spacing="0.3" fill="#e8e8e8">X (arcsec)</text>
<text x="730.0" y="146.0" font-size="6" text-anchor="middle" dominant-baseline="central" letter-spacing="0.3" fill="#e8e8e8" transform="rotate(-90 730 146)">Y (arcsec)</text>
<path d="M372.5 301.5H701.5V540.5H372.5" fill="none" stroke="#d8d8d8" stroke-width="1"/>
<path d="M372.5 301.0V541.0" fill="none" stroke="#d8d8d8" stroke-width="1" opacity="1.0"/>
<path d="M420.5 540.5v-3.5M420.5 301.5v3.5M493.5 540.5v-3.5M493.5 301.5v3.5M567.5 540.5v-3.5M567.5 301.5v3.5M641.5 540.5v-3.5M641.5 301.5v3.5M375.5 540.5v-2M375.5 301.5v2M390.5 540.5v-2M390.5 301.5v2M405.5 540.5v-2M405.5 301.5v2M420.5 540.5v-2M420.5 301.5v2M434.5 540.5v-2M434.5 301.5v2M449.5 540.5v-2M449.5 301.5v2M464.5 540.5v-2M464.5 301.5v2M479.5 540.5v-2M479.5 301.5v2M493.5 540.5v-2M493.5 301.5v2M508.5 540.5v-2M508.5 301.5v2M523.5 540.5v-2M523.5 301.5v2M538.5 540.5v-2M538.5 301.5v2M552.5 540.5v-2M552.5 301.5v2M567.5 540.5v-2M567.5 301.5v2M582.5 540.5v-2M582.5 301.5v2M597.5 540.5v-2M597.5 301.5v2M611.5 540.5v-2M611.5 301.5v2M626.5 540.5v-2M626.5 301.5v2M641.5 540.5v-2M641.5 301.5v2M656.5 540.5v-2M656.5 301.5v2M671.5 540.5v-2M671.5 301.5v2M685.5 540.5v-2M685.5 301.5v2M700.5 540.5v-2M700.5 301.5v2" stroke="#d8d8d8" stroke-width="1" fill="none"/>
<path d="M372.5 470.5h3.5M701.5 470.5h-3.5M372.5 397.5h3.5M701.5 397.5h-3.5M372.5 324.5h3.5M701.5 324.5h-3.5M372.5 528.5h2M701.5 528.5h-2M372.5 513.5h2M701.5 513.5h-2M372.5 499.5h2M701.5 499.5h-2M372.5 484.5h2M701.5 484.5h-2M372.5 470.5h2M701.5 470.5h-2M372.5 455.5h2M701.5 455.5h-2M372.5 441.5h2M701.5 441.5h-2M372.5 426.5h2M701.5 426.5h-2M372.5 411.5h2M701.5 411.5h-2M372.5 397.5h2M701.5 397.5h-2M372.5 382.5h2M701.5 382.5h-2M372.5 368.5h2M701.5 368.5h-2M372.5 353.5h2M701.5 353.5h-2M372.5 339.5h2M701.5 339.5h-2M372.5 324.5h2M701.5 324.5h-2M372.5 310.5h2M701.5 310.5h-2" stroke="#d8d8d8" stroke-width="1" fill="none"/>
<text x="419.1" y="549.1" font-size="7" text-anchor="middle" dominant-baseline="central" letter-spacing="0.3" fill="#e8e8e8">−900</text>
<text x="492.9" y="549.1" font-size="7" text-anchor="middle" dominant-baseline="central" letter-spacing="0.3" fill="#e8e8e8">−850</text>
<text x="566.7" y="549.1" font-size="7" text-anchor="middle" dominant-baseline="central" letter-spacing="0.3" fill="#e8e8e8">−800</text>
<text x="640.5" y="549.1" font-size="7" text-anchor="middle" dominant-baseline="central" letter-spacing="0.3" fill="#e8e8e8">−750</text>
<text x="370.0" y="470.1" font-size="7" text-anchor="end" dominant-baseline="central" letter-spacing="0.3" fill="#e8e8e8">450</text>
<text x="370.0" y="397.4" font-size="7" text-anchor="end" dominant-baseline="central" letter-spacing="0.3" fill="#e8e8e8">500</text>
<text x="370.0" y="324.7" font-size="7" text-anchor="end" dominant-baseline="central" letter-spacing="0.3" fill="#e8e8e8">550</text>
<text x="535.5" y="558.8" font-size="7" text-anchor="middle" dominant-baseline="central" letter-spacing="0.3" fill="#e8e8e8">X (arcsec)</text>
<text x="349.5" y="421.0" font-size="7" text-anchor="middle" dominant-baseline="central" letter-spacing="0.3" fill="#e8e8e8" transform="rotate(-90 349.5 421)">Y (arcsec)</text>
<path d="M744.5 309.5H1001.5V534.5H744.5" fill="none" stroke="#d8d8d8" stroke-width="1"/>
<path d="M744.5 309.0V535.0" fill="none" stroke="#d8d8d8" stroke-width="1" opacity="0.15"/>
<path d="M756.5 534.5v-4M756.5 309.5v4M798.5 534.5v-4M798.5 309.5v4M840.5 534.5v-4M840.5 309.5v4M882.5 534.5v-4M882.5 309.5v4M924.5 534.5v-4M924.5 309.5v4M965.5 534.5v-4M965.5 309.5v4M756.5 534.5v-2.5M756.5 309.5v2.5M760.5 534.5v-2.5M760.5 309.5v2.5M764.5 534.5v-2.5M764.5 309.5v2.5M768.5 534.5v-2.5M768.5 309.5v2.5M773.5 534.5v-2.5M773.5 309.5v2.5M777.5 534.5v-2.5M777.5 309.5v2.5M781.5 534.5v-2.5M781.5 309.5v2.5M785.5 534.5v-2.5M785.5 309.5v2.5M789.5 534.5v-2.5M789.5 309.5v2.5M794.5 534.5v-2.5M794.5 309.5v2.5M798.5 534.5v-2.5M798.5 309.5v2.5M802.5 534.5v-2.5M802.5 309.5v2.5M806.5 534.5v-2.5M806.5 309.5v2.5M810.5 534.5v-2.5M810.5 309.5v2.5M815.5 534.5v-2.5M815.5 309.5v2.5M819.5 534.5v-2.5M819.5 309.5v2.5M823.5 534.5v-2.5M823.5 309.5v2.5M827.5 534.5v-2.5M827.5 309.5v2.5M831.5 534.5v-2.5M831.5 309.5v2.5M836.5 534.5v-2.5M836.5 309.5v2.5M840.5 534.5v-2.5M840.5 309.5v2.5M844.5 534.5v-2.5M844.5 309.5v2.5M848.5 534.5v-2.5M848.5 309.5v2.5M852.5 534.5v-2.5M852.5 309.5v2.5M856.5 534.5v-2.5M856.5 309.5v2.5M861.5 534.5v-2.5M861.5 309.5v2.5M865.5 534.5v-2.5M865.5 309.5v2.5M869.5 534.5v-2.5M869.5 309.5v2.5M873.5 534.5v-2.5M873.5 309.5v2.5M877.5 534.5v-2.5M877.5 309.5v2.5M882.5 534.5v-2.5M882.5 309.5v2.5M886.5 534.5v-2.5M886.5 309.5v2.5M890.5 534.5v-2.5M890.5 309.5v2.5M894.5 534.5v-2.5M894.5 309.5v2.5M898.5 534.5v-2.5M898.5 309.5v2.5M903.5 534.5v-2.5M903.5 309.5v2.5M907.5 534.5v-2.5M907.5 309.5v2.5M911.5 534.5v-2.5M911.5 309.5v2.5M915.5 534.5v-2.5M915.5 309.5v2.5M919.5 534.5v-2.5M919.5 309.5v2.5M924.5 534.5v-2.5M924.5 309.5v2.5M928.5 534.5v-2.5M928.5 309.5v2.5M932.5 534.5v-2.5M932.5 309.5v2.5M936.5 534.5v-2.5M936.5 309.5v2.5M940.5 534.5v-2.5M940.5 309.5v2.5M944.5 534.5v-2.5M944.5 309.5v2.5M949.5 534.5v-2.5M949.5 309.5v2.5M953.5 534.5v-2.5M953.5 309.5v2.5M957.5 534.5v-2.5M957.5 309.5v2.5M961.5 534.5v-2.5M961.5 309.5v2.5M965.5 534.5v-2.5M965.5 309.5v2.5M970.5 534.5v-2.5M970.5 309.5v2.5M974.5 534.5v-2.5M974.5 309.5v2.5M978.5 534.5v-2.5M978.5 309.5v2.5M982.5 534.5v-2.5M982.5 309.5v2.5M986.5 534.5v-2.5M986.5 309.5v2.5M991.5 534.5v-2.5M991.5 309.5v2.5M995.5 534.5v-2.5M995.5 309.5v2.5M999.5 534.5v-2.5M999.5 309.5v2.5" stroke="#d8d8d8" stroke-width="1" fill="none"/>
<path d="M744.5 493.5h4M1001.5 493.5h-4M744.5 453.5h4M1001.5 453.5h-4M744.5 412.5h4M1001.5 412.5h-4M744.5 371.5h4M1001.5 371.5h-4M744.5 330.5h4M1001.5 330.5h-4M744.5 530.5h2.5M1001.5 530.5h-2.5M744.5 526.5h2.5M1001.5 526.5h-2.5M744.5 522.5h2.5M1001.5 522.5h-2.5M744.5 518.5h2.5M1001.5 518.5h-2.5M744.5 514.5h2.5M1001.5 514.5h-2.5M744.5 509.5h2.5M1001.5 509.5h-2.5M744.5 505.5h2.5M1001.5 505.5h-2.5M744.5 501.5h2.5M1001.5 501.5h-2.5M744.5 497.5h2.5M1001.5 497.5h-2.5M744.5 493.5h2.5M1001.5 493.5h-2.5M744.5 489.5h2.5M1001.5 489.5h-2.5M744.5 485.5h2.5M1001.5 485.5h-2.5M744.5 481.5h2.5M1001.5 481.5h-2.5M744.5 477.5h2.5M1001.5 477.5h-2.5M744.5 473.5h2.5M1001.5 473.5h-2.5M744.5 469.5h2.5M1001.5 469.5h-2.5M744.5 465.5h2.5M1001.5 465.5h-2.5M744.5 461.5h2.5M1001.5 461.5h-2.5M744.5 457.5h2.5M1001.5 457.5h-2.5M744.5 453.5h2.5M1001.5 453.5h-2.5M744.5 448.5h2.5M1001.5 448.5h-2.5M744.5 444.5h2.5M1001.5 444.5h-2.5M744.5 440.5h2.5M1001.5 440.5h-2.5M744.5 436.5h2.5M1001.5 436.5h-2.5M744.5 432.5h2.5M1001.5 432.5h-2.5M744.5 428.5h2.5M1001.5 428.5h-2.5M744.5 424.5h2.5M1001.5 424.5h-2.5M744.5 420.5h2.5M1001.5 420.5h-2.5M744.5 416.5h2.5M1001.5 416.5h-2.5M744.5 412.5h2.5M1001.5 412.5h-2.5M744.5 408.5h2.5M1001.5 408.5h-2.5M744.5 404.5h2.5M1001.5 404.5h-2.5M744.5 400.5h2.5M1001.5 400.5h-2.5M744.5 396.5h2.5M1001.5 396.5h-2.5M744.5 391.5h2.5M1001.5 391.5h-2.5M744.5 387.5h2.5M1001.5 387.5h-2.5M744.5 383.5h2.5M1001.5 383.5h-2.5M744.5 379.5h2.5M1001.5 379.5h-2.5M744.5 375.5h2.5M1001.5 375.5h-2.5M744.5 371.5h2.5M1001.5 371.5h-2.5M744.5 367.5h2.5M1001.5 367.5h-2.5M744.5 363.5h2.5M1001.5 363.5h-2.5M744.5 359.5h2.5M1001.5 359.5h-2.5M744.5 355.5h2.5M1001.5 355.5h-2.5M744.5 351.5h2.5M1001.5 351.5h-2.5M744.5 347.5h2.5M1001.5 347.5h-2.5M744.5 343.5h2.5M1001.5 343.5h-2.5M744.5 339.5h2.5M1001.5 339.5h-2.5M744.5 334.5h2.5M1001.5 334.5h-2.5M744.5 330.5h2.5M1001.5 330.5h-2.5M744.5 326.5h2.5M1001.5 326.5h-2.5M744.5 322.5h2.5M1001.5 322.5h-2.5M744.5 318.5h2.5M1001.5 318.5h-2.5M744.5 314.5h2.5M1001.5 314.5h-2.5M744.5 310.5h2.5M1001.5 310.5h-2.5" stroke="#d8d8d8" stroke-width="1" fill="none"/>
<text x="755.4" y="543.3" font-size="7" text-anchor="middle" dominant-baseline="central" letter-spacing="0.3" fill="#e8e8e8">−330</text>
<text x="797.3" y="543.3" font-size="7" text-anchor="middle" dominant-baseline="central" letter-spacing="0.3" fill="#e8e8e8">−320</text>
<text x="839.2" y="543.3" font-size="7" text-anchor="middle" dominant-baseline="central" letter-spacing="0.3" fill="#e8e8e8">−310</text>
<text x="881.1" y="543.3" font-size="7" text-anchor="middle" dominant-baseline="central" letter-spacing="0.3" fill="#e8e8e8">−300</text>
<text x="923.0" y="543.3" font-size="7" text-anchor="middle" dominant-baseline="central" letter-spacing="0.3" fill="#e8e8e8">−290</text>
<text x="964.9" y="543.3" font-size="7" text-anchor="middle" dominant-baseline="central" letter-spacing="0.3" fill="#e8e8e8">−280</text>
<text x="742.0" y="493.7" font-size="7" text-anchor="end" dominant-baseline="central" letter-spacing="0.3" fill="#e8e8e8">420</text>
<text x="742.0" y="453.0" font-size="7" text-anchor="end" dominant-baseline="central" letter-spacing="0.3" fill="#e8e8e8">430</text>
<text x="742.0" y="412.3" font-size="7" text-anchor="end" dominant-baseline="central" letter-spacing="0.3" fill="#e8e8e8">440</text>
<text x="742.0" y="371.6" font-size="7" text-anchor="end" dominant-baseline="central" letter-spacing="0.3" fill="#e8e8e8">450</text>
<text x="742.0" y="330.9" font-size="7" text-anchor="end" dominant-baseline="central" letter-spacing="0.3" fill="#e8e8e8">460</text>
<text x="872.7" y="552.9" font-size="7" text-anchor="middle" dominant-baseline="central" letter-spacing="0.3" fill="#e8e8e8">X (arcsec)</text>
<text x="722.3" y="426.0" font-size="7" text-anchor="middle" dominant-baseline="central" letter-spacing="0.3" fill="#e8e8e8" transform="rotate(-90 722.3 426)">Y (arcsec)</text>
<path d="M39.5,499.5 L43.5,499.5 L43.5,504.5 L49.5,504.5 L49.5,501.5 L62.5,501.5 L62.5,505.5 L74.5,505.5 L74.5,501.5 L79.5,501.5 L79.5,505.5 L89.5,505.5 L89.5,498.5 L91.5,498.5 L91.5,494.5 L92.5,494.5 L92.5,500.5 L94.5,500.5 L94.5,495.5 L95.5,495.5 L95.5,495.5 L97.5,495.5 L97.5,493.5 L99.5,493.5 L99.5,500.5 L100.5,500.5 L100.5,491.5 L102.5,491.5 L102.5,499.5 L103.5,499.5 L103.5,508.5 L105.5,508.5 L105.5,504.5 L107.5,504.5 L107.5,502.5 L108.5,502.5 L108.5,499.5 L110.5,499.5 L110.5,500.5 L111.5,500.5 L111.5,501.5 L113.5,501.5 L113.5,497.5 L115.5,497.5 L115.5,497.5 L116.5,497.5 L116.5,503.5 L118.5,503.5 L118.5,503.5 L119.5,503.5 L119.5,500.5 L121.5,500.5 L121.5,504.5 L123.5,504.5 L123.5,498.5 L124.5,498.5 L124.5,498.5 L126.5,498.5 L126.5,495.5 L127.5,495.5 L127.5,478.5 L129.5,478.5 L129.5,496.5 L131.5,496.5 L131.5,494.5 L132.5,494.5 L132.5,494.5 L134.5,494.5 L134.5,491.5 L135.5,491.5 L135.5,472.5 L137.5,472.5 L137.5,486.5 L139.5,486.5 L139.5,492.5 L140.5,492.5 L140.5,478.5 L142.5,478.5 L142.5,490.5 L143.5,490.5 L143.5,491.5 L145.5,491.5 L145.5,486.5 L147.5,486.5 L147.5,480.5 L148.5,480.5 L148.5,477.5 L150.5,477.5 L150.5,482.5 L151.5,482.5 L151.5,480.5 L153.5,480.5 L153.5,477.5 L155.5,477.5 L155.5,466.5 L156.5,466.5 L156.5,472.5 L158.5,472.5 L158.5,469.5 L159.5,469.5 L159.5,463.5 L161.5,463.5 L161.5,466.5 L163.5,466.5 L163.5,461.5 L164.5,461.5 L164.5,467.5 L166.5,467.5 L166.5,467.5 L167.5,467.5 L167.5,471.5 L169.5,471.5 L169.5,469.5 L171.5,469.5 L171.5,477.5 L172.5,477.5 L172.5,473.5 L174.5,473.5 L174.5,485.5 L175.5,485.5 L175.5,475.5 L177.5,475.5 L177.5,489.5 L179.5,489.5 L179.5,477.5 L180.5,477.5 L180.5,481.5 L182.5,481.5 L182.5,470.5 L183.5,470.5 L183.5,482.5 L185.5,482.5 L185.5,488.5 L187.5,488.5 L187.5,486.5 L188.5,486.5 L188.5,484.5 L190.5,484.5 L190.5,485.5 L191.5,485.5 L191.5,476.5 L193.5,476.5 L193.5,480.5 L195.5,480.5 L195.5,475.5 L196.5,475.5 L196.5,480.5 L198.5,480.5 L198.5,475.5 L199.5,475.5 L199.5,477.5 L201.5,477.5 L201.5,475.5 L203.5,475.5 L203.5,479.5 L204.5,479.5 L204.5,476.5 L206.5,476.5 L206.5,483.5 L207.5,483.5 L207.5,480.5 L209.5,480.5 L209.5,468.5 L211.5,468.5 L211.5,484.5 L212.5,484.5 L212.5,481.5 L214.5,481.5 L214.5,485.5 L215.5,485.5 L215.5,486.5 L217.5,486.5 L217.5,485.5 L219.5,485.5 L219.5,490.5 L220.5,490.5 L220.5,490.5 L222.5,490.5 L222.5,494.5 L223.5,494.5 L223.5,490.5 L225.5,490.5 L225.5,487.5 L227.5,487.5 L227.5,489.5 L228.5,489.5 L228.5,488.5 L230.5,488.5 L230.5,487.5 L231.5,487.5 L231.5,488.5 L233.5,488.5 L233.5,491.5 L235.5,491.5 L235.5,493.5 L236.5,493.5 L236.5,492.5 L238.5,492.5 L238.5,486.5 L239.5,486.5 L239.5,484.5 L241.5,484.5 L241.5,485.5 L243.5,485.5 L243.5,488.5 L244.5,488.5 L244.5,488.5 L246.5,488.5 L246.5,488.5 L247.5,488.5 L247.5,478.5 L249.5,478.5 L249.5,480.5 L251.5,480.5 L251.5,492.5 L252.5,492.5 L252.5,490.5 L254.5,490.5 L254.5,490.5 L255.5,490.5 L255.5,489.5 L257.5,489.5 L257.5,491.5 L259.5,491.5 L259.5,483.5 L260.5,483.5 L260.5,496.5 L262.5,496.5 L262.5,493.5 L263.5,493.5 L263.5,504.5 L265.5,504.5 L265.5,492.5 L267.5,492.5 L267.5,496.5 L268.5,496.5 L268.5,494.5 L270.5,494.5 L270.5,498.5 L271.5,498.5 L271.5,493.5 L273.5,493.5 L273.5,493.5 L275.5,493.5 L275.5,492.5 L276.5,492.5 L276.5,491.5 L278.5,491.5 L278.5,493.5 L279.5,493.5 L279.5,494.5 L281.5,494.5 L281.5,499.5 L283.5,499.5 L283.5,495.5 L284.5,495.5 L284.5,508.5 L286.5,508.5 L286.5,506.5 L287.5,506.5 L287.5,496.5 L289.5,496.5 L289.5,483.5 L291.5,483.5 L291.5,488.5 L292.5,488.5 L292.5,482.5 L294.5,482.5 L294.5,492.5 L295.5,492.5 L295.5,491.5 L297.5,491.5 L297.5,488.5 L299.5,488.5 L299.5,494.5 L300.5,494.5 L300.5,489.5 L302.5,489.5 L302.5,491.5 L304.5,491.5 L304.5,495.5 L305.5,495.5 L305.5,490.5 L307.5,490.5 L307.5,491.5 L308.5,491.5 L308.5,491.5 L310.5,491.5 L310.5,481.5 L312.5,481.5 L312.5,479.5 L313.5,479.5 L313.5,493.5 L315.5,493.5 L315.5,495.5 L316.5,495.5 L316.5,493.5 L318.5,493.5 L318.5,496.5 L320.5,496.5 L320.5,490.5 L321.5,490.5 L321.5,480.5 L323.5,480.5 L323.5,481.5 L324.5,481.5 L324.5,485.5 L326.5,485.5 L326.5,506.5 L328.5,506.5 L328.5,495.5 L329.5,495.5 L329.5,489.5 L331.5,489.5" fill="none" stroke="#7ea4ae" stroke-width="1" stroke-linejoin="miter"/>
<path d="M39.5,491.5 L43.5,491.5 L43.5,486.5 L50.5,486.5 L50.5,490.5 L56.5,490.5 L56.5,484.5 L62.5,484.5 L62.5,481.5 L69.5,481.5 L69.5,480.5 L74.5,480.5 L74.5,489.5 L79.5,489.5 L79.5,486.5 L89.5,486.5 L89.5,487.5 L90.5,487.5 L90.5,486.5 L92.5,486.5 L92.5,490.5 L93.5,490.5 L93.5,481.5 L95.5,481.5 L95.5,479.5 L96.5,479.5 L96.5,485.5 L98.5,485.5 L98.5,483.5 L100.5,483.5 L100.5,486.5 L101.5,486.5 L101.5,487.5 L103.5,487.5 L103.5,481.5 L104.5,481.5 L104.5,493.5 L106.5,493.5 L106.5,487.5 L108.5,487.5 L108.5,482.5 L109.5,482.5 L109.5,475.5 L111.5,475.5 L111.5,476.5 L112.5,476.5 L112.5,480.5 L114.5,480.5 L114.5,470.5 L116.5,470.5 L116.5,475.5 L117.5,475.5 L117.5,468.5 L119.5,468.5 L119.5,467.5 L120.5,467.5 L120.5,471.5 L122.5,471.5 L122.5,469.5 L124.5,469.5 L124.5,473.5 L125.5,473.5 L125.5,472.5 L127.5,472.5 L127.5,460.5 L128.5,460.5 L128.5,463.5 L130.5,463.5 L130.5,464.5 L132.5,464.5 L132.5,461.5 L133.5,461.5 L133.5,452.5 L135.5,452.5 L135.5,442.5 L136.5,442.5 L136.5,457.5 L138.5,457.5 L138.5,448.5 L140.5,448.5 L140.5,451.5 L141.5,451.5 L141.5,452.5 L143.5,452.5 L143.5,447.5 L144.5,447.5 L144.5,456.5 L146.5,456.5 L146.5,451.5 L148.5,451.5 L148.5,442.5 L149.5,442.5 L149.5,439.5 L151.5,439.5 L151.5,440.5 L152.5,440.5 L152.5,421.5 L154.5,421.5 L154.5,426.5 L156.5,426.5 L156.5,429.5 L157.5,429.5 L157.5,424.5 L159.5,424.5 L159.5,430.5 L160.5,430.5 L160.5,423.5 L162.5,423.5 L162.5,422.5 L164.5,422.5 L164.5,425.5 L165.5,425.5 L165.5,415.5 L167.5,415.5 L167.5,412.5 L168.5,412.5 L168.5,419.5 L170.5,419.5 L170.5,424.5 L172.5,424.5 L172.5,419.5 L173.5,419.5 L173.5,420.5 L175.5,420.5 L175.5,428.5 L176.5,428.5 L176.5,425.5 L178.5,425.5 L178.5,428.5 L180.5,428.5 L180.5,437.5 L181.5,437.5 L181.5,437.5 L183.5,437.5 L183.5,441.5 L184.5,441.5 L184.5,443.5 L186.5,443.5 L186.5,444.5 L188.5,444.5 L188.5,441.5 L189.5,441.5 L189.5,431.5 L191.5,431.5 L191.5,441.5 L192.5,441.5 L192.5,435.5 L194.5,435.5 L194.5,432.5 L196.5,432.5 L196.5,435.5 L197.5,435.5 L197.5,432.5 L199.5,432.5 L199.5,433.5 L200.5,433.5 L200.5,429.5 L202.5,429.5 L202.5,435.5 L204.5,435.5 L204.5,432.5 L205.5,432.5 L205.5,434.5 L207.5,434.5 L207.5,437.5 L208.5,437.5 L208.5,443.5 L210.5,443.5 L210.5,442.5 L212.5,442.5 L212.5,443.5 L213.5,443.5 L213.5,440.5 L215.5,440.5 L215.5,451.5 L216.5,451.5 L216.5,445.5 L218.5,445.5 L218.5,452.5 L220.5,452.5 L220.5,456.5 L221.5,456.5 L221.5,461.5 L223.5,461.5 L223.5,456.5 L224.5,456.5 L224.5,457.5 L226.5,457.5 L226.5,461.5 L228.5,461.5 L228.5,458.5 L229.5,458.5 L229.5,464.5 L231.5,464.5 L231.5,462.5 L232.5,462.5 L232.5,467.5 L234.5,467.5 L234.5,465.5 L236.5,465.5 L236.5,467.5 L237.5,467.5 L237.5,475.5 L239.5,475.5 L239.5,466.5 L240.5,466.5 L240.5,467.5 L242.5,467.5 L242.5,460.5 L244.5,460.5 L244.5,461.5 L245.5,461.5 L245.5,466.5 L247.5,466.5 L247.5,466.5 L248.5,466.5 L248.5,469.5 L250.5,469.5 L250.5,474.5 L252.5,474.5 L252.5,471.5 L253.5,471.5 L253.5,473.5 L255.5,473.5 L255.5,469.5 L256.5,469.5 L256.5,475.5 L258.5,475.5 L258.5,477.5 L260.5,477.5 L260.5,475.5 L261.5,475.5 L261.5,473.5 L263.5,473.5 L263.5,473.5 L264.5,473.5 L264.5,474.5 L266.5,474.5 L266.5,469.5 L268.5,469.5 L268.5,473.5 L269.5,473.5 L269.5,469.5 L271.5,469.5 L271.5,477.5 L272.5,477.5 L272.5,477.5 L274.5,477.5 L274.5,474.5 L276.5,474.5 L276.5,471.5 L277.5,471.5 L277.5,480.5 L279.5,480.5 L279.5,481.5 L280.5,481.5 L280.5,473.5 L282.5,473.5 L282.5,475.5 L284.5,475.5 L284.5,480.5 L285.5,480.5 L285.5,475.5 L287.5,475.5 L287.5,478.5 L288.5,478.5 L288.5,477.5 L290.5,477.5 L290.5,480.5 L292.5,480.5 L292.5,470.5 L293.5,470.5 L293.5,482.5 L295.5,482.5 L295.5,476.5 L297.5,476.5 L297.5,484.5 L298.5,484.5 L298.5,489.5 L300.5,489.5 L300.5,477.5 L301.5,477.5 L301.5,487.5 L303.5,487.5 L303.5,472.5 L305.5,472.5 L305.5,490.5 L306.5,490.5 L306.5,488.5 L308.5,488.5 L308.5,478.5 L309.5,478.5 L309.5,482.5 L311.5,482.5 L311.5,487.5 L313.5,487.5 L313.5,481.5 L314.5,481.5 L314.5,481.5 L316.5,481.5 L316.5,479.5 L317.5,479.5 L317.5,479.5 L319.5,479.5 L319.5,471.5 L321.5,471.5 L321.5,481.5 L322.5,481.5 L322.5,482.5 L324.5,482.5 L324.5,478.5 L325.5,478.5 L325.5,472.5 L327.5,472.5 L327.5,479.5 L329.5,479.5 L329.5,485.5 L330.5,485.5 L330.5,473.5 L331.5,473.5" fill="none" stroke="#8eb266" stroke-width="1" stroke-linejoin="miter"/>
<path d="M39.5,471.5 L43.5,471.5 L43.5,467.5 L56.5,467.5 L56.5,472.5 L62.5,472.5 L62.5,467.5 L68.5,467.5 L68.5,466.5 L86.5,466.5 L86.5,461.5 L91.5,461.5 L91.5,456.5 L91.5,456.5 L93.5,456.5 L93.5,453.5 L94.5,453.5 L94.5,456.5 L96.5,456.5 L96.5,456.5 L98.5,456.5 L98.5,453.5 L99.5,453.5 L99.5,455.5 L101.5,455.5 L101.5,462.5 L102.5,462.5 L102.5,459.5 L104.5,459.5 L104.5,451.5 L106.5,451.5 L106.5,447.5 L107.5,447.5 L107.5,446.5 L109.5,446.5 L109.5,437.5 L110.5,437.5 L110.5,434.5 L112.5,434.5 L112.5,425.5 L114.5,425.5 L114.5,422.5 L115.5,422.5 L115.5,423.5 L117.5,423.5 L117.5,421.5 L118.5,421.5 L118.5,418.5 L120.5,418.5 L120.5,416.5 L122.5,416.5 L122.5,412.5 L123.5,412.5 L123.5,414.5 L125.5,414.5 L125.5,413.5 L126.5,413.5 L126.5,408.5 L128.5,408.5 L128.5,405.5 L130.5,405.5 L130.5,401.5 L131.5,401.5 L131.5,395.5 L133.5,395.5 L133.5,396.5 L134.5,396.5 L134.5,393.5 L136.5,393.5 L136.5,398.5 L138.5,398.5 L138.5,400.5 L139.5,400.5 L139.5,402.5 L141.5,402.5 L141.5,401.5 L142.5,401.5 L142.5,397.5 L144.5,397.5 L144.5,396.5 L146.5,396.5 L146.5,393.5 L147.5,393.5 L147.5,388.5 L149.5,388.5 L149.5,385.5 L150.5,385.5 L150.5,384.5 L152.5,384.5 L152.5,378.5 L154.5,378.5 L154.5,378.5 L155.5,378.5 L155.5,376.5 L157.5,376.5 L157.5,376.5 L158.5,376.5 L158.5,378.5 L160.5,378.5 L160.5,372.5 L162.5,372.5 L162.5,369.5 L163.5,369.5 L163.5,366.5 L165.5,366.5 L165.5,369.5 L166.5,369.5 L166.5,369.5 L168.5,369.5 L168.5,370.5 L170.5,370.5 L170.5,370.5 L171.5,370.5 L171.5,371.5 L173.5,371.5 L173.5,373.5 L174.5,373.5 L174.5,371.5 L176.5,371.5 L176.5,377.5 L178.5,377.5 L178.5,377.5 L179.5,377.5 L179.5,372.5 L181.5,372.5 L181.5,379.5 L182.5,379.5 L182.5,380.5 L184.5,380.5 L184.5,381.5 L186.5,381.5 L186.5,384.5 L187.5,384.5 L187.5,382.5 L189.5,382.5 L189.5,383.5 L190.5,383.5 L190.5,379.5 L192.5,379.5 L192.5,382.5 L194.5,382.5 L194.5,381.5 L195.5,381.5 L195.5,378.5 L197.5,378.5 L197.5,375.5 L198.5,375.5 L198.5,378.5 L200.5,378.5 L200.5,377.5 L202.5,377.5 L202.5,380.5 L203.5,380.5 L203.5,379.5 L205.5,379.5 L205.5,379.5 L206.5,379.5 L206.5,380.5 L208.5,380.5 L208.5,384.5 L210.5,384.5 L210.5,385.5 L211.5,385.5 L211.5,382.5 L213.5,382.5 L213.5,391.5 L214.5,391.5 L214.5,392.5 L216.5,392.5 L216.5,394.5 L218.5,394.5 L218.5,396.5 L219.5,396.5 L219.5,397.5 L221.5,397.5 L221.5,403.5 L222.5,403.5 L222.5,400.5 L224.5,400.5 L224.5,401.5 L226.5,401.5 L226.5,401.5 L227.5,401.5 L227.5,404.5 L229.5,404.5 L229.5,405.5 L230.5,405.5 L230.5,406.5 L232.5,406.5 L232.5,408.5 L234.5,408.5 L234.5,407.5 L235.5,407.5 L235.5,411.5 L237.5,411.5 L237.5,411.5 L238.5,411.5 L238.5,413.5 L240.5,413.5 L240.5,418.5 L242.5,418.5 L242.5,416.5 L243.5,416.5 L243.5,420.5 L245.5,420.5 L245.5,421.5 L246.5,421.5 L246.5,418.5 L248.5,418.5 L248.5,422.5 L250.5,422.5 L250.5,425.5 L251.5,425.5 L251.5,426.5 L253.5,426.5 L253.5,427.5 L254.5,427.5 L254.5,429.5 L256.5,429.5 L256.5,429.5 L258.5,429.5 L258.5,427.5 L259.5,427.5 L259.5,429.5 L261.5,429.5 L261.5,430.5 L262.5,430.5 L262.5,429.5 L264.5,429.5 L264.5,429.5 L266.5,429.5 L266.5,430.5 L267.5,430.5 L267.5,431.5 L269.5,431.5 L269.5,432.5 L270.5,432.5 L270.5,432.5 L272.5,432.5 L272.5,431.5 L274.5,431.5 L274.5,431.5 L275.5,431.5 L275.5,434.5 L277.5,434.5 L277.5,436.5 L278.5,436.5 L278.5,440.5 L280.5,440.5 L280.5,442.5 L282.5,442.5 L282.5,444.5 L283.5,444.5 L283.5,444.5 L285.5,444.5 L285.5,445.5 L286.5,445.5 L286.5,447.5 L288.5,447.5 L288.5,443.5 L290.5,443.5 L290.5,441.5 L291.5,441.5 L291.5,443.5 L293.5,443.5 L293.5,437.5 L295.5,437.5 L295.5,443.5 L296.5,443.5 L296.5,445.5 L298.5,445.5 L298.5,445.5 L299.5,445.5 L299.5,449.5 L301.5,449.5 L301.5,448.5 L303.5,448.5 L303.5,448.5 L304.5,448.5 L304.5,454.5 L306.5,454.5 L306.5,456.5 L307.5,456.5 L307.5,454.5 L309.5,454.5 L309.5,452.5 L311.5,452.5 L311.5,453.5 L312.5,453.5 L312.5,451.5 L314.5,451.5 L314.5,452.5 L315.5,452.5 L315.5,452.5 L317.5,452.5 L317.5,452.5 L319.5,452.5 L319.5,456.5 L320.5,456.5 L320.5,453.5 L322.5,453.5 L322.5,452.5 L323.5,452.5 L323.5,452.5 L325.5,452.5 L325.5,451.5 L327.5,451.5 L327.5,454.5 L328.5,454.5 L328.5,455.5 L330.5,455.5 L330.5,458.5 L331.5,458.5" fill="none" stroke="#9c3cae" stroke-width="1" stroke-linejoin="miter"/>
<path d="M39.5,482.5 L50.5,482.5 L50.5,481.5 L56.5,481.5 L56.5,483.5 L62.5,483.5 L62.5,482.5 L68.5,482.5 L68.5,466.5 L74.5,466.5 L74.5,457.5 L80.5,457.5 L80.5,443.5 L86.5,443.5 L86.5,423.5 L90.5,423.5 L90.5,412.5 L93.5,412.5 L93.5,407.5 L95.5,407.5 L95.5,406.5 L96.5,406.5 L96.5,404.5 L98.5,404.5 L98.5,401.5 L99.5,401.5 L99.5,400.5 L101.5,400.5 L101.5,402.5 L102.5,402.5 L102.5,402.5 L104.5,402.5 L104.5,400.5 L106.5,400.5 L106.5,395.5 L107.5,395.5 L107.5,390.5 L109.5,390.5 L109.5,385.5 L110.5,385.5 L110.5,380.5 L112.5,380.5 L112.5,377.5 L114.5,377.5 L114.5,375.5 L115.5,375.5 L115.5,373.5 L117.5,373.5 L117.5,373.5 L118.5,373.5 L118.5,374.5 L120.5,374.5 L120.5,371.5 L122.5,371.5 L122.5,369.5 L123.5,369.5 L123.5,366.5 L125.5,366.5 L125.5,365.5 L126.5,365.5 L126.5,362.5 L128.5,362.5 L128.5,360.5 L130.5,360.5 L130.5,357.5 L131.5,357.5 L131.5,355.5 L133.5,355.5 L133.5,353.5 L134.5,353.5 L134.5,354.5 L136.5,354.5 L136.5,353.5 L138.5,353.5 L138.5,353.5 L139.5,353.5 L139.5,353.5 L141.5,353.5 L141.5,349.5 L142.5,349.5 L142.5,347.5 L144.5,347.5 L144.5,344.5 L146.5,344.5 L146.5,344.5 L147.5,344.5 L147.5,342.5 L149.5,342.5 L149.5,341.5 L150.5,341.5 L150.5,342.5 L152.5,342.5 L152.5,338.5 L154.5,338.5 L154.5,338.5 L155.5,338.5 L155.5,337.5 L157.5,337.5 L157.5,337.5 L158.5,337.5 L158.5,338.5 L160.5,338.5 L160.5,336.5 L162.5,336.5 L162.5,334.5 L163.5,334.5 L163.5,333.5 L165.5,333.5 L165.5,330.5 L166.5,330.5 L166.5,330.5 L168.5,330.5 L168.5,329.5 L170.5,329.5 L170.5,330.5 L171.5,330.5 L171.5,329.5 L173.5,329.5 L173.5,330.5 L174.5,330.5 L174.5,330.5 L176.5,330.5 L176.5,331.5 L178.5,331.5 L178.5,330.5 L179.5,330.5 L179.5,331.5 L181.5,331.5 L181.5,330.5 L182.5,330.5 L182.5,331.5 L184.5,331.5 L184.5,331.5 L186.5,331.5 L186.5,331.5 L187.5,331.5 L187.5,330.5 L189.5,330.5 L189.5,331.5 L190.5,331.5 L190.5,330.5 L192.5,330.5 L192.5,330.5 L194.5,330.5 L194.5,328.5 L195.5,328.5 L195.5,328.5 L197.5,328.5 L197.5,327.5 L198.5,327.5 L198.5,327.5 L200.5,327.5 L200.5,327.5 L202.5,327.5 L202.5,327.5 L203.5,327.5 L203.5,327.5 L205.5,327.5 L205.5,327.5 L206.5,327.5 L206.5,327.5 L208.5,327.5 L208.5,327.5 L210.5,327.5 L210.5,327.5 L211.5,327.5 L211.5,327.5 L213.5,327.5 L213.5,328.5 L214.5,328.5 L214.5,328.5 L216.5,328.5 L216.5,328.5 L218.5,328.5 L218.5,327.5 L219.5,327.5 L219.5,327.5 L221.5,327.5 L221.5,327.5 L222.5,327.5 L222.5,326.5 L224.5,326.5 L224.5,326.5 L226.5,326.5 L226.5,328.5 L227.5,328.5 L227.5,327.5 L229.5,327.5 L229.5,327.5 L230.5,327.5 L230.5,327.5 L232.5,327.5 L232.5,326.5 L234.5,326.5 L234.5,329.5 L235.5,329.5 L235.5,329.5 L237.5,329.5 L237.5,328.5 L238.5,328.5 L238.5,329.5 L240.5,329.5 L240.5,329.5 L242.5,329.5 L242.5,328.5 L243.5,328.5 L243.5,329.5 L245.5,329.5 L245.5,329.5 L246.5,329.5 L246.5,330.5 L248.5,330.5 L248.5,330.5 L250.5,330.5 L250.5,330.5 L251.5,330.5 L251.5,331.5 L253.5,331.5 L253.5,330.5 L254.5,330.5 L254.5,331.5 L256.5,331.5 L256.5,332.5 L258.5,332.5 L258.5,332.5 L259.5,332.5 L259.5,331.5 L261.5,331.5 L261.5,332.5 L262.5,332.5 L262.5,333.5 L264.5,333.5 L264.5,334.5 L266.5,334.5 L266.5,335.5 L267.5,335.5 L267.5,334.5 L269.5,334.5 L269.5,335.5 L270.5,335.5 L270.5,336.5 L272.5,336.5 L272.5,336.5 L274.5,336.5 L274.5,335.5 L275.5,335.5 L275.5,338.5 L277.5,338.5 L277.5,339.5 L278.5,339.5 L278.5,339.5 L280.5,339.5 L280.5,338.5 L282.5,338.5 L282.5,339.5 L283.5,339.5 L283.5,340.5 L285.5,340.5 L285.5,341.5 L286.5,341.5 L286.5,341.5 L288.5,341.5 L288.5,341.5 L290.5,341.5 L290.5,342.5 L291.5,342.5 L291.5,341.5 L293.5,341.5 L293.5,343.5 L295.5,343.5 L295.5,342.5 L296.5,342.5 L296.5,342.5 L298.5,342.5 L298.5,343.5 L299.5,343.5 L299.5,344.5 L301.5,344.5 L301.5,345.5 L303.5,345.5 L303.5,345.5 L304.5,345.5 L304.5,345.5 L306.5,345.5 L306.5,346.5 L307.5,346.5 L307.5,347.5 L309.5,347.5 L309.5,347.5 L311.5,347.5 L311.5,348.5 L312.5,348.5 L312.5,348.5 L314.5,348.5 L314.5,349.5 L315.5,349.5 L315.5,348.5 L317.5,348.5 L317.5,348.5 L319.5,348.5 L319.5,349.5 L320.5,349.5 L320.5,350.5 L322.5,350.5 L322.5,351.5 L323.5,351.5 L323.5,351.5 L325.5,351.5 L325.5,351.5 L327.5,351.5 L327.5,351.5 L328.5,351.5 L328.5,354.5 L330.5,354.5 L330.5,354.5 L331.5,354.5" fill="none" stroke="#d4d4d4" stroke-width="1" stroke-linejoin="miter"/>
<path d="M38.5 300.5H331.5V528.5H38.5" fill="none" stroke="#d8d8d8" stroke-width="1"/>
<path d="M38.5 300.0V529.0" fill="none" stroke="#d8d8d8" stroke-width="1" opacity="1.0"/>
<path d="M48.5 528.5v-6M48.5 300.5v6M93.5 528.5v-6M93.5 300.5v6M138.5 528.5v-6M138.5 300.5v6M183.5 528.5v-6M183.5 300.5v6M228.5 528.5v-6M228.5 300.5v6M273.5 528.5v-6M273.5 300.5v6M318.5 528.5v-6M318.5 300.5v6M63.5 528.5v-3M63.5 300.5v3M78.5 528.5v-3M78.5 300.5v3M108.5 528.5v-3M108.5 300.5v3M123.5 528.5v-3M123.5 300.5v3M153.5 528.5v-3M153.5 300.5v3M168.5 528.5v-3M168.5 300.5v3M198.5 528.5v-3M198.5 300.5v3M213.5 528.5v-3M213.5 300.5v3M243.5 528.5v-3M243.5 300.5v3M258.5 528.5v-3M258.5 300.5v3M288.5 528.5v-3M288.5 300.5v3M303.5 528.5v-3M303.5 300.5v3M38.5 528.5h6M331.5 528.5h-6M38.5 505.5h3M331.5 505.5h-3M38.5 492.5h3M331.5 492.5h-3M38.5 482.5h3M331.5 482.5h-3M38.5 475.5h3M331.5 475.5h-3M38.5 469.5h3M331.5 469.5h-3M38.5 464.5h3M331.5 464.5h-3M38.5 459.5h3M331.5 459.5h-3M38.5 456.5h3M331.5 456.5h-3M38.5 452.5h6M331.5 452.5h-6M38.5 429.5h3M331.5 429.5h-3M38.5 416.5h3M331.5 416.5h-3M38.5 407.5h3M331.5 407.5h-3M38.5 399.5h3M331.5 399.5h-3M38.5 393.5h3M331.5 393.5h-3M38.5 388.5h3M331.5 388.5h-3M38.5 384.5h3M331.5 384.5h-3M38.5 380.5h3M331.5 380.5h-3M38.5 376.5h6M331.5 376.5h-6M38.5 354.5h3M331.5 354.5h-3M38.5 340.5h3M331.5 340.5h-3M38.5 331.5h3M331.5 331.5h-3M38.5 323.5h3M331.5 323.5h-3M38.5 317.5h3M331.5 317.5h-3M38.5 312.5h3M331.5 312.5h-3M38.5 308.5h3M331.5 308.5h-3M38.5 304.5h3M331.5 304.5h-3M38.5 301.5h6M331.5 301.5h-6" stroke="#e0e0e0" stroke-width="1" fill="none"/>
<text x="48.2" y="536.3" font-size="6.2" text-anchor="middle" dominant-baseline="central" letter-spacing="0.3" fill="#e8e8e8">00:54:30</text>
<text x="93.2" y="536.3" font-size="6.2" text-anchor="middle" dominant-baseline="central" letter-spacing="0.3" fill="#e8e8e8">00:55:00</text>
<text x="138.2" y="536.3" font-size="6.2" text-anchor="middle" dominant-baseline="central" letter-spacing="0.3" fill="#e8e8e8">00:55:30</text>
<text x="183.2" y="536.3" font-size="6.2" text-anchor="middle" dominant-baseline="central" letter-spacing="0.3" fill="#e8e8e8">00:56:00</text>
<text x="228.2" y="536.3" font-size="6.2" text-anchor="middle" dominant-baseline="central" letter-spacing="0.3" fill="#e8e8e8">00:56:30</text>
<text x="273.2" y="536.3" font-size="6.2" text-anchor="middle" dominant-baseline="central" letter-spacing="0.3" fill="#e8e8e8">00:57:00</text>
<text x="318.2" y="536.3" font-size="6.2" text-anchor="middle" dominant-baseline="central" letter-spacing="0.3" fill="#e8e8e8">00:57:30</text>
<text x="184.5" y="543.4" font-size="6.2" text-anchor="middle" dominant-baseline="central" letter-spacing="0.3" fill="#e8e8e8">Start Time (06-Jun-23 00:54:22)</text>
<text x="27.5" y="530.9" font-size="6.2" fill="#e8e8e8">10<tspan font-size="4.2" dy="-3.5">1</tspan></text>
<text x="27.5" y="455.2" font-size="6.2" fill="#e8e8e8">10<tspan font-size="4.2" dy="-3.5">2</tspan></text>
<text x="27.5" y="379.5" font-size="6.2" fill="#e8e8e8">10<tspan font-size="4.2" dy="-3.5">3</tspan></text>
<text x="27.5" y="303.8" font-size="6.2" fill="#e8e8e8">10<tspan font-size="4.2" dy="-3.5">4</tspan></text>
<text x="20.5" y="416" font-size="5.6" fill="#e8e8e8" text-anchor="middle" transform="rotate(-90 20.5 416)">Counts s<tspan font-size="3.8" dy="-2.4">−1</tspan><tspan dy="2.4"> detector</tspan><tspan font-size="3.8" dy="-2.4">−1</tspan></text>
<path d="M48.3 318.7H55.7" stroke="#d4d4d4" stroke-width="1"/>
<text x="60" y="320.6" font-size="5.4" letter-spacing="0.35" fill="#e8e8e8">10. to 30. keV</text>
<path d="M48.3 324.9H55.7" stroke="#9c3cae" stroke-width="1"/>
<text x="60" y="326.8" font-size="5.4" letter-spacing="0.35" fill="#e8e8e8">30. to 60. keV</text>
<path d="M48.3 331.2H55.7" stroke="#8eb266" stroke-width="1"/>
<text x="60" y="333.1" font-size="5.4" letter-spacing="0.35" fill="#e8e8e8">60. to 120 keV</text>
<path d="M48.3 337.4H55.7" stroke="#7ea4ae" stroke-width="1"/>
<text x="60" y="339.3" font-size="5.4" letter-spacing="0.35" fill="#e8e8e8">120 to 300 keV</text>
</svg>
</body></html>
